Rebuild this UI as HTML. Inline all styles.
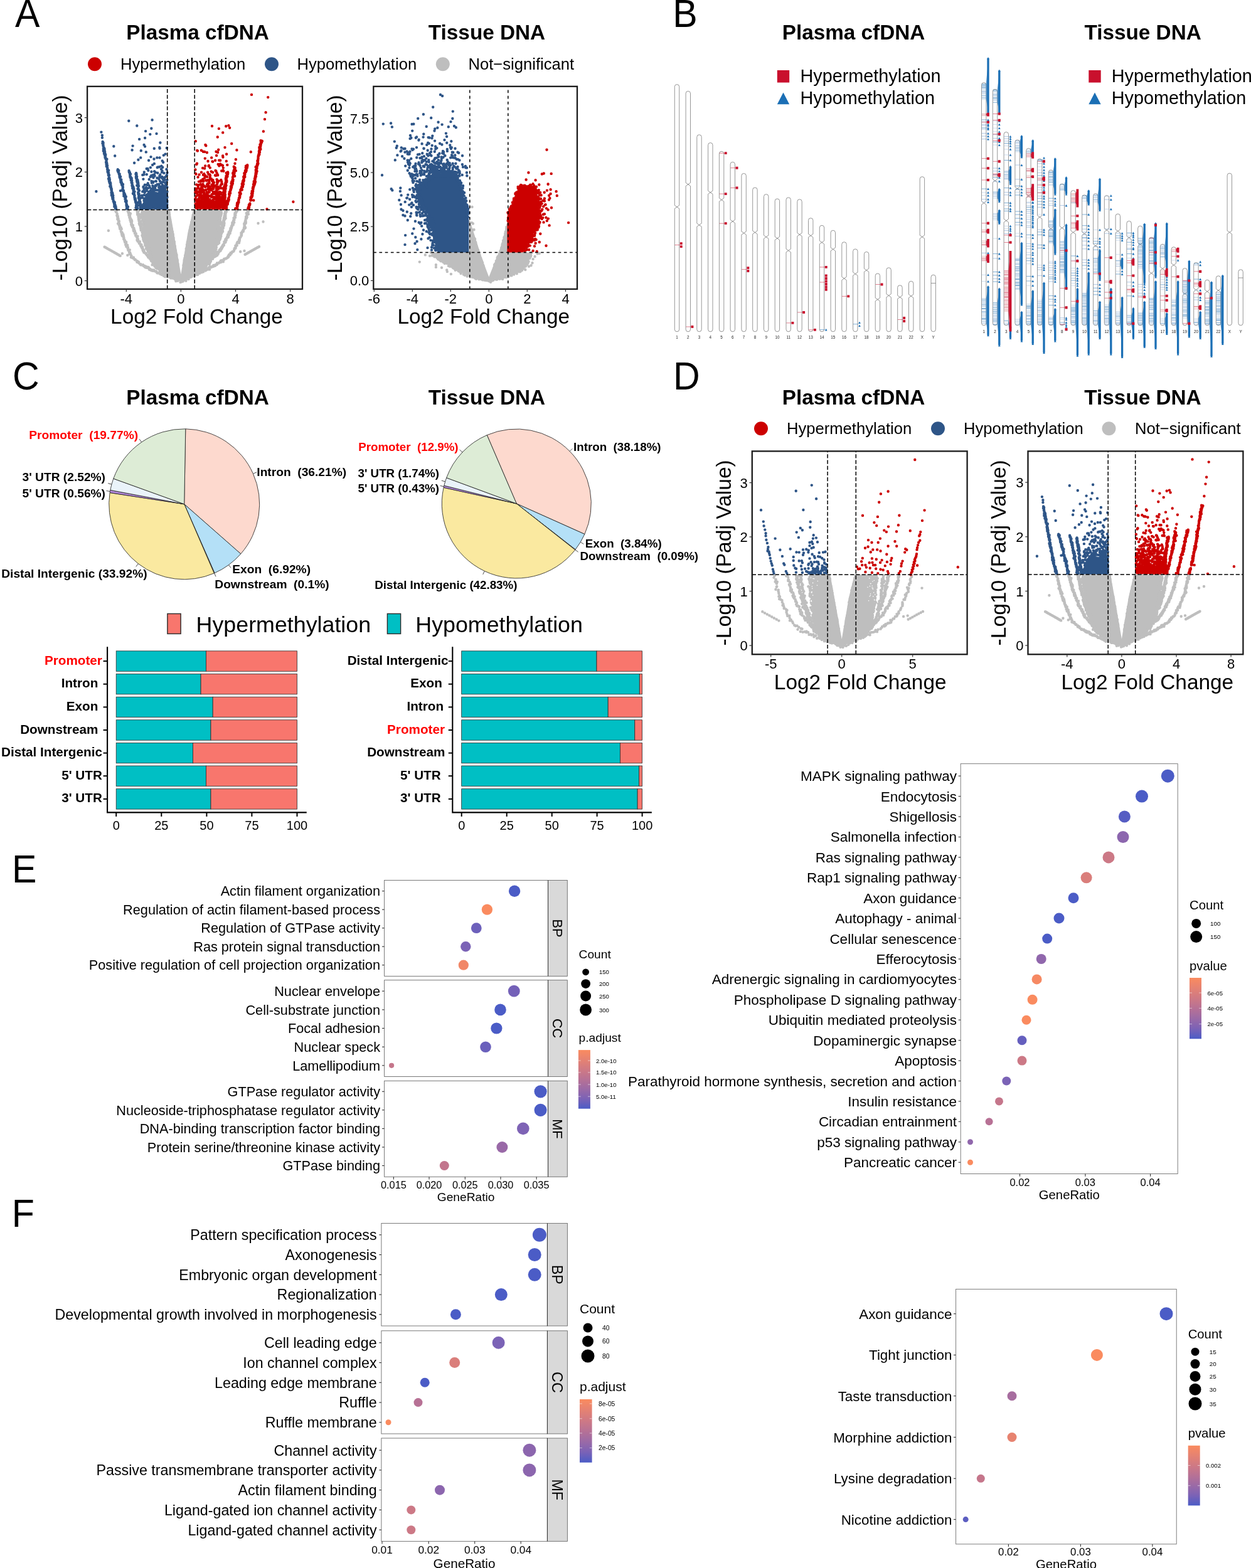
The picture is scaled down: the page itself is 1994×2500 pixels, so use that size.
<!DOCTYPE html>
<html lang="en"><head><meta charset="utf-8"><title>Figure</title>
<style>html,body{margin:0;padding:0;background:#fff;overflow:hidden}svg{display:block}text{white-space:pre}</style></head>
<body>
<svg width="1994" height="2500" viewBox="0 0 1994 2500" font-family='"Liberation Sans", Arial, Helvetica, sans-serif' fill="#000">
<rect width="1994" height="2500" fill="#fff"/>
<text transform="translate(24 42.8) scale(0.985 1.055)" font-size="60">A</text>
<text transform="translate(1072.3 42.8) scale(0.985 1.055)" font-size="60">B</text>
<text transform="translate(20 621) scale(0.985 1.055)" font-size="60">C</text>
<text transform="translate(1072.9 621) scale(0.985 1.055)" font-size="60">D</text>
<text transform="translate(18.9 1406.7) scale(0.985 1.055)" font-size="60">E</text>
<text transform="translate(18.8 1955.5) scale(0.985 1.055)" font-size="60">F</text>
<text x="315" y="62.5" font-size="33.3" text-anchor="middle" font-weight="bold">Plasma cfDNA</text>
<text x="776" y="62.5" font-size="33.3" text-anchor="middle" font-weight="bold">Tissue DNA</text>
<circle cx="151" cy="102.3" r="11" fill="#CC0000"/>
<text x="192" y="111" font-size="25.6">Hypermethylation</text>
<circle cx="433" cy="102.3" r="11" fill="#2E5587"/>
<text x="473.5" y="111" font-size="25.6">Hypomethylation</text>
<circle cx="705.8" cy="102.3" r="11" fill="#BEBEBE"/>
<text x="746.5" y="111" font-size="25.6">Not−significant</text>
<g id="vp">
<path d="M225.2 334.7L270.6 334.7L276.5 368.1L288.4 437.2L299.5 370.2L307.9 334.7L352.9 334.7L349.8 361.9L343.5 397.4L335.1 418.4L318.4 435.1L288.4 449.1L263.9 439.3L247.2 424.6L238.8 403.7L230.5 372.3Z" fill="#BEBEBE"/>
<path d="M352.9 338.3h0M352.7 337.6h0M353.1 340.8h0M351.5 342.3h0M352.3 343.5h0M351.8 345.1h0M350.8 345.8h0M350.9 348h0M351.3 348.6h0M350.3 350h0M350.9 351.4h0M352.1 354.1h0M347.9 352.6h0M350.3 355.5h0M350.5 357.6h0M352.2 357.7h0M349.6 362.3h0M350.4 362.3h0M349 361.4h0M349.5 364.6h0M347.8 365.2h0M348.7 366.3h0M348.5 368.8h0M348.3 369.6h0M348.7 372.4h0M348.1 372.1h0M348.3 373.8h0M348.2 374.6h0M348 377.1h0M345.6 378.2h0M346.6 380.2h0M345.3 380.2h0M346.3 382.3h0M346.1 384.9h0M343.9 385.8h0M346.5 386.7h0M344.3 389.1h0M345.1 390.7h0M344.2 389.7h0M344.2 392.2h0M344.9 394.2h0M342.2 394.2h0M344.5 397.5h0M342.5 398.2h0M343.1 400h0M343 401.1h0M341.5 401.9h0M342.1 401.3h0M340.4 404.9h0M338.6 406.5h0M338.8 408.3h0M338.8 409.5h0M339.6 410.5h0M337 410h0M339.1 412.7h0M336.1 414.3h0M336.1 416.3h0M335.8 416.8h0M334.5 418.6h0M333.3 419.8h0M334.8 418.7h0M329.8 421.8h0M333.8 421.2h0M329 423.8h0M328.4 423.7h0M327.9 425.8h0M326.8 426.5h0M326 426.4h0M324.9 427.3h0M324.2 428.2h0M322.1 431.8h0M322.1 431.3h0M321.7 431.9h0M319.9 433.8h0M319.4 433.2h0M318.9 434.7h0M315.7 435h0M315.1 438.1h0M313 437.2h0M310.7 437.7h0M312.5 438.1h0M309.7 439.1h0M309.7 440.2h0M309.7 440.3h0M305.8 440.6h0M305 441.4h0M303.8 442.1h0M300.8 443.4h0M300.6 442h0M300.6 445.1h0M299.1 444.5h0M296.4 447.8h0M296.9 444.4h0M294 446.3h0M291.9 446.9h0M291.7 448.6h0M291.8 445.3h0M289.6 447h0M289.4 449.2h0M287.5 447.5h0M287.5 450h0M283.2 447.8h0M282.3 446.9h0M280.4 448.3h0M279.3 445.6h0M279.5 444.7h0M277.4 444.2h0M276.2 443.1h0M274.6 443.5h0M273.3 443.3h0M272.1 443.4h0M270.7 442h0M269 441.1h0M267.1 441.6h0M265.9 439.8h0M266.1 440.4h0M264 437.5h0M263.7 438.9h0M260.7 438.5h0M260.4 435.7h0M260.1 435.7h0M259.1 433.3h0M259.7 433.4h0M255.2 433.6h0M255.3 432.4h0M254.3 431.1h0M253.8 429.5h0M253.2 428.8h0M250.5 428.4h0M250.8 427.1h0M248.4 427.1h0M246.4 424.5h0M247.2 423.2h0M246.6 423.1h0M247 420.9h0M244.9 420.9h0M242.6 422.3h0M243.8 417.1h0M244.8 416.5h0M241.7 415.9h0M243.8 413.4h0M242.1 413.1h0M240.9 411.7h0M241.5 409.2h0M239.4 408.4h0M239.4 408.3h0M239.9 406.7h0M239.3 404.9h0M237.9 403.9h0M240.1 401.6h0M237.4 400.3h0M237.1 398.4h0M237.4 397.4h0M238.3 396.4h0M236.8 395.9h0M235.8 395h0M235.1 391.4h0M235 390.7h0M233.6 389.4h0M233 389.5h0M234.2 386h0M233 384.9h0M233.3 382.9h0M232.3 382.4h0M232.3 382.1h0M233.6 379.8h0M232.6 377.1h0M232.3 377h0M231.8 377.2h0M228.7 374.5h0M229.5 373.5h0M229 371h0M230.3 370.7h0M230 367.8h0M229.2 368.1h0M229.5 364.1h0M230.2 364.8h0M230 362.6h0M229.8 360.5h0M229.3 359.6h0M229.2 359.7h0M227.6 357.3h0M228.2 357.1h0M228.7 353.3h0M228.2 353.8h0M229.7 350h0M226.9 351.6h0M225.8 347.6h0M227.5 348.4h0M226.1 346.5h0M226.7 346.1h0M226.4 344.1h0M225.3 341.5h0M225.9 341.5h0M226.4 338.1h0M226.3 338.3h0M269.4 336.8h0M269.7 338h0M270.1 341.8h0M269.9 344.6h0M269.8 345.9h0M271.1 350.2h0M270.5 351.4h0M271.5 353.6h0M271.7 354.8h0M271.1 358.6h0M272.5 360h0M272.9 363.5h0M273.6 364.4h0M273.9 367.4h0M275 369.6h0M275.4 372.4h0M275.7 374h0M275.5 376.1h0M276.5 379.3h0M275.8 380.9h0M276 383.7h0M277.8 385.4h0M277.9 388.3h0M277.8 389.7h0M278.7 392.4h0M278.6 396.3h0M279.2 397.9h0M280 400h0M280 403.9h0M280.4 404.3h0M281.6 406.5h0M281.3 409.1h0M282.2 413h0M282.8 415h0M281.6 416.3h0M282.2 419.1h0M283.6 421.1h0M292.4 423h0M292.9 420.9h0M293.5 417.8h0M293.5 414.9h0M294.1 414.3h0M294.4 411.7h0M295.2 408.6h0M295.3 407.2h0M296.4 404.7h0M298.1 402h0M297.1 400.8h0M296.7 396.7h0M298.1 395.2h0M298.4 392.9h0M297.9 390.1h0M298.7 386.3h0M298.8 385.7h0M300.2 385.1h0M300.6 380.1h0M300.8 379.6h0M300.9 376.9h0M301 374.2h0M302.1 371.1h0M302.8 368.3h0M302.6 366.9h0M303.2 364.9h0M303.6 361.5h0M304.4 360.5h0M305.5 359h0M306.7 354.8h0M305.2 354.3h0M307 349.2h0M307.4 348.1h0M307.3 346.7h0M307.6 342.9h0M308.4 343.1h0M309.5 340.1h0M309 337.7h0M184.2 336.2h0M185 336.4h0M185.6 336.2h0M185.6 338.3h0M184.9 338h0M185.4 338.2h0M186.8 341.1h0M186.9 341.3h0M186.6 342.2h0M186.3 343.6h0M187.8 344.6h0M186.9 344.9h0M187.4 347h0M187.8 345.4h0M188.2 348.9h0M188.6 349.1h0M188.4 348.1h0M187.3 349.5h0M188.7 351.5h0M189.5 352h0M189.9 353h0M189 354.7h0M189 353.1h0M189.1 356h0M188 356.6h0M190.1 356.8h0M189.5 358.4h0M190.4 360.5h0M191.2 359.4h0M190.6 362h0M192.8 362.7h0M191.9 364.6h0M191.8 364h0M191.1 364.8h0M193.8 365.1h0M192.5 366h0M192.8 368.6h0M192.9 369.4h0M193.9 370h0M195 371.2h0M193.9 371h0M193.9 372.7h0M194.6 375.2h0M196.5 374h0M195.3 376.2h0M194.6 375.6h0M196.9 376.2h0M196.3 377.4h0M197.4 378.7h0M197.6 379.9h0M197.7 381.1h0M197.5 380.2h0M197.1 381h0M198.3 383.7h0M199.2 383.4h0M198.7 384.4h0M199.5 385.2h0M199.1 386.2h0M201.2 385.9h0M200.7 386.8h0M201.3 388.6h0M200.1 390.1h0M203.2 391h0M203.2 391.7h0M201.2 393h0M202.8 392.5h0M204.1 394.6h0M203.5 395.8h0M203.7 396.6h0M204 397.3h0M204.3 398.9h0M205.6 399.7h0M205.3 399.2h0M206.8 398.5h0M205.9 402h0M207.3 402.9h0M207.2 403.4h0M207.3 403h0M207 404.4h0M208.2 405.2h0M206.4 405.1h0M208.9 407.6h0M209.4 407.6h0M208.9 410.3h0M210.4 410.7h0M212.9 410.4h0M212.1 411h0M212.4 411.7h0M213.8 412.6h0M215.2 414.1h0M214.9 414.3h0M215.3 413.6h0M216.1 414.2h0M217.9 416.2h0M218.8 416.2h0M218.7 416.5h0M218.4 417.9h0M220.1 417.5h0M221 417.7h0M221.1 419.2h0M221.5 419.5h0M223.4 421.2h0M224.4 421.3h0M223.5 421.4h0M224.4 422.4h0M227 422.7h0M226.5 422.6h0M228 422.3h0M228.8 423.9h0M229.1 423.9h0M230.5 424h0M230.6 425.6h0M232.2 426.6h0M232.2 424.6h0M234.4 427h0M234.1 425.7h0M235.4 425.9h0M236.1 426h0M237 426.5h0M237.8 429.5h0M238.7 429.4h0M239.3 428.6h0M239.5 430.3h0M241.4 431.2h0M241.5 430.3h0M243.2 431.8h0M245.3 430.7h0M244.1 430.4h0M246.7 431.9h0M246.2 432.3h0M245.7 431.6h0M249 433.5h0M249.3 432.9h0M250.5 435.2h0M250.1 434.4h0M251.5 435h0M252.7 435.1h0M252.9 435.5h0M254 435.8h0M255.2 436.8h0M255.7 436.5h0M257.7 437h0M257.7 438.1h0M258.9 438h0M259.7 437.5h0M260.8 439.7h0M261.7 438h0M262.4 438.9h0M262.9 440h0M263.1 441.2h0M203.6 336.2h0M204.3 336.2h0M204.9 336.2h0M204.2 336.2h0M204.1 337.7h0M205.2 338.7h0M204.5 338.7h0M205 340h0M206.3 339.5h0M208 340.4h0M205.3 341.4h0M206.2 342.1h0M205.4 343.3h0M206.1 344h0M207.2 342.7h0M205.8 343.5h0M206.8 344.9h0M207 344.9h0M207.3 347.1h0M206.3 346.7h0M207.6 347.3h0M207.4 349.3h0M208.7 349.3h0M207.4 350.9h0M208.4 349.6h0M208.1 350.3h0M210 351.4h0M208.8 350.4h0M209.4 351.8h0M208.3 353.6h0M208.7 354.4h0M210.2 353.2h0M209.6 354h0M209.8 356.4h0M209.1 357.7h0M210 356.2h0M210.3 358.2h0M209.6 358.3h0M209.8 359.8h0M211.1 359.3h0M211.9 359.3h0M211.1 362.2h0M211.4 362.5h0M211.9 361.7h0M211.8 362.8h0M211.9 362.8h0M211.9 363h0M212.8 364.9h0M213.5 364h0M213.8 365.8h0M212.5 366.5h0M214.3 367.5h0M214.5 368.4h0M214.8 368.3h0M213 368.4h0M215 369.2h0M215.4 370.8h0M215.2 372.1h0M214.8 372.1h0M215.4 371.5h0M216.4 372.2h0M216.8 372.5h0M216.5 373.3h0M216.5 374.3h0M216.1 375.6h0M216.3 375.1h0M218.1 377.1h0M218.1 377.2h0M219.5 376.8h0M217.7 377.6h0M219 379.1h0M219.4 380.2h0M218.8 379.5h0M218.5 382.3h0M220.1 381.8h0M219.4 381.8h0M219.7 382.4h0M218.5 383.1h0M220.2 384h0M220.9 385h0M221.1 385.5h0M219.6 384.8h0M222.9 385.3h0M221.8 387.3h0M221.7 387.9h0M221.6 386.6h0M221.9 387.4h0M223.2 388.9h0M223.7 389h0M225.5 390.3h0M224 391.3h0M224.2 391.1h0M224.7 392.8h0M225.4 393.4h0M224.9 392.8h0M227 393.8h0M226.2 395h0M227.2 394.2h0M226.1 395.4h0M226.5 394.6h0M227 394.9h0M227.6 397.9h0M228.1 397.3h0M228.6 398.1h0M227.4 398.6h0M228 400h0M229.6 398.9h0M229.1 401.5h0M230 401.7h0M229.3 402.6h0M229.7 402.5h0M232.1 404.2h0M232 404h0M231.6 403.6h0M233.3 404.5h0M232.8 404h0M233.4 405.9h0M233.2 405.6h0M235.3 406.6h0M234.4 406.2h0M234.6 407.4h0M236.4 407.6h0M237.1 407.9h0M236.1 409.7h0M236.6 409h0M237.1 410.4h0M236.4 410.4h0M237.9 410.8h0M239 411.2h0M238.6 412.2h0M239.8 412.5h0M240.8 412.5h0M241 413.1h0M240.4 414.5h0M242.4 415.4h0M241.1 416.2h0M241.6 415.2h0M242.5 416.4h0M243.3 416.4h0M243.3 417.8h0M243.6 417.8h0M243.4 419h0M244.4 419.3h0M244.5 419.4h0M244.4 420h0M246.1 420.5h0M246.6 421.2h0M247.3 421.4h0M245.6 422.3h0M247.1 421.9h0M219.4 336.2h0M219.3 336.2h0M219.3 336.2h0M220.5 336.2h0M219.3 336.7h0M218.2 336.2h0M221 336.2h0M220 337.3h0M219.1 336.9h0M219.1 339.3h0M218.9 339.6h0M220.1 341.1h0M219.7 341h0M220.7 340.4h0M219 342.1h0M219.3 341.2h0M221 342.8h0M219.9 342.4h0M220.4 343.7h0M222.4 342.1h0M221.4 341.8h0M220.8 343.5h0M222.3 344.8h0M220.5 344.8h0M220.7 345.8h0M221 346.6h0M222.3 347h0M220.5 345.9h0M220.9 348.2h0M221.3 347.5h0M221.7 347.4h0M220.9 349.2h0M221.6 349h0M222.1 349.3h0M221.5 349.9h0M222.5 350.7h0M221.3 350.9h0M222.7 352.9h0M221.5 352.3h0M222.2 353.1h0M222.8 354h0M222.9 353h0M222.3 354.2h0M223 356h0M224 354h0M223.2 354.3h0M221.8 356.2h0M223.5 355.4h0M224.3 355.9h0M222.4 357.5h0M223.5 357.4h0M223.4 358.2h0M223.4 358.3h0M222.3 358h0M224.1 358.9h0M224.2 360.7h0M223.6 360.5h0M225.4 361.2h0M225.3 362.3h0M224.7 361.6h0M223.7 361.3h0M224.7 362.9h0M224.4 363.6h0M224.2 364.2h0M224.8 363.9h0M224.9 364.3h0M226.7 363.7h0M225.2 366.1h0M225.7 365.5h0M226.6 365.4h0M224.6 367h0M224.6 365.4h0M226.3 368h0M226.4 367.6h0M226.1 367.7h0M227.3 369.4h0M226.7 367.9h0M226.9 370.8h0M227.3 370.8h0M226.6 370.4h0M227.1 371.4h0M227 371.3h0M228.1 371.2h0M227.1 372h0M227.9 373.9h0M228.2 373.9h0M226.5 375.3h0M227.9 374.2h0M227.7 374.5h0M228.1 375.4h0M227.7 373.8h0M228 376.4h0M228.5 376.4h0M228.6 377.7h0M228.1 378.4h0M227.2 377h0M228 376.6h0M228.1 379.6h0M229.8 379.3h0M230.2 379.8h0M228.8 380.3h0M229.2 381.1h0M228.3 381.7h0M229.2 382h0M228.6 381.6h0M229.8 383h0M229 384h0M230.4 382.9h0M231 383.8h0M231.1 385.8h0M230.9 384.2h0M230.2 385.4h0M230.9 384.9h0M230.4 386.4h0M232.7 384.5h0M231.7 386.6h0M231.9 387.8h0M231.5 386.9h0M230.7 386.8h0M232.7 388.4h0M231.6 388.8h0M231.2 389.6h0M233.2 390.6h0M231.4 391.2h0M232.1 389.4h0M232 390.5h0M233 390.9h0M232.1 391.8h0M234.6 392h0M233.8 393h0M235.5 392h0M234.6 392.9h0M233.5 394.1h0M236.4 394.1h0M233 396h0M233.9 395.3h0M234.6 396h0M234.7 396.6h0M235.2 397.4h0M234.8 396.7h0M234.5 398.1h0M235.4 398.5h0M236 399.7h0M235.9 399.5h0M235.1 398.7h0M235.9 399h0M236.7 399.4h0M236.5 399h0M235.8 401h0M236.6 400.4h0M395.9 336.2h0M396.1 336.2h0M395 336.2h0M395.6 338.3h0M394.6 337h0M394.9 339.6h0M392.7 340h0M395.9 341.4h0M394.6 342h0M394.7 341.9h0M393.2 343.7h0M393.1 344.5h0M392 345.8h0M393.8 346.1h0M393.1 348.1h0M392 347.2h0M391.8 348.5h0M391.6 349.7h0M391.7 349.5h0M390.9 352.2h0M391.7 352.1h0M391.5 353.1h0M391.9 354.4h0M390.7 354.3h0M390.2 354.9h0M391.7 356h0M389.1 357h0M389.8 358.7h0M389.5 359.7h0M390.2 361.1h0M391.2 363.1h0M390.4 361.2h0M388.9 363h0M390.3 364.1h0M389.3 364.4h0M388.5 365.8h0M387.5 366.7h0M388.2 366.9h0M387.8 369h0M386.8 368.7h0M386.2 369.1h0M386.2 370.1h0M385.6 370.7h0M384.4 371.4h0M385.3 372.1h0M384.3 374.9h0M385.2 374.1h0M384.5 374.9h0M384.9 375.8h0M383.5 378.1h0M382.5 378.8h0M382.2 378.9h0M382.2 379.5h0M382.2 380.4h0M381 381.9h0M381.9 383h0M382 382h0M381.6 384.7h0M379.9 385.3h0M380.9 385h0M378.5 385.9h0M381 387.2h0M377.8 387.6h0M377.5 388.3h0M377.9 387.6h0M377.7 391.2h0M376.9 390.8h0M377.4 391h0M375.3 391.7h0M375.7 393.7h0M375.3 394.7h0M375.6 395.4h0M374 395.7h0M375.1 396h0M373.6 397.2h0M373.3 397.6h0M372 400.9h0M373.1 399.4h0M371.8 401h0M370.9 401.6h0M370.1 401.5h0M369.8 402.1h0M367.5 403.1h0M368.8 404h0M367.3 404.6h0M367.5 403.7h0M365.2 405.9h0M365.4 407h0M366.9 406.5h0M364.3 407.5h0M364.6 407.4h0M364.4 409.5h0M363.3 409.1h0M362.9 410.7h0M360.7 412.2h0M360.7 411.6h0M359.9 412.3h0M360.4 411.9h0M357.6 412.7h0M357.1 412.9h0M357.2 413.9h0M357.4 413.7h0M356 414.5h0M355.9 417.2h0M354.4 417h0M353 415.2h0M351.8 415.7h0M351.2 417.1h0M351.9 418.3h0M350.7 418h0M349.1 418.8h0M348.9 419.4h0M348.3 419.6h0M345.9 419.4h0M345.9 421.8h0M345.4 421.6h0M346 421.8h0M343.9 421.9h0M342.7 422.8h0M343.4 423.4h0M342.4 423.9h0M342.4 423.3h0M340.3 424.7h0M340.3 422.9h0M338.2 424.9h0M337.1 426h0M337.1 425.5h0M335 425.3h0M334.7 426.9h0M333.7 425.6h0M332.7 427h0M334.1 429.6h0M331.8 428.9h0M332.3 429.5h0M330.4 428.1h0M329.3 428.1h0M329 430.4h0M326.7 430.2h0M327.5 431.5h0M327.4 431.6h0M325.2 431.2h0M325.7 431.5h0M324 433.4h0M323.3 431.7h0M322.2 433.5h0M321.5 434.3h0M321.7 433.4h0M319.6 434.2h0M318.3 435h0M318.2 435.7h0M376.5 336.2h0M378.1 336.2h0M376.3 336.2h0M376.3 336.2h0M376.3 336.3h0M375.9 337.6h0M376.6 338.3h0M375.4 338.7h0M375.7 338.9h0M374.4 340h0M375.4 341.3h0M375.8 339.9h0M374.2 342h0M374.4 342.2h0M374.7 343.8h0M374.8 343.9h0M375.5 343.1h0M374.2 345h0M374.3 343.9h0M375 346.8h0M374 346.6h0M373.7 347.1h0M373.5 347.6h0M373.9 347.1h0M373.6 347.4h0M372.5 347.6h0M373.1 348.1h0M373.3 349.8h0M373.2 349.6h0M372.7 350.5h0M373.5 350.5h0M372.1 351.5h0M372.1 351.6h0M371.7 353.4h0M371.5 353.9h0M373.2 354.7h0M370.4 354.9h0M371.8 355.3h0M370.2 356h0M370.4 356.9h0M371.8 358.3h0M370.6 356h0M371.5 358.2h0M370.3 359.1h0M370.8 357.8h0M369.9 358.9h0M369.9 359.9h0M369.2 360.1h0M369.9 360.7h0M369.1 361.1h0M369 360.5h0M369 361.6h0M368.7 361.8h0M369.1 363.6h0M367.3 364.1h0M367.5 365.7h0M368.2 364.4h0M367.8 365.5h0M368.2 366.3h0M367.6 365.8h0M367.5 368.5h0M367.2 367.6h0M366.7 367.5h0M366.5 367.9h0M366.2 368.9h0M365.4 370.1h0M364.7 370.2h0M364.6 372h0M366.7 371.9h0M366.4 372.2h0M365.3 372h0M364.1 372.9h0M364.1 373.1h0M364.8 373.8h0M363 374.3h0M363.3 374.8h0M362.9 376.3h0M364.7 375.2h0M363.7 377h0M362.2 377.1h0M363.8 378.2h0M363.7 377.3h0M361.8 378.8h0M362.3 379.1h0M361.5 379.3h0M361.1 380.4h0M359.3 381.7h0M360.6 380.1h0M361.1 380.6h0M360.7 381.8h0M360.6 383.1h0M360.8 382.7h0M359.4 383.6h0M358.3 384.5h0M359.1 383.6h0M359.6 386h0M357.6 385.9h0M359.1 386.6h0M357.3 385.6h0M357.6 386.7h0M357.4 387.4h0M357.5 387.6h0M356.7 390.6h0M356.5 389.5h0M356.5 389.6h0M355.4 390.4h0M355.7 391.1h0M356.9 391.1h0M355.7 390.8h0M355 393h0M354.6 392h0M354.5 392.8h0M353.9 393.2h0M355.2 393.3h0M353.3 394h0M354.1 394.7h0M353.9 395.5h0M352.7 394.9h0M353.3 396.8h0M352.5 396.8h0M351.6 396.5h0M352.2 398h0M350.9 397.8h0M350.9 398.6h0M351.6 399.7h0M349.7 398.8h0M349.6 399.4h0M349.4 400.7h0M349.5 401.2h0M348.5 401.7h0M347.7 401.7h0M348.5 402.4h0M346.7 401.8h0M346.1 404.3h0M345.8 403.4h0M347.8 404.7h0M347 404h0M346.3 406.9h0M345.4 405.5h0M344.8 405.7h0M344.9 407.1h0M343.7 405.5h0M344 407.1h0M344.6 407.9h0M342.8 408.2h0M343.6 408.5h0M342.3 409.2h0M341.9 407.8h0M342.7 408.7h0M341.2 409.8h0M360 336.2h0M359.2 336.2h0M360.1 336.2h0M360.8 336.5h0M360.9 337.4h0M360.2 336.2h0M360 336.9h0M359.8 336.8h0M359.1 338.2h0M360.3 337.2h0M359.9 338.2h0M359.2 339.2h0M359.4 338.7h0M359.4 338.1h0M358.8 339.5h0M358.2 340.3h0M359.3 340.1h0M358.9 341.4h0M359.7 340.8h0M359.1 342.4h0M358.8 341.5h0M358.2 342.2h0M357.9 344.2h0M358.2 343.4h0M358.7 343.9h0M358.2 343h0M359.5 344.2h0M358.4 344.7h0M359.1 345.5h0M359 345.9h0M358.2 345.9h0M357.5 344.7h0M357.8 345.7h0M359.7 347.9h0M358.6 346.8h0M359.2 346.3h0M356.8 347.4h0M356.9 348.4h0M357.7 350h0M358.2 349.9h0M357.7 349.3h0M356.8 348.7h0M356.6 349.9h0M357.7 349.3h0M356.2 351h0M356.3 351.5h0M356.7 351.1h0M356 351.9h0M356.3 351.9h0M356.3 352.8h0M356.8 351.9h0M356.5 353.7h0M357.3 354.4h0M356.6 353.4h0M355.9 355.2h0M355.8 355.6h0M357.1 354.5h0M356.5 355.6h0M357.5 356.6h0M355.7 356.7h0M355.3 356.6h0M356 357.2h0M356 356.9h0M354.5 357.6h0M355.1 357.7h0M357.1 359.4h0M355.4 358h0M354.6 359.6h0M356.2 359.5h0M355.4 360.2h0M356 359.1h0M355.3 361.1h0M355.8 361.4h0M354.3 361.1h0M353.9 362h0M355 362.6h0M354.1 361.8h0M355.8 363.1h0M355.8 363.7h0M353.5 364.3h0M355.3 363.8h0M352.9 364.9h0M354.1 365h0M352.2 365.5h0M352.1 364.9h0M354.5 364.6h0M352.5 365.9h0M354.9 367.7h0M353.2 367.7h0M353.9 367.5h0M353.7 367.2h0M353.9 368.8h0M355.1 369.1h0M351.4 367.9h0M353.3 369.2h0M351.6 369.4h0M352.6 369.8h0M352.6 370.9h0M353.7 371.1h0M351.8 370.4h0M352 371.3h0M352 371.4h0M351.6 372.7h0M352.7 373.1h0M352 373.1h0M351.3 372.4h0M351.5 373.9h0M351.7 373.1h0M351.7 374.5h0M351.7 374.1h0M351.5 374.6h0M351.1 375.2h0M351.8 376.9h0M352.3 376.5h0M350.8 376.2h0M350.8 377.6h0M348.9 377.3h0M349.4 377.5h0M351.6 377.2h0M349 379.1h0M351.5 378.9h0M351.3 378.4h0M351.1 380.5h0M350.6 379.8h0M351 380.8h0M349.5 381.3h0M350.4 380.8h0M350.7 381.7h0M350.2 381.1h0M350.2 381h0M349.4 381h0M348.2 382.9h0M349.3 383h0M349.6 383.5h0M348.5 383.7h0M349 383.6h0M348.8 384.1h0M348.4 384.5h0M348.9 386.5h0M348.1 385.8h0M347.5 386.9h0M348.2 386.3h0M349.2 387.2h0M347.2 387.3h0M348 387.7h0M348.2 388.1h0M348.2 387.9h0M348.7 387.3h0M347.5 388h0M347.6 388.8h0M166.6 393.7h0M167.8 394.3h0M169 395h0M170.2 395.7h0M171.4 396.4h0M172.6 397.1h0M173.8 397.7h0M175 398.4h0M176.2 399.1h0M177.4 399.8h0M178.6 400.4h0M179.8 401.1h0M181 401.8h0M182.2 402.5h0M183.4 403.2h0M184.6 403.8h0M185.8 404.5h0M187 405.2h0M188.2 405.9h0M189.3 406.5h0M190.5 407.2h0M191.7 407.9h0M390.6 405.8h0M391.6 405.2h0M392.7 404.6h0M393.8 404h0M394.8 403.4h0M395.9 402.8h0M397 402.2h0M398 401.6h0M399.1 401h0M400.2 400.4h0M401.2 399.8h0M402.3 399.2h0M403.4 398.6h0M404.4 398h0M405.5 397.4h0M406.6 396.8h0M407.6 396.2h0M408.7 395.6h0M409.8 395h0M410.8 394.4h0M411.9 393.9h0M413 393.3h0M172.9 367.7h0M411.5 356h0M419.5 353.5h0M194.9 404.3h0M203.3 406.9h0M383.2 401.2h0M389.5 399.9h0" stroke="#BEBEBE" stroke-width="4.4" stroke-linecap="round" fill="none"/>
<path d="M253.1 308.8h0M248.9 322h0M237.2 314.8h0M258.1 323.7h0M258.8 309.8h0M240.8 328.7h0M254.3 330.2h0M236.7 294.9h0M252.1 312h0M259.7 285.7h0M251.1 308.4h0M246.9 319.9h0M263.6 282.2h0M254.6 322.9h0M244.2 329.6h0M256.5 305.4h0M232.5 324.3h0M248.4 308h0M258.5 312h0M247.2 317.3h0M248.5 325.4h0M245.9 260.9h0M240.1 325h0M259.3 316.3h0M231.4 316.3h0M237.2 332.1h0M242.4 306.7h0M246.6 331.1h0M260.3 332h0M252.6 311.6h0M261.2 315.8h0M235.7 316.1h0M241.9 327.8h0M235.7 292.3h0M250.8 329.9h0M246.9 329.5h0M243.3 296.1h0M248.9 303.1h0M251.7 266.4h0M237.2 330.4h0M263.3 305.8h0M257 330.6h0M244.1 291h0M262.9 331.4h0M241.4 321.7h0M265.3 331.4h0M253.5 326.3h0M258.2 332.1h0M229.9 328.4h0M266.2 312.9h0M264.4 320.1h0M239.9 311.1h0M258.2 309h0M242.1 313.9h0M240.7 307.4h0M261.9 312.8h0M257.4 326.7h0M245.4 327.4h0M246.7 328.5h0M236.3 312.2h0M247.3 303.1h0M255.7 305.3h0M226.9 314.8h0M230 318.7h0M235.5 332.2h0M236.3 314h0M265.2 311.7h0M240.1 331.1h0M239.2 328.7h0M254.2 315.4h0M250.6 312.1h0M237.7 286h0M257 328.1h0M260.9 315.6h0M239.2 317.4h0M255.7 318.5h0M253.6 331.5h0M257.3 264.6h0M244 329.4h0M261.6 323.6h0M266 298.8h0M244 331.1h0M262 330.4h0M264.6 296.1h0M263.6 245.6h0M263.6 297.8h0M248.2 327.8h0M234.6 325.2h0M259.7 331.8h0M248.9 326.8h0M263.7 331h0M255.4 227.5h0M237 323.3h0M255.3 278.5h0M258.4 281.9h0M228.4 285.6h0M247.5 312.8h0M260.8 331.4h0M257.3 329.8h0M244.5 283.3h0M249 317.1h0M236.6 311h0M255.8 297.4h0M230.3 323.5h0M234.1 330.8h0M247 322.3h0M255.8 326.6h0M247.2 301.1h0M262.9 313.4h0M250.7 313.1h0M260.8 313.3h0M266.5 331h0M241.5 327.4h0M262.7 323.6h0M264.2 324.2h0M260.9 316h0M239.9 267.1h0M240.6 324.3h0M236.3 325.3h0M258.3 318h0M255.6 322.5h0M255.3 313.4h0M245.7 324.6h0M248.8 289h0M256.6 309.4h0M233.5 320.4h0M258.5 331.7h0M264.3 298.2h0M254.7 313.6h0M262.1 283.3h0M250.7 267h0M258.5 313.5h0M250.7 325.7h0M239.8 326.6h0M256.2 329.8h0M258.6 331.3h0M244.3 310h0M231.3 320.6h0M254.6 329.5h0M255.3 325h0M250 329h0M238.8 313.3h0M242.5 308.2h0M261.5 306.2h0M228.5 297.6h0M226.8 328.4h0M265.9 328h0M252.5 317.2h0M237.6 330.5h0M258 318.1h0M238.7 329.9h0M232.6 330.4h0M253.8 324.4h0M244.4 306.5h0M247.7 320.1h0M263.9 325.4h0M235.5 269h0M252.7 294.6h0M238.9 324.2h0M262.7 297.3h0M263 332.2h0M260.1 313h0M245.4 317.1h0M235.5 300.3h0M256 328.3h0M225.9 330.1h0M261.2 323.7h0M261.5 299.8h0M234.3 294.8h0M266.5 305.4h0M230.4 306.6h0M260.1 311.6h0M266 320.4h0M254.9 330.7h0M239.9 325.5h0M229.7 311h0M252.6 317.7h0M249.8 322.9h0M255.2 303.9h0M265.9 331.1h0M240.1 329.7h0M265 312.8h0M236.5 331.6h0M233.7 325.8h0M264.6 311.1h0M240.4 304.4h0M228.6 332.1h0M251.1 310.6h0M256.1 298.1h0M255.3 308.9h0M258.4 301.3h0M260.7 324.3h0M232.6 330.5h0M254.7 330.6h0M258 329.5h0M237.5 321.1h0M238.2 296.6h0M252.6 327.6h0M265.1 311.3h0M253.4 285.5h0M258.2 323.9h0M251.6 313.3h0M246.9 311h0M263.8 325.8h0M264.3 332.4h0M261.1 329.4h0M256.5 316.1h0M241.6 318.7h0M255.5 328.9h0M241.1 332h0M250.8 311.8h0M236 314.1h0M258.5 326.3h0M249.2 322.1h0M230.8 324.5h0M257 328.5h0M259 307.7h0M260.4 321.6h0M227.3 327.1h0M248.8 330.1h0M258.1 328.2h0M255.8 303.8h0M254.4 282.1h0M234.2 321.2h0M241.1 307.8h0M257.8 325.8h0M229.9 304.2h0M257 328.1h0M243.1 320.5h0M255.3 332.2h0M241.3 307.4h0M235.4 329.3h0M256.9 321.3h0M249 330.1h0M244.7 319h0M260.4 326.8h0M231.4 305.2h0M265.2 296.4h0M261.3 311.6h0M247.8 295.8h0M245.1 305.6h0M254.6 331.5h0M247.5 311.3h0M261.3 322.9h0M264.3 324.2h0M246.5 323h0M231.8 332.1h0M263.2 302.2h0M236.7 313.5h0M248.5 330.6h0M261.5 319.3h0M259.3 331.4h0M259.2 312.6h0M241.8 301.3h0M256.4 324.3h0M244.4 323.8h0M235 314.1h0M263 296.5h0M250.9 326.3h0M247.1 331.9h0M257.3 290.7h0M254.3 316.4h0M245.8 315.3h0M241.6 320.6h0M256.1 318.7h0M258.4 331.2h0M233.6 325.1h0M249.3 319.3h0M263.7 320.4h0M259.3 319h0M239.2 330h0M242.6 330.5h0M240.8 331h0M259.8 331.6h0M230.7 306.8h0M263 322.7h0M235.4 314.8h0M265.1 331.1h0M257.9 274.6h0M253.7 325.5h0M255.5 303.5h0M265.8 332.2h0M262.8 328.8h0M240.9 327.3h0M262.8 297h0M243.9 329.4h0M237.6 328.2h0M252.4 324.8h0M256.6 330.1h0M251.4 317.1h0M262.9 310.2h0M242.9 327.2h0M238.7 329.7h0M258 318.7h0M239.2 331.8h0M257.9 297.1h0M249.8 330.3h0M261.4 323.6h0M261.9 328.5h0M236.3 271.7h0M266.5 275.3h0M266.3 326.2h0M228.5 298.8h0M241.8 305.3h0M244.1 298.4h0M256.4 314.2h0M250.1 318.3h0M265.9 307.6h0M233.7 328.1h0M258.8 316h0M259.3 303.8h0M261.7 323.8h0M250.4 320h0M247.7 314.4h0M243.1 315.3h0M227.2 305.4h0M258.7 317.2h0M257.8 283.4h0M238.3 330.9h0M248.8 329.5h0M244.1 319.8h0M243.4 327.3h0M262.5 307.4h0M243 301.6h0M238.9 312.1h0M233.7 310.8h0M259.3 297.3h0M250.4 283.8h0M229.8 274.5h0M252.2 326h0M259.1 324.6h0M254.2 266h0M235.7 328.2h0M253.3 295h0M251.6 329.4h0M265.7 316.3h0M255.7 331.4h0M245.6 307.3h0M229.5 302.6h0M227.2 332.2h0M237.1 255.7h0M265.9 278.9h0M249.8 323.9h0M254 321.3h0M261.5 329.2h0M263 325.3h0M252.8 331.6h0M242 311.2h0M237.4 305.8h0M256.1 331.3h0M245.9 326.1h0M263.8 329.4h0M245.5 331.6h0M250.5 314.9h0M259.4 304.8h0M236.5 308.3h0M263.4 329h0M254.2 329.6h0M245.8 236.8h0M236.9 318.4h0M245.5 320.2h0M248.7 324.3h0M250.9 313.6h0M263.5 314.4h0M247 330.3h0M239.9 327.7h0M245.7 318.6h0M261.9 329.8h0M256.2 309.8h0M264 317.3h0M255.7 328.1h0M264.2 305.4h0M258.2 290.8h0M255.7 330.1h0M264.6 326.2h0M256.4 331.1h0M262.5 307.5h0M262.6 302.6h0M241.6 314.1h0M264.9 328.1h0M229.1 330.9h0M239.4 311.1h0M242.8 316.1h0M264.9 315.7h0M234 332.2h0M252 321.2h0M265.4 320.6h0M252.4 324.8h0M243.1 263h0M229.7 316.6h0M258 329.4h0M263.5 320h0M241.5 288.9h0M242.6 326.1h0M241.4 332h0M258.6 272.4h0M250.5 294h0M257.2 329.6h0M231.4 322.9h0M248.1 321.5h0M262.4 301.9h0M252.7 323h0M240.5 315.6h0M262.5 286.7h0M243.7 301h0M262.5 328.3h0M262.3 325.8h0M243.8 331.4h0M255.1 331.7h0M259.6 317.2h0M256.8 291.8h0M255.8 315.7h0M246.7 301.3h0M244.6 327.7h0M242.5 328.9h0M266.2 328.1h0M243.6 318.6h0M228.8 325.8h0M253.4 320.7h0M244.9 318.9h0M262 312.9h0M257 269.7h0M263.2 330.6h0M254.6 318.3h0M259.7 290.1h0M244.1 289.6h0M257.9 327h0M238.9 332.3h0M260.8 247.6h0M258.8 323.9h0M242.2 329.7h0M252.7 331.7h0M251.6 323.2h0M253.2 323.4h0M259.2 266.8h0M232.9 298.9h0M255.3 312.6h0M232 318.3h0M247.2 318.6h0M249.9 327.4h0M236 326.3h0M258.9 332h0M257.6 321.8h0M241.3 309.7h0M255.6 330.1h0M248.9 331.4h0M239.7 281.9h0M265.6 323.4h0M244.9 297.9h0M259 311.7h0M260.1 258.8h0M246.3 316.6h0M261.1 316.2h0M226.3 315.2h0M240.8 326.4h0M254.5 311.5h0M246.1 273.3h0M262.3 324.6h0M264.7 328h0M253.4 328.6h0M243.5 329.5h0M254.4 300.8h0M260.4 332h0M253.2 326.4h0M255.6 330.9h0M252.1 330.9h0M265.1 280.6h0M233.7 268.9h0M243.2 317.4h0M257.4 301.1h0M266.4 322.5h0M244.8 311.5h0M231.2 330.4h0M259.9 321.1h0M236.5 315.8h0M247 299.9h0M252.1 325.3h0M266.4 322.5h0M242.9 311.1h0M253.2 293.6h0M255.3 332.3h0M260 300.9h0M247.7 274.7h0M250.7 326.4h0M234.1 319.8h0M232.7 312h0M233.5 313.8h0M258.9 330.7h0M236.5 317.7h0M241.8 291.6h0M245.9 326.3h0M247.2 325.6h0M248.7 296.5h0M241.6 328.3h0M264.2 327.1h0M243.3 328.9h0M242.9 325.3h0M233.9 304h0M248.1 296.2h0M242.8 317.3h0M241.2 279.9h0M258.3 329.9h0M253.8 322.6h0M261.2 324.5h0M254.9 312.7h0M256.2 314.3h0M262 327.8h0M232.1 300.3h0M255.6 328.1h0M266.5 320.2h0M236.8 331.4h0M230.8 294.7h0M249.5 314.9h0M261.2 321.6h0M264.2 317.4h0M245.4 301.6h0M233.2 326.1h0M265.7 309.6h0M255.9 322.8h0M253 325.8h0M237.9 331.8h0M238.7 311.5h0M265.2 316.5h0M234.2 321.4h0M253.5 303h0M265.4 290.6h0M256.7 329.2h0M236.7 329h0M266.4 298.5h0M237.4 306.1h0M247.3 329h0M252.5 325.7h0M244 326.9h0M240.5 326.7h0M259.2 324h0M236.5 322h0M265.8 235.9h0M246 320.2h0M266.5 314.6h0M252.7 330.5h0M253.2 298.6h0M263.9 310.6h0M229.4 278.2h0M241.4 273.7h0M248.2 288.9h0M245.5 329.4h0M261.1 287.5h0M257 298.5h0M244.4 329h0M226.2 311.6h0M259 329h0M240.2 317h0M265.3 331.3h0M235.5 330.1h0M259.1 295h0M243.7 279.1h0M253.8 320.8h0M239 299.1h0M251.9 315.6h0M240.2 303.5h0M235.2 325.9h0M233.1 324.7h0M254.5 236.6h0M261.4 328.5h0M252.1 322.6h0M253.7 303.9h0M240.3 324.9h0M238.1 309.8h0M238.6 329.8h0M235.7 310h0M227.3 278.9h0M233.2 315.1h0M244.7 322.9h0M266.3 287h0M245.6 316.4h0M252.6 321.1h0M259.7 307h0M263.8 328.3h0M233.8 278.1h0M249.1 332.2h0M257.2 321.7h0M242.9 326.7h0M239.2 317.7h0M238.8 324.2h0M264.3 325.9h0M225.9 331.5h0M233 329.7h0M245.9 278.1h0M252.6 324.3h0M254.3 306.7h0M258.5 320.2h0M261.4 275.9h0M255.4 329.3h0M262.3 330.5h0M264.5 293.9h0M252.8 309h0M253.4 331.9h0M254.7 236.5h0M260 330.5h0M256.7 305.2h0M257.8 316.3h0M260.3 329.6h0M229 326.3h0M244 329.8h0M241.7 317.9h0M248.2 326.8h0M244.2 303.5h0M239.3 329.5h0M246.3 329.4h0M265.4 270h0M259.4 318.3h0M229.5 320h0M254.9 288.7h0M253.8 329.8h0M254.3 280.8h0M251.2 275.7h0M252.7 313.2h0M257.9 330.3h0M252.1 327.9h0M259.7 328.2h0M265.6 312.3h0M259.1 322.8h0M242.3 281.1h0M243.8 308.9h0M240.4 331.7h0M229.6 305.2h0M233.2 317.9h0M263.2 306.6h0M246.6 280.5h0M233.2 319.7h0M230.5 324.4h0M260.9 321.6h0M229.9 324h0M245.6 311.7h0M238.7 330.8h0M263.3 291.5h0M258.1 298.3h0M265 324.6h0M250.1 313.8h0M247.9 331.3h0M264.2 293.5h0M260.9 328.3h0M251.2 303.3h0M239.8 320.5h0M263.8 329.8h0M253.5 330h0M249.5 319.7h0M177.9 306.9h0M184.1 330.3h0M166.2 237.2h0M179.5 312.1h0M174 283.8h0M165.7 236h0M167.6 251.4h0M177.6 303.2h0M182.8 323.7h0M165.9 244.9h0M169.5 256.5h0M169.7 265h0M169.5 261.5h0M164.6 227.7h0M174.7 288h0M166.6 237.4h0M167.5 246.5h0M178 304h0M167.8 249.7h0M170 264h0M173.8 283.6h0M182.3 329.6h0M167.7 249.5h0M174.5 283.9h0M167.2 242.3h0M180.4 315.4h0M184 332.5h0M184.3 332.5h0M169.6 257.8h0M185 332.5h0M180.5 318.5h0M173.7 278.7h0M170.4 260.5h0M173.9 288.7h0M177.3 300.4h0M164.8 240.7h0M177.1 299.5h0M176.6 296.1h0M173 284.7h0M171.1 264.1h0M175 292.4h0M177.7 310.9h0M170.2 259.8h0M174.2 288.7h0M178 311.7h0M174.9 286.5h0M182.1 322.8h0M179.6 311.8h0M169 258.8h0M179.4 317.1h0M176.3 293h0M176.1 294.2h0M173 275.2h0M165.8 235.8h0M167 246.7h0M173.1 279.9h0M169.8 262.9h0M181.6 322.1h0M175.3 296.9h0M177.6 306.5h0M173.8 280h0M176 291.2h0M174 279.3h0M164.7 233.3h0M174.3 290.2h0M184.5 330.7h0M179.4 308.7h0M164.1 226.8h0M182.3 326h0M166.7 240h0M174.1 289.1h0M164.3 232.1h0M184.5 329.2h0M175.9 293.3h0M173.6 279.7h0M172.7 277.6h0M170.1 264.1h0M183.2 326.7h0M180.3 312h0M176 294.3h0M172.5 274.7h0M174.4 287.6h0M176.2 293.7h0M164 227.4h0M164.7 232.6h0M183.3 329.5h0M173.7 285.4h0M172.4 274.4h0M183.7 328h0M170.4 253.8h0M166.1 240.8h0M172.8 279.2h0M182.4 327.4h0M182.8 329.6h0M170.5 262.3h0M179.4 308.3h0M183.1 327.2h0M164.8 237h0M179.1 314.8h0M173.3 285.9h0M163.4 228.6h0M173.2 271.6h0M168.3 246.8h0M165.9 242h0M180.8 320.2h0M177 298.4h0M170.8 266.8h0M166.4 242.5h0M182.4 328.2h0M177.9 301.4h0M170.8 266.2h0M175.2 291.1h0M182.9 326.2h0M168.2 251.1h0M167.4 250h0M164.5 231.9h0M181.9 324.4h0M175 291.5h0M171 269.8h0M176.1 292.3h0M165 239.1h0M170.1 260.2h0M168.2 252.4h0M168.5 253.5h0M165.1 237.1h0M179 307.3h0M179.7 316.4h0M174.7 287.2h0M168.9 252.9h0M172.1 275h0M169.6 257.4h0M172.4 274.1h0M171.4 268.2h0M182.7 327.1h0M180.1 314.6h0M163.6 225.9h0M180.7 321h0M181.6 321.4h0M170.4 266h0M171.5 272.6h0M179.6 313.3h0M164.4 229.6h0M177.6 307.8h0M177.3 302.6h0M182.8 322.4h0M166.9 243.9h0M167 247.4h0M173 278.1h0M166.3 243.2h0M172.1 272.2h0M173 277h0M183.5 326.6h0M183.1 326.3h0M176.8 299.8h0M168 246.3h0M181.3 322.3h0M171.5 274.1h0M181.6 321.4h0M167.6 246.4h0M176.4 299h0M167.8 245.5h0M182.2 324.1h0M166.6 239.4h0M168 248.5h0M164.9 239.1h0M179.5 310h0M163.7 228.7h0M175.9 297.1h0M172.3 273.6h0M183.7 328.3h0M198.1 310.1h0M202.6 330.1h0M188.2 271.4h0M193.6 290.3h0M200.8 313.5h0M189.7 276.9h0M198.6 311.3h0M202.2 327.3h0M199.9 315.4h0M195.7 296.7h0M202.9 332.3h0M197.2 309.3h0M188.3 271.3h0M193.2 289.3h0M190.7 282.9h0M199 309.8h0M194.2 291.4h0M200.2 316.3h0M199.4 317.2h0M203.4 331.5h0M187.7 270.3h0M188.1 273.2h0M202.7 331.1h0M203.4 331.1h0M192.1 281.8h0M196.8 305.5h0M188.4 274.4h0M190.7 279.3h0M192.4 288.1h0M203.1 332.5h0M192.1 286.7h0M201.5 319.9h0M192.7 288.5h0M191.4 283.7h0M204 329.8h0M199.1 314.3h0M193.8 292.3h0M201.4 326.8h0M200.9 319.6h0M194 294.6h0M201.3 322.4h0M189.1 273.4h0M198.4 310.7h0M188.1 272.7h0M195.1 302.8h0M187.4 272h0M194.4 294.9h0M202.5 332.5h0M197.3 312.4h0M196.1 304.1h0M190.8 281.2h0M187.6 271.3h0M201.2 323.6h0M189.3 272h0M197.9 307.5h0M198 311.2h0M195.7 298.5h0M200 320.5h0M199.3 310.7h0M201.5 326.4h0M200.3 319.1h0M189.7 277.5h0M193.4 289.9h0M195.7 301.5h0M193.5 291.2h0M192.9 287.9h0M201.7 321.1h0M202.5 328.4h0M193.5 292.3h0M202.3 327.1h0M188.9 271.8h0M190.4 281h0M193.2 288.9h0M203.5 332.5h0M197.5 307.1h0M197 303.9h0M201.3 320.1h0M201.7 325.5h0M189.7 277.5h0M190.5 279.4h0M195.6 300.5h0M192 286.7h0M193.1 287.4h0M190.5 278.3h0M195.5 297.8h0M196 293.9h0M195.6 303.7h0M198.5 310.1h0M191.3 283.2h0M194.4 292.3h0M200.6 320.2h0M193.3 286.5h0M192.4 290h0M199.9 321.1h0M198.4 310h0M200 318.6h0M193.2 288.5h0M197.8 312.2h0M201.7 328.9h0M197.7 311.9h0M202.4 327.9h0M201.8 332.5h0M200.6 320.5h0M202.8 330.9h0M199.7 313.1h0M198.4 312.8h0M200.1 320.8h0M193.3 291.9h0M190.7 277.5h0M195.9 298.8h0M218.5 332.5h0M212.6 298.9h0M211.2 300.2h0M217 327.6h0M207 277.1h0M208.6 284.5h0M215.2 316.7h0M207.2 280.5h0M205.9 274.7h0M215.7 317h0M209.6 291h0M213.7 308.5h0M212.5 303.9h0M217.6 326.2h0M211.6 299.5h0M208 281.7h0M214.6 312h0M218.6 331.3h0M210.6 294h0M214.2 312.3h0M206.5 275.1h0M218.3 330.1h0M218.3 328.7h0M208.9 283.7h0M207 277.9h0M217.8 326.2h0M212.2 299.6h0M214.4 311.6h0M210.4 296.1h0M213 306.8h0M212.6 298.3h0M218 327.9h0M215.9 320.3h0M219.2 327.9h0M209.2 286.3h0M218.1 329.6h0M212.7 309.2h0M217 329.8h0M216 321.4h0M211.1 297.6h0M214.7 315.9h0M213.2 307.2h0M214.8 316.3h0M217.8 327.8h0M205.7 274h0M207.4 282.2h0M216.5 331.2h0M206.1 274h0M214.2 310.6h0M208.2 283h0M213.2 303.9h0M213.4 301.2h0M206.9 274.9h0M208.7 287.3h0M209.8 284.3h0M213.6 306h0M217.5 325.6h0M210.3 290.6h0M210.6 291.6h0M209.2 287.3h0M215.9 319.2h0M208.9 287.1h0M209.3 287.9h0M209.7 284.8h0M212.9 305.7h0M219.3 332.5h0M217.1 323.9h0M211.4 295.9h0M217.8 329.4h0M209.9 291.6h0M216 319.4h0M207 275.3h0M217.4 325.9h0M211.2 299h0M218.2 324.8h0M215 318h0M212.7 306.9h0M209.1 285.1h0M216.3 319.4h0M218.8 331.6h0M210.5 295.8h0M215.6 316.3h0M210.2 287.7h0M215.9 321.7h0M218.1 322.8h0M213.5 307.5h0M217.7 326.5h0M216.7 323.8h0M205.6 272.3h0M208.9 283.3h0M218.3 331.3h0M212.8 302.7h0M212.6 302.6h0M205.9 273.6h0M208.1 277.6h0M214.5 305.6h0M218 332.5h0M210.6 293h0M213.6 309.6h0M211.9 308.5h0M209 286h0M217.9 326.5h0M207.1 277h0M212.1 298h0M210.1 287.8h0M213.3 306.4h0M214.4 314.4h0M217.8 331.4h0M208.3 284.3h0M213.5 309h0M218.1 288.1h0M225.2 332.5h0M222.9 317.3h0M222.3 319h0M221.4 316.1h0M222.1 312.3h0M218 284h0M221 310.9h0M222.6 327.2h0M218.2 285.2h0M218.1 287h0M221.2 303.4h0M223.9 329.6h0M221.7 309.5h0M223.8 332.5h0M220.9 301.8h0M217.3 276.4h0M224.3 326.7h0M216.4 277.4h0M220.8 302.9h0M224 324.7h0M217 278.6h0M223.6 322h0M218.5 287.8h0M221.3 313.2h0M221.4 308.8h0M223.5 321.7h0M222.6 319.9h0M222.9 320.4h0M224.3 328.9h0M224.2 332.5h0M219.5 300.9h0M222.5 315.6h0M222.2 315.9h0M224.5 329.8h0M217.2 282.1h0M218.4 289.2h0M220.5 300.8h0M222.1 320.2h0M221.1 296.6h0M220.4 309.3h0M224.3 332.5h0M219 290h0M218.3 285.5h0M222.9 321.3h0M222.1 311.8h0M222 323.3h0M221.9 318.1h0M222.5 314.5h0M216.8 277.6h0M219.6 296.5h0M220.2 306.9h0M220.4 300.3h0M222.3 326.3h0M217 283.9h0M219.8 294.1h0M219.4 286.9h0M221.1 313.5h0M217.4 281.9h0M221.9 312h0M219.2 288.9h0M224.2 331h0M218.5 288.3h0M223.2 325.9h0M217 276h0M218.7 291h0M221.3 312.1h0M220.3 291.5h0M220.5 293.8h0M222.6 317.8h0M217.9 285.3h0M224 332h0M219.6 291.5h0M218 286.8h0M222 318.2h0M224.1 331h0M216.8 281.7h0M222.9 322.3h0M218.2 289.2h0M219.3 292h0M222.9 321.5h0M221 308.2h0M217.2 283.4h0M218.3 295.8h0M224.4 331.4h0M219.8 289h0M219.4 289.3h0M220.4 301.1h0M219.7 296.4h0M218.7 286.9h0M218.2 281.5h0M218 287.8h0M218.7 288.5h0M220.7 308.4h0M222 303.9h0M220.7 315.7h0M218 285.9h0M216.9 283.3h0M220 296.4h0M221.4 312.5h0M222.9 323.6h0M223.5 330.6h0M217.6 278.1h0M222.9 324.3h0M218.7 289.9h0M221.9 322h0M221.8 312.6h0M218.4 288.2h0M224.1 326.8h0M217.1 280.2h0M153.4 305.2h0M205.3 192.8h0M242.6 191.3h0M218.3 200.5h0M241.3 204.7h0M232.1 209.1h0M239.3 214.1h0M249.5 213.1h0M222.1 221.9h0M231.1 220h0M229.6 230.9h0M231.1 233.6h0M211.6 232.6h0M210.6 239.3h0M224.8 240.3h0M232.8 242.4h0M254.3 235.3h0M181.3 233.2h0M183.2 248.5h0M240.5 250.1h0M224.2 251.4h0M220.4 254.7h0M245.5 253.5h0M250.3 251.4h0M254.5 251.4h0M258.7 256.4h0M214.1 259.8h0M192 304.1h0M161.4 210.6h0M162.9 215.8h0M162.9 219.6h0M164.5 231.1h0M166 236.3h0" stroke="#2E5587" stroke-width="4.4" stroke-linecap="round" fill="none"/>
<path d="M341.9 306.7h0M325.5 322.9h0M323.9 294.9h0M345.2 305.4h0M351.6 295.6h0M317.2 326.3h0M331.3 301.6h0M340.8 298.6h0M316 325.4h0M340.2 300.1h0M315.1 311.3h0M344.5 310h0M334.8 267.4h0M320.4 329.9h0M313.2 262h0M357.6 321.7h0M319 329.7h0M321.5 324.6h0M323.1 322.3h0M352.3 286.9h0M320.4 328.5h0M337.7 326.2h0M321.4 321.5h0M340 331.2h0M334 328.4h0M340.2 328.6h0M326.4 328.9h0M328.2 327.6h0M326.4 330h0M346.8 326h0M315.7 298.3h0M325.6 314.1h0M346.9 329.1h0M331.8 314.1h0M327.2 331.7h0M354.6 312.7h0M324.1 313.6h0M336.3 321.2h0M348.3 325.6h0M355.6 271.8h0M359.8 331.1h0M320.1 287.9h0M349.3 263.3h0M349.9 306h0M352.7 314.7h0M319.1 322.4h0M356.4 309.5h0M318.6 321.3h0M311.4 270.5h0M319.6 294h0M353.1 320.8h0M349.9 332.4h0M342.5 326.6h0M332 318.1h0M341.8 327.4h0M319.5 322.1h0M331.9 318h0M335.2 324.4h0M316.1 319.8h0M341.4 308.7h0M341.5 322.8h0M326.3 327.1h0M347 325.5h0M330.9 331.1h0M346.8 328.9h0M336.5 313.6h0M328 326.9h0M336.5 323.1h0M336.6 329.4h0M322.2 331.4h0M340 329.7h0M338.1 328.7h0M319.6 304.1h0M324.6 330.4h0M336.9 324.7h0M356.8 330.1h0M345.5 308.1h0M348.2 238.8h0M343 316h0M347 329.2h0M342.8 321.6h0M356.7 327.6h0M356.7 321.1h0M342.5 331.8h0M331.6 315.9h0M318.9 307.1h0M346.8 307.6h0M324.9 318.4h0M333.9 324.5h0M346.7 278.3h0M332.4 323.2h0M349.1 328.2h0M311.9 302.7h0M324.4 330h0M313.4 308h0M332.6 317.8h0M351.3 329.5h0M344.3 317.7h0M348.3 312.3h0M325.5 329.9h0M340.5 323h0M331.3 287.3h0M345.6 323.2h0M351.1 255.7h0M312.4 277.5h0M353.4 291.7h0M344.8 327.7h0M315 318.9h0M312 318.6h0M355.9 324h0M346.1 286.9h0M324.7 329.2h0M341.1 290.9h0M344 316.7h0M339 332.2h0M345.5 275.5h0M342.6 330.7h0M324.4 317.4h0M322.5 313.2h0M314.3 328.3h0M354.9 318.4h0M354.6 327h0M340.8 307h0M327.3 298.1h0M358.9 322.5h0M323.3 306.4h0M356.6 315.9h0M341.4 317.3h0M331.5 325h0M346.2 293.2h0M334.5 278.5h0M341.2 296.9h0M312.4 313.5h0M350.2 319.7h0M323.9 324.3h0M356.9 321.5h0M323.9 316.6h0M328.6 332.3h0M353.5 318.3h0M340.5 322.1h0M354.6 311.2h0M342.2 314.6h0M346 324.3h0M347.5 318h0M357 332.1h0M311.8 305.8h0M339.1 313.9h0M342.2 306.8h0M313.2 330.4h0M315.2 320.8h0M346.6 328.9h0M339.1 321.4h0M353.5 325.3h0M338.2 329.1h0M349.1 320.9h0M346 290.2h0M348.7 331h0M323.7 315.1h0M349.8 316h0M351.3 309.6h0M348.3 313h0M338.8 319.2h0M334.2 327.9h0M326.1 322.3h0M316.4 327h0M355.3 326.4h0M334.4 318.1h0M350.9 318.4h0M356.6 314.1h0M339.7 319h0M322.3 298.5h0M328.6 287.6h0M351.2 306.5h0M330.6 321.7h0M324.5 322.3h0M359.3 332.3h0M334.1 332.2h0M335.2 298.9h0M312.7 328.2h0M314.2 321.8h0M315.5 320.3h0M357.1 298.2h0M335.3 324.8h0M355.1 248.4h0M336.8 301.2h0M357.3 300.3h0M351 314.3h0M349 307.8h0M314.1 328.8h0M351.5 298.9h0M349.3 264.4h0M337.6 310h0M334.5 312.4h0M330.3 315.5h0M317.6 320.5h0M320.8 299.7h0M320.3 319.5h0M331.7 326.9h0M321.8 302.3h0M356.8 331.5h0M331.3 312.9h0M345 309.1h0M342.6 324.4h0M336.9 314.3h0M321.9 315.4h0M340.2 294.5h0M323.1 267.9h0M340.9 296.5h0M341.8 332.4h0M326.8 324.3h0M313.2 328.2h0M334.2 331.9h0M335.4 285.4h0M313.7 327.2h0M339.7 291.9h0M337.8 329.9h0M355.4 250.5h0M316.1 299.4h0M325.5 331.9h0M354 293.5h0M321.2 297h0M321.2 311.4h0M347.7 313.2h0M332.2 296.5h0M340.4 330.6h0M325.1 309.7h0M345.6 322h0M316.6 295h0M353.1 293.8h0M330.2 309.6h0M326.1 321.9h0M311.5 304.7h0M312 329h0M342.8 328.1h0M311.6 302.2h0M329.4 323.4h0M325 316.1h0M340.2 301.1h0M333.7 321.5h0M320.6 332.1h0M327.9 322.7h0M345.7 329.6h0M317.4 315.7h0M327.6 321.5h0M328.4 331.8h0M320 289.5h0M353.2 272.5h0M343.5 272h0M334.5 297.6h0M322.2 316.1h0M358.1 296.3h0M342.6 329.9h0M329.5 307.8h0M332.8 318.8h0M357 323.1h0M311.4 316.7h0M342.9 279.5h0M313.2 319.9h0M340.7 313.9h0M347.4 324.8h0M356.9 328.5h0M320.2 321.6h0M354.3 327.8h0M336.7 273.5h0M347.6 318.3h0M351.2 261.4h0M344.7 307.6h0M329.3 287.4h0M333.8 320.4h0M357.7 331.2h0M359.2 332.4h0M340.7 317.5h0M318.1 328.5h0M349.7 310.5h0M346.9 331.9h0M336.1 331.3h0M328.7 329.6h0M323.2 285.6h0M312.9 331.8h0M346 302.9h0M328.4 318.6h0M314 260.7h0M336.9 285.3h0M311.5 307.5h0M316.2 305.7h0M344.4 272.7h0M329.9 294.6h0M346.9 329.1h0M317.6 319.6h0M333.4 288.6h0M344.8 313.8h0M325.4 317h0M331.9 300.7h0M340.4 306.7h0M319 303.9h0M332.1 330h0M346.6 327.7h0M335.8 329h0M314 329.7h0M356.2 322.4h0M345.7 317.2h0M311.4 318.4h0M344 279.9h0M358.4 327.9h0M319.4 325.9h0M347.2 279.2h0M331.3 326h0M341.7 327h0M338.1 288.6h0M352.2 323.2h0M311.7 324.6h0M312.9 324.7h0M314.6 307.7h0M319.7 331.8h0M348.2 319.7h0M347.6 330.9h0M350.7 321.1h0M326.5 326h0M357.7 328.9h0M345.2 329.5h0M332.6 330h0M345.3 302.9h0M328.2 317.3h0M320.8 325.4h0M324.8 326h0M346 330.3h0M357.6 319.2h0M349.6 319.5h0M327.4 230.9h0M312.4 312.7h0M330.9 292.8h0M314.4 332.1h0M315.8 319.9h0M359.3 323.3h0M353.6 263.2h0M324.5 288.8h0M358.7 315.6h0M326.8 320.7h0M347.5 301.6h0M340.8 329.9h0M334.6 282.6h0M346.9 331.5h0M322.6 298.3h0M331.2 328.4h0M350.7 324.7h0M327.6 332.2h0M340.2 328.5h0M346.8 290.8h0M350.9 325.1h0M356.8 330.2h0M319.5 311h0M356.7 315h0M317.7 331.3h0M358.7 320.3h0M341.7 332.4h0M339.5 309.1h0M346.4 290.1h0M327.4 328.7h0M333.2 319.2h0M349.4 331.7h0M331.4 331.3h0M349.7 326.8h0M347.2 325h0M332 307.2h0M325.4 277.3h0M340.4 317.5h0M329.3 312.4h0M324.8 325.9h0M351.3 331.3h0M349.4 326.6h0M328.8 318.3h0M330.7 320.9h0M318.8 319.7h0M319.5 324.5h0M348 327.3h0M311.6 300.7h0M334.9 320.5h0M346.6 321.7h0M321.4 313.9h0M345.6 329.2h0M329.2 288.1h0M349.4 323h0M324.3 323.6h0M315.1 329.8h0M349 320.7h0M312.9 325.2h0M328.3 319.3h0M313.6 301.4h0M319.9 325.7h0M347.1 242.9h0M311.8 225.1h0M345.8 319h0M343.3 296h0M345.9 315.2h0M323.4 293.4h0M353.5 319.8h0M321.9 330.2h0M349.9 300.3h0M321.1 325.3h0M325.8 284.4h0M338.4 327.2h0M318.4 322.4h0M326.3 297.3h0M354.7 319.8h0M334.7 298.9h0M324.1 329h0M334.1 319.2h0M335.1 331h0M332.3 318.3h0M318.2 319.9h0M330.5 323h0M351.1 323.2h0M339.6 305.8h0M326.6 281.8h0M326.5 311h0M332.7 330.7h0M339.6 322.4h0M327.3 280h0M319.8 327.7h0M353.2 289.4h0M316.9 289.6h0M339.5 287.2h0M338.5 257.4h0M346.6 318h0M356.3 272.8h0M313 325.1h0M321.8 331.5h0M328.9 315.9h0M357.4 310.1h0M327.2 303.4h0M330.8 314.2h0M347.1 330.6h0M331.1 297.1h0M345.1 299.9h0M326 242h0M355 319.9h0M323.8 306.3h0M329.9 328h0M315.5 327.7h0M337.6 323.8h0M338.2 296.6h0M351.4 316.4h0M319.2 325.2h0M345.1 248h0M345 297.5h0M341.3 330.7h0M327.1 326.5h0M343.7 329.8h0M323.5 302.1h0M329.2 320.7h0M345.6 286.1h0M325.8 332.2h0M358.5 325h0M325.5 307.5h0M346 306.3h0M342.9 305.6h0M315.5 329.2h0M328.2 302.7h0M344.9 328h0M347.5 315.2h0M351.3 317.7h0M332.3 327.7h0M321.3 327.5h0M312.9 325.6h0M311.9 327.3h0M346.2 311.5h0M356 317.6h0M352.6 327h0M337.5 294.8h0M321 326.6h0M335.5 330.4h0M333.7 306.3h0M319.6 324.1h0M319.4 306.3h0M329.4 329.6h0M358.5 318.5h0M330.1 281.9h0M315.7 327.5h0M335 280.4h0M359 324.9h0M357.2 315.3h0M357.1 313h0M321.7 327.2h0M355.4 331.4h0M320.6 323.8h0M323.9 278.8h0M312.7 319.9h0M345 301.4h0M311.6 317.7h0M337.9 326.3h0M349.7 321.3h0M319.2 315h0M334.7 319.5h0M341.2 329.2h0M338.1 322.2h0M332 331.6h0M345.4 315.8h0M320.1 323.7h0M333.1 286.8h0M331.6 311.7h0M344.8 310.2h0M352.5 307.6h0M353.3 300.1h0M312.9 304.1h0M348.1 298.4h0M321 313.1h0M346.4 332.4h0M314.9 240.5h0M339.5 329.3h0M343.6 326.8h0M332.3 277.7h0M339.4 300.5h0M332.9 305.9h0M345.7 329.7h0M333.8 302.2h0M317.2 329.9h0M320.9 326.7h0M326.5 332.2h0M350.2 323.2h0M322.6 304.8h0M323.5 316.2h0M355.9 313.6h0M335.8 325.1h0M351.4 319.4h0M316.2 325.1h0M330.8 308.6h0M327.2 264.5h0M345.6 325h0M341.1 324.9h0M341.5 324.5h0M311.6 276.6h0M320.5 307.7h0M354.2 322.5h0M344.8 311.6h0M349.7 264.1h0M357.5 325.2h0M315.5 282.4h0M332.7 319.6h0M319.8 328h0M316.4 327.8h0M322.3 316.1h0M347.9 322.9h0M357.3 331.4h0M312 326.4h0M338.9 324.6h0M332.5 264.8h0M356.6 322.5h0M345 329.7h0M311.3 306.8h0M333 292h0M348.4 323.6h0M339.6 329.6h0M337.1 330.4h0M357 332.2h0M339 319.5h0M326.8 252.6h0M341.9 328.6h0M328.3 232.2h0M329.1 329.8h0M341.5 306.3h0M346.6 316.2h0M311.7 326.3h0M343.4 316.9h0M330.1 306.4h0M357.1 324.8h0M333.8 324.9h0M333.8 322.3h0M327.9 317.2h0M316.6 305.5h0M316.5 323.6h0M336.5 326.9h0M358.4 321.1h0M338.7 325.5h0M343.3 314.7h0M359.5 323h0M337.5 324.8h0M336.5 321.5h0M349 314.3h0M340.1 323.8h0M324.1 295.1h0M321 318.8h0M318.1 311.8h0M350.6 318.3h0M332.6 321.7h0M318.9 310.4h0M331.3 329.3h0M324.3 304.9h0M347.4 297.8h0M313.3 294.4h0M326.5 310.9h0M350.4 315.9h0M321 274.7h0M345.8 309.8h0M358.3 309h0M355 321.8h0M349.5 315.5h0M335.9 331.1h0M349.4 300h0M325.2 325.4h0M344.7 328.6h0M350.4 329.2h0M357.8 331.6h0M318.5 321.9h0M355.8 267.6h0M314.5 318.2h0M348.5 288.8h0M342.5 324h0M340.3 325.9h0M339.1 274.8h0M317.3 329.2h0M331.6 323h0M333.7 291.6h0M356.3 305.7h0M351 307.4h0M355.8 315.1h0M315.6 323.9h0M332.8 296.4h0M340.7 296.1h0M347.2 331.7h0M356 319.7h0M317.9 310.7h0M354.2 320h0M317.6 278.4h0M326.2 323.1h0M348.5 325.1h0M358.8 328.7h0M331.1 274.7h0M356.7 310.2h0M346.4 323.4h0M354.7 314.2h0M337.1 312.8h0M348.1 319.4h0M339.1 257.8h0M320.5 331.1h0M354.1 330.3h0M323.7 288.7h0M354.9 326.8h0M355.5 314.1h0M342.3 325.6h0M356.3 300.9h0M336.8 303h0M329.4 318.7h0M318.1 313.7h0M317.8 330.2h0M340.8 325.2h0M313.3 304.5h0M318.2 301.5h0M321.7 327.5h0M351.7 324.5h0M408.7 269.9h0M411.3 254.1h0M401.8 310h0M399.3 318.2h0M411.6 252.4h0M415.4 237.7h0M408.8 268.4h0M414 239.9h0M402.8 300.6h0M403.5 301.5h0M414.3 239.5h0M414 242.7h0M416.2 224.9h0M401.8 313.2h0M408.1 271.2h0M415.6 230.5h0M396.7 329h0M397.5 327.1h0M403.2 304.7h0M411.5 260.6h0M412.2 248.5h0M404.7 296.4h0M411 257.6h0M411.2 260.8h0M404.2 296.6h0M405.3 289.4h0M410 264.3h0M401.8 305.2h0M408.6 276.9h0M414.2 237.3h0M410.3 256.8h0M402.2 311.6h0M399.6 314.8h0M407.7 278.4h0M403.2 298.5h0M408.9 271.7h0M413.9 238.9h0M399.5 319.5h0M417.9 224.9h0M396.9 326.5h0M404.7 291.3h0M413.5 242.1h0M405 293.6h0M402.6 304.2h0M404.2 298.6h0M396.1 331.9h0M407.6 276h0M412.4 246h0M414.5 234.2h0M398.2 325.1h0M407.2 283h0M400.5 314.6h0M400.4 318.9h0M398.1 324.9h0M410.4 256.8h0M404.3 296.3h0M410.7 256.6h0M414.2 239.5h0M413.3 235h0M409.5 268.6h0M414.3 233.8h0M408.9 273.8h0M409.1 269.3h0M407.4 278.1h0M396.9 328.8h0M415.9 225.7h0M413.4 246.2h0M414.7 230.5h0M396.2 330.5h0M398.4 326.1h0M402.1 307.3h0M415.6 224.3h0M412.9 241h0M413.2 241.7h0M410.9 261.1h0M400.7 315h0M415.1 234.5h0M401.7 311.8h0M410.2 260.8h0M407.7 270.9h0M414.3 236.9h0M415.9 228h0M415.8 227.2h0M409.1 266.4h0M412.9 242.6h0M406.7 288.7h0M406.8 281.1h0M415.5 232.2h0M396.2 330.1h0M402.1 312.2h0M396.7 332.5h0M404.8 292h0M399.9 316.1h0M402.6 305.5h0M402.6 308.6h0M396 330.5h0M408 281.3h0M409.3 269.1h0M395.5 332.5h0M404.7 289.3h0M414.5 230.4h0M402.2 310.2h0M417.4 224.7h0M414.7 238.4h0M404.6 292.9h0M398.4 324.5h0M406.2 292.5h0M403.9 294.1h0M405 289.4h0M404.9 296h0M407.6 278.3h0M410.5 260.9h0M396.8 328.2h0M414.9 234.9h0M396.7 332.5h0M410.8 262.6h0M409.6 273h0M406.9 283.6h0M407.9 273.3h0M400.1 314.6h0M400.6 315.6h0M405.5 294.7h0M401.6 304.9h0M411.7 248.4h0M411.3 253.6h0M413.3 242.7h0M402.2 309.5h0M411.5 250.4h0M412.2 247.9h0M406.2 286.6h0M407 290h0M413.5 239.7h0M397.1 330.4h0M408.8 272.1h0M400 316.5h0M400.2 314.6h0M401 312.1h0M413.1 242.3h0M406.2 284.3h0M407.9 271.3h0M413.5 236.9h0M410.7 261.5h0M406.8 285.2h0M401.1 314.4h0M409.6 266.1h0M408.7 272.4h0M407.6 266.3h0M411.2 256h0M408 276.7h0M413 240.9h0M406 285h0M401 308.5h0M408.1 273.2h0M407.9 278.8h0M407 280.7h0M409.6 263.2h0M402.7 306.8h0M402.2 308h0M396.4 329.6h0M397.6 326.1h0M408.6 272h0M397.8 327.2h0M416.9 227.2h0M415.9 230.1h0M406.2 292.8h0M400.4 314.8h0M401.3 312.6h0M406.7 282.8h0M395.2 332.5h0M409.2 274h0M385.8 302.4h0M382.5 307.1h0M392.9 268.4h0M392.2 270.8h0M379.6 323.2h0M388.2 289.5h0M382.2 312.2h0M390 281.2h0M380.8 316.1h0M377.7 330.9h0M389.8 281.1h0M379.3 325.6h0M377 332.2h0M381.8 311.4h0M380.3 322.8h0M391.3 274.5h0M378.8 326.5h0M391.3 273.9h0M380.2 319h0M388.8 284.7h0M394.3 263.3h0M389.8 278.4h0M392.7 272h0M389.3 280h0M378.3 332.5h0M384.2 301.5h0M380.5 321.9h0M382.2 307h0M390.4 275.8h0M385.1 302.9h0M386.2 296.2h0M380.2 321.5h0M382 314.6h0M387.6 289.7h0M377.9 325.8h0M392.7 266.2h0M376.7 332.4h0M390.3 278.2h0M387.1 288.7h0M390.4 281.9h0M390.9 272h0M393.9 267.2h0M390.4 278.1h0M391.7 267.2h0M388.1 286.4h0M393.8 267.3h0M386.1 298.4h0M391.7 270.9h0M388.8 283.1h0M385.3 298.1h0M385.4 297.5h0M385.7 293.2h0M388.1 282.1h0M378 323.9h0M379.1 322.8h0M381.3 315.3h0M389.3 276.3h0M388.8 288h0M394.3 264.1h0M392.1 270.1h0M392.8 267.2h0M383.8 303.6h0M392.7 270.6h0M376.6 331.9h0M379.5 324h0M388.4 289.3h0M394.3 265.1h0M378 330.8h0M385.8 298.2h0M387.3 295.2h0M390.6 274.7h0M389.8 281.8h0M392 264.7h0M381.6 307.3h0M380.3 319.2h0M379.8 323h0M377.7 332.5h0M392.3 269.9h0M384.5 301.5h0M378.3 327.8h0M393.6 265.7h0M387.3 290.8h0M378.7 328.4h0M386.8 290.4h0M384.5 300.7h0M382.5 312.3h0M387 297.8h0M380 321.4h0M383.7 309h0M392.3 270.1h0M387.1 294.6h0M386.2 293.5h0M378.9 325.5h0M382.2 315h0M381.5 315h0M386.8 294.9h0M380.7 318.6h0M375.2 332.5h0M390.1 279.2h0M383.5 307.9h0M391.8 274.3h0M390.9 272.2h0M388.6 286.5h0M392.6 269.5h0M391.9 274.1h0M388 293.5h0M393.3 264.9h0M383.2 303.1h0M377.6 327.6h0M387.8 294.1h0M373.5 267.3h0M359.6 332.5h0M372.3 280.9h0M363.3 319.6h0M366.1 307.5h0M372.5 272.2h0M372.3 280.1h0M370.9 285.7h0M363 325.1h0M374.6 268.4h0M369.1 297.2h0M367.8 299.9h0M370.9 292.6h0M367 307.8h0M363.1 322.9h0M360 332.5h0M373.3 277h0M371.6 286.5h0M373.5 266.8h0M365.8 306.3h0M370.5 287.2h0M360.4 332.5h0M364 320.2h0M365.8 311.7h0M361.1 332.5h0M362.7 322.8h0M373 274.4h0M359.5 330.8h0M362.7 321.7h0M374.7 267.8h0M361.3 325.5h0M366.3 307.9h0M370.2 294.2h0M368.4 300.3h0M363.8 316.5h0M368.2 301.2h0M362.3 326.1h0M365.4 310.7h0M362.6 324.9h0M373.5 273.8h0M360.5 330.1h0M367 307.4h0M360.2 330.4h0M373.6 275.7h0M364.8 317.9h0M369 298.9h0M370.9 282.7h0M367.7 303.1h0M366.9 308.3h0M361.6 322.2h0M369.3 297h0M371.2 276.5h0M370.6 291.5h0M359.7 332.5h0M367.9 299.8h0M362.3 322.8h0M369.3 289.8h0M374 267.5h0M374.2 280.7h0M362.7 324.8h0M361.1 328.7h0M368.4 300.5h0M373.8 266.8h0M361 332.5h0M368.9 295.9h0M369.3 296h0M366.7 306.9h0M373 266.5h0M373.9 269.1h0M362.9 319.7h0M368.6 298.1h0M367.9 300h0M366.8 305.3h0M372.8 273.1h0M363.8 321.2h0M371.4 275.4h0M361 332.1h0M365.2 309.2h0M371 287.8h0M364.9 314.7h0M366.5 305.6h0M372.2 275.9h0M360.6 332.5h0M373.9 269.7h0M366.7 306.9h0M371.7 280.5h0M359.1 332.5h0M373.1 272.9h0M367.9 297.3h0M368.6 292.3h0M369.3 291.3h0M367.3 302.6h0M373.3 270.6h0M371.5 281.3h0M363.2 322.4h0M361.3 325.6h0M370.6 290.2h0M361 329.9h0M370.9 287.4h0M370.7 291.3h0M371.3 288.9h0M371.4 277.1h0M368.3 301.1h0M362.9 322.3h0M361.1 325.7h0M371.7 281.6h0M373.5 270.1h0M364.3 316.7h0M364.8 318.5h0M363.7 321.4h0M355.2 328h0M361.5 288.1h0M358.7 305.9h0M356.3 321.1h0M360.3 286.5h0M359.9 292.8h0M357.5 308.5h0M360.7 275.8h0M356.4 324.6h0M361 282.6h0M356.2 332.5h0M359.9 283.9h0M356.5 332.1h0M360.5 295.5h0M363.1 274.4h0M361 290.6h0M358.1 306.8h0M363.1 277.8h0M357.7 314.9h0M360.7 282.5h0M356.6 302h0M355.9 332.5h0M358 316.8h0M357.1 332.1h0M361.4 289.9h0M356.9 328.6h0M360 288.5h0M357.5 321.1h0M358.5 300.1h0M360.1 283.8h0M360.2 290.7h0M358 315.7h0M360.7 285.1h0M359.4 291.7h0M358.4 308.2h0M361.3 280.7h0M358.9 314h0M361.9 277.4h0M361.5 276.9h0M360.7 285.9h0M358.7 315h0M357.3 317.6h0M358.9 310.2h0M361.9 281.3h0M361.8 275.4h0M356.8 319.9h0M358.3 312.8h0M355.3 331.6h0M358.1 300.8h0M359 303h0M357.9 321.6h0M358 312h0M359 297.8h0M356.6 327h0M359.5 294.3h0M360.8 289.7h0M361.9 282.1h0M356.1 327.5h0M361.6 280.9h0M357.7 310.7h0M357 318.4h0M359 301.2h0M360.1 290.8h0M356.8 304.4h0M356.9 332h0M361.4 282.3h0M356.9 330h0M357.2 314.9h0M357.2 322.5h0M357 326.2h0M357.8 316h0M358.9 310.4h0M357.8 310.9h0M358.9 298h0M360.9 283.9h0M358.7 298.7h0M360.5 283.3h0M362 280.6h0M358.4 314.2h0M358 318.6h0M356.6 321.7h0M359.5 292.2h0M358.6 301.6h0M363.3 275.8h0M357.2 319.9h0M355.9 327.3h0M355.3 332.5h0M359.8 285.5h0M362 281.8h0M359.7 300.5h0M361.3 281.2h0M362.5 281.2h0M357.7 305h0M355.3 330.8h0M360.9 290.4h0M356.7 320.7h0M356.8 330.5h0M357.7 321h0M359.5 296.8h0M358.9 305.8h0M358.2 300.4h0M356.8 315.8h0M361.4 275.7h0M359.8 297.4h0M360.5 280.8h0M355.9 324.2h0M358.8 302.3h0M360.7 284.7h0M357.1 322.4h0M359 293.7h0M467.4 321.7h0M425.5 333.4h0M401 150.9h0M427.2 155.1h0M423.6 179.2h0M422 190.1h0M419.9 209.5h0M338 201h0M348.9 205.1h0M360.2 201.2h0M364.4 200.1h0M366.1 203.7h0M355.2 211.4h0M346.8 218.5h0M369.2 229h0M358.5 235.1h0M314.2 239.9h0M320.9 239.7h0M323.8 241.8h0M329.9 243.2h0M344.5 241.8h0M361.1 245.7h0M377.4 239.3h0M399.8 242.2h0M337.2 251.4h0M343.1 255.8h0M349.1 255.6h0M360.8 257h0M331.5 257h0M375.9 254.3h0M374.5 260.8h0M372.8 265.6h0M375.9 272.3h0M326.1 268.6h0M333 263.9h0M347.7 261.9h0M355 263.9h0M362.3 262.9h0M404.2 319.4h0" stroke="#CC0000" stroke-width="4.4" stroke-linecap="round" fill="none"/>
</g>
<line x1="266.7" y1="461" x2="266.7" y2="137.8" stroke="#000" stroke-width="1.5" stroke-dasharray="6.2 3"/>
<line x1="310.2" y1="461" x2="310.2" y2="137.8" stroke="#000" stroke-width="1.5" stroke-dasharray="6.2 3"/>
<line x1="139.1" y1="334.6" x2="481.9" y2="334.6" stroke="#000" stroke-width="1.5" stroke-dasharray="6.2 3"/>
<rect x="139.1" y="137.8" width="342.9" height="323.1" fill="none" stroke="#1a1a1a" stroke-width="2.3"/>
<line x1="201.3" y1="461" x2="201.3" y2="465.2" stroke="#333" stroke-width="1.2"/>
<text x="201.3" y="484.1" font-size="22" text-anchor="middle">-4</text>
<line x1="288.4" y1="461" x2="288.4" y2="465.2" stroke="#333" stroke-width="1.2"/>
<text x="288.4" y="484.1" font-size="22" text-anchor="middle">0</text>
<line x1="375.5" y1="461" x2="375.5" y2="465.2" stroke="#333" stroke-width="1.2"/>
<text x="375.5" y="484.1" font-size="22" text-anchor="middle">4</text>
<line x1="462.6" y1="461" x2="462.6" y2="465.2" stroke="#333" stroke-width="1.2"/>
<text x="462.6" y="484.1" font-size="22" text-anchor="middle">8</text>
<line x1="134.8" y1="447.6" x2="139.1" y2="447.6" stroke="#333" stroke-width="1.2"/>
<text x="132.1" y="455.6" font-size="22" text-anchor="end">0</text>
<line x1="134.8" y1="361" x2="139.1" y2="361" stroke="#333" stroke-width="1.2"/>
<text x="132.1" y="369" font-size="22" text-anchor="end">1</text>
<line x1="134.8" y1="274.3" x2="139.1" y2="274.3" stroke="#333" stroke-width="1.2"/>
<text x="132.1" y="282.3" font-size="22" text-anchor="end">2</text>
<line x1="134.8" y1="187.6" x2="139.1" y2="187.6" stroke="#333" stroke-width="1.2"/>
<text x="132.1" y="195.6" font-size="22" text-anchor="end">3</text>
<text x="313.5" y="516.2" font-size="33.4" text-anchor="middle">Log2 Fold Change</text>
<text transform="translate(106.9 299.4) rotate(-90)" font-size="33.6" text-anchor="middle">-Log10 (Padj Value)</text>
<path d="M686.8 402.5L747.5 402.5L748.3 352L753.9 367.3L768.2 412.1L779.3 441.6L796.6 397.9L806.8 361.2L809.5 352L809.9 402.5L847.5 402.5L841.4 420.2L829.2 432.5L808.9 440.6L779.3 448.7L747.8 440.6L727.5 430.4L711.2 420.2L694.9 410.1Z" fill="#BEBEBE"/>
<path d="M847.5 402.8h0M846.8 402.8h0M846.2 404h0M846.3 407.5h0M845.3 406.8h0M845.9 409h0M845.1 408.9h0M844.5 411.8h0M842.8 411.9h0M841.8 412.3h0M841.4 414.5h0M841.6 416.3h0M842.6 417h0M839.5 417.9h0M841.5 419.8h0M839.3 420.2h0M839 420.8h0M840.1 421.8h0M838.1 424.4h0M836.6 424.3h0M836.4 425.4h0M834.2 426.3h0M835.8 425.6h0M834.4 428.2h0M832 431h0M832.5 428.7h0M830.9 431.4h0M829.7 432.5h0M828.9 433.3h0M829.2 432.4h0M826.7 433.1h0M825.4 432.9h0M823.5 434.3h0M823.8 436.2h0M820.4 434.7h0M821.1 434h0M818.8 436.4h0M819.3 437.6h0M816.6 437h0M815.4 439.4h0M814 438.1h0M813.6 438.7h0M811.9 438.2h0M810.8 439.4h0M810.8 441h0M808.4 441.4h0M806.8 442.1h0M805.9 442h0M803.4 442.1h0M801.7 440.1h0M801.9 441.5h0M801.1 445h0M798.8 442.5h0M798.6 444h0M797 443.6h0M796.6 444.7h0M793.6 444.4h0M793.4 443.8h0M792.4 444.3h0M791.9 445.7h0M789.7 445.3h0M788.3 444.2h0M786 446.9h0M783.8 447.7h0M782.9 448h0M782.5 448.4h0M782.3 446.4h0M782.1 449.7h0M779.6 448.3h0M778.2 447.5h0M778.2 447.6h0M775.8 447h0M774 446.2h0M774.6 447h0M773.1 446.9h0M770.1 446.2h0M769 446.2h0M768 445.6h0M765.7 444.7h0M767.5 444.6h0M763.5 445.2h0M764.7 443.1h0M761.8 443.6h0M759 444.7h0M759.5 443.7h0M757.5 443.7h0M756.5 442.8h0M754.7 441.4h0M755.8 441.8h0M753.5 442h0M751.6 441.2h0M751.4 441.1h0M749.3 441.1h0M749.4 441.4h0M747.4 439.7h0M744.5 440.6h0M745.7 438.9h0M744.1 439.2h0M743.2 438.8h0M740.8 438.8h0M738.8 437.6h0M739.4 437h0M739.6 437h0M735.5 433.3h0M736.3 433.4h0M734.3 434.6h0M731.5 431.1h0M732.2 432.7h0M730.6 432.1h0M728.8 430h0M728.3 429.9h0M725.7 430.8h0M726.2 430h0M724.1 428.3h0M723 427.3h0M723.1 426.8h0M722.2 427.2h0M722.8 424.8h0M720.5 425.4h0M718.5 423.3h0M717 424.8h0M716.2 423.5h0M714.9 423.9h0M714.1 419.8h0M712.3 419.4h0M708.7 420.1h0M712.2 420h0M708.6 418.3h0M709.8 418.8h0M707.6 417.9h0M706.5 418h0M705.9 416.8h0M703.2 416.4h0M702.4 416.3h0M700.7 414.4h0M700.9 412.5h0M701.5 414.6h0M698.2 413.2h0M698 409.2h0M696.7 411h0M695.5 409.3h0M694.1 409.4h0M694.6 409h0M692.5 409.4h0M691 406.5h0M688.8 407.6h0M690.6 406.1h0M689.4 404.4h0M688 403.1h0M686.6 402.6h0M745.4 352.4h0M747.6 353.8h0M747.9 357.8h0M748.9 358.9h0M749.8 360.2h0M750.9 364.1h0M751.5 365.5h0M752.4 368.1h0M751.9 370.1h0M753.3 373.3h0M754.1 375.4h0M754.2 377h0M755.8 379.7h0M757.1 381.1h0M757.4 385.8h0M758.3 386.4h0M758.3 389.1h0M758.9 390.3h0M759.6 392.8h0M760.5 397h0M762 398.6h0M761.2 400.3h0M763.2 401.7h0M764.4 406.2h0M764.3 406.6h0M765.2 409.3h0M766.4 411.8h0M767.3 414.5h0M768.1 416.5h0M769.1 418.8h0M769.6 422.6h0M770.4 423.4h0M770.3 426h0M770.9 426.8h0M787.8 426.4h0M788.1 422.2h0M789.2 420.7h0M790.3 420.8h0M790.8 416.1h0M792.6 414.5h0M792.6 411.3h0M793.4 409.1h0M795.2 408.6h0M796.1 405.1h0M796.5 403.1h0M797.2 400.7h0M798.9 397.6h0M799.2 396.3h0M799.4 394.9h0M801.4 391.1h0M800.6 389.7h0M801.5 387.9h0M802 383.7h0M803.3 383h0M803.5 378.5h0M804.9 378.2h0M805.6 375h0M805.3 372.1h0M808 370.5h0M807.7 367.8h0M807.1 364.7h0M808 364.4h0M809.4 362.2h0M809.3 358.2h0M810.1 356.3h0M810.4 353.9h0M811.7 351.8h0M668.8 417.6h0M677.8 406.4h0M685.1 408h0M694.9 422.3h0M694.9 425.9h0M704 426.8h0M712.2 430.4h0M712.8 433.1h0M718.9 436.9h0M734.6 436.1h0M837.3 430h0M843 424.7h0M846.5 423.3h0M848.5 419.2h0M849.6 413.1h0M852.6 409h0M856.7 404.4h0M859.7 404h0M752.5 329.9h0M753.9 356.5h0M755.5 366.3h0M751.9 355.1h0M807.2 362.2h0M805.8 369.4h0" stroke="#BEBEBE" stroke-width="4.4" stroke-linecap="round" fill="none"/>
<path d="M747.3 402.5L747.3 350L744.5 338L741.5 326L737 308L732.5 291L727 281.5L718 278.5L703 278L688 281.5L676 289L667 297L664 303L669 314L677 333L688 353L693.5 373L698 402.5Z" fill="#2E5587"/>
<path d="M744.7 344h0M746 346.3h0M743.4 343.7h0M744.5 341h0M746.7 340.6h0M747.4 339h0M745.4 338.8h0M743.3 338.9h0M744 337.8h0M743.8 334h0M743.5 334.6h0M744.9 332h0M743 329.5h0M743.8 329.4h0M739.6 329.9h0M744 326.4h0M740.2 326.5h0M739.8 327.1h0M740.1 324.2h0M742 323h0M741.5 321.6h0M738.6 319h0M743.2 320.3h0M740.3 319.6h0M739.9 318.6h0M742.4 315.7h0M736.6 314.6h0M736.6 316.3h0M739.8 312.4h0M736 312.2h0M740.1 307.2h0M738.5 308.8h0M739 307.7h0M736.6 305.8h0M735.2 309.3h0M737.8 305.3h0M734.8 301.8h0M735.2 303.6h0M735.4 302.4h0M733.5 301.3h0M734.9 302.3h0M737.6 298.9h0M733.1 297.9h0M733.1 295.7h0M733.7 294h0M734.4 294.4h0M733.5 293.1h0M731.7 290.8h0M732.2 290.3h0M732.4 290.1h0M729.2 289.2h0M728.7 287.1h0M729.7 283.7h0M729.8 286.3h0M728.8 284.3h0M727.8 282.4h0M727.4 282.1h0M727.4 280h0M726.7 281.5h0M725 280.2h0M725 277.9h0M723.8 280.6h0M722.4 280.4h0M719.7 279h0M720.7 279.7h0M718.9 276.3h0M718.3 280.4h0M717.8 278.8h0M712.5 279.9h0M713.6 274.3h0M713.3 275.9h0M709.4 277.3h0M712.4 277.7h0M709.6 281h0M710.5 278h0M706.4 276.1h0M704.5 278.8h0M705.1 278.2h0M704.8 276.8h0M702 279.4h0M701.9 280.2h0M700.4 278.3h0M699.2 277.4h0M694.9 280.2h0M696.3 280h0M692.5 279.2h0M693.1 278.7h0M689.3 279.8h0M693.2 281.2h0M689.7 280.9h0M690.7 276.7h0M688.1 282.3h0M688.4 284.7h0M688.1 283.1h0M685.8 284.5h0M683.4 283.8h0M684.7 287.6h0M682 285h0M681.6 287.8h0M680.2 288.7h0M677.7 286.7h0M678 288.8h0M679 285.8h0M674.8 289.4h0M674.3 287.1h0M676.1 291.1h0M674.4 290.4h0M674.4 291.5h0M673.6 291.2h0M669.6 293.8h0M669 295.3h0M669.6 293.6h0M668.4 295.3h0M668.9 295.6h0M666 299.5h0M669.8 301.8h0M665.8 300h0M667.6 300.5h0M663.1 301.9h0M664.8 301.5h0M661.8 301.6h0M666 303.7h0M665.1 306.4h0M666.9 306.6h0M667.1 306.7h0M666.3 307.6h0M669.1 310.3h0M666.6 310.8h0M667.9 313.6h0M666.2 311.9h0M668.7 318.7h0M671.2 315.5h0M671.3 320.1h0M670.3 317.3h0M673 319.8h0M672.6 319.2h0M675.1 323.9h0M673.4 323.3h0M669.7 324.3h0M673.1 325.1h0M674.9 324.9h0M671.6 327.2h0M673.6 327.1h0M674.2 328.2h0M672 331.8h0M676.5 332.7h0M679.7 332h0M674.2 331.7h0M675.7 333.3h0M678.3 331.9h0M679.3 333.8h0M679.8 337h0M679.4 338.1h0M679.6 338.3h0M678.3 340.3h0M684.5 344.5h0M684.3 343.5h0M681.6 345.7h0M683.2 344.3h0M683.4 345.6h0M683.7 346.4h0M683.3 346.9h0M689.2 348.5h0M685.8 350.5h0M687.8 348.9h0M686.9 353.1h0M688.3 352.9h0M690.7 352.7h0M688.7 354.1h0M691.2 353h0M688.1 356.4h0M690.5 359.3h0M692 357h0M691.3 360.2h0M689.3 362.6h0M689.3 359.6h0M690.4 361.7h0M690.3 365.8h0M692.2 368.9h0M691.7 365h0M691.1 367.1h0M690.7 370.4h0M691.9 367.7h0M694.3 371.8h0M694.1 373.3h0M694.7 374.4h0M695.9 376.2h0M694.7 377.3h0M691.9 377.5h0M694 379.3h0M692.4 382.8h0M694.9 379.4h0M692.2 382h0M695 382.5h0M695.4 383.8h0M696.4 384.8h0M695.6 388.7h0M699.9 386.7h0M695.3 388.1h0M697.4 388.8h0M695.6 391.7h0M695 391.4h0M696 390.8h0M694.6 394.6h0M697.3 396.2h0M694.4 396.9h0M698.7 399.7h0M697.5 398.5h0M691.8 277.8h0M686.5 265.6h0M705.6 278.8h0M688.7 231.9h0M691.7 279.9h0M744.3 280.2h0M705.2 244.1h0M693.1 275.1h0M697 278.1h0M703.8 280.2h0M707.3 280.4h0M679.4 252.6h0M738 266.3h0M705.9 274.9h0M732.5 273.2h0M699.9 278.9h0M714.3 272.5h0M706.7 273.3h0M703.2 269h0M680.1 262.6h0M716.8 278.4h0M697 270.7h0M683.6 279.4h0M683.9 280.5h0M741.9 265h0M694.3 237.5h0M703.4 272.3h0M728.3 280.6h0M719.7 273.3h0M725.5 236.7h0M689 267.2h0M714.2 273.5h0M709.9 273.2h0M665.2 278.1h0M712.7 255h0M702 266.4h0M692 259.1h0M697 261.1h0M674.8 256.8h0M687.5 248.2h0M723.3 276.3h0M679.9 280.9h0M717.6 274.8h0M693.1 264.8h0M714 278.6h0M707 265.1h0M692.3 275.4h0M700.4 244.7h0M692.2 279.4h0M719.8 235.2h0M716.6 267.5h0M711.3 267.6h0M686 264.7h0M692.8 241.8h0M731.1 243.7h0M684.5 272.9h0M715.4 280.1h0M699.4 264.6h0M700.6 280.7h0M660.4 264.6h0M683.8 276.5h0M696.7 265.8h0M706.5 250.7h0M682.4 248.2h0M699 249.6h0M698.6 272h0M699.5 279.8h0M701.6 271.9h0M711 266.2h0M693.4 252.2h0M699.2 279.8h0M686 275.2h0M692.5 254.1h0M685.7 262.7h0M708.5 278.5h0M737 248.2h0M732.4 255.5h0M690.4 277.7h0M704.6 198.6h0M701.7 266.9h0M667.5 259.2h0M663.7 277.7h0M689.5 279.6h0M693.1 224.6h0M676.6 274.2h0M683.6 278.9h0M683.7 266.4h0M683.9 280.3h0M673.2 244.2h0M695.9 273.7h0M711.3 273.5h0M703.5 255.6h0M684.4 272.6h0M697.6 278.9h0M699.7 261.8h0M716.7 272.6h0M687.5 272h0M676.3 265.7h0M744.1 267.6h0M681.4 267.9h0M694 269.6h0M686.9 271.7h0M716.8 275.4h0M695.1 275.7h0M686.2 247.3h0M713.9 261.7h0M709.8 274.5h0M721.7 270.1h0M716.5 274.3h0M687.3 263.6h0M698.4 260.2h0M726.9 267.6h0M683 279.4h0M697.5 274h0M698.2 279.4h0M665.5 280.5h0M683.8 228.7h0M705.6 278.8h0M689.8 269.4h0M706.7 261.8h0M736.7 278.9h0M672.5 250.5h0M694.5 236.8h0M694.1 233.4h0M712.9 240.9h0M694.1 277.3h0M700.6 273.9h0M692.5 208.6h0M707.9 275.3h0M707.3 268.7h0M714.6 273.9h0M724.8 277.9h0M685 244.3h0M690.4 280.5h0M687.6 261.9h0M687.5 271h0M688 267.5h0M700.7 272.8h0M712.1 260.9h0M679.7 201.8h0M706.3 262.9h0M691.6 264.4h0M743.9 275.3h0M704.1 277.6h0M691.6 280.9h0M701.3 259.9h0M698.8 255.2h0M742.3 267.2h0M676.1 276.2h0M698.7 267h0M708.6 267.3h0M691.1 256.2h0M672.5 271.2h0M709.4 248.2h0M701.4 266h0M689.3 257.1h0M669.6 272.6h0M729.5 266h0M693.5 252.5h0M695.3 277.8h0M698.1 247.1h0M700.6 281h0M692.6 280.3h0M693.2 277.9h0M721.7 267.7h0M725.6 276.5h0M698.8 278h0M692.8 278.9h0M671.4 274.9h0M699.9 259.7h0M718.3 263.5h0M698.8 280.7h0M707.6 261.1h0M695.8 274.5h0M731.8 279.6h0M672.1 252.1h0M674.7 264.7h0M724.2 280.3h0M672.4 256.8h0M723.1 264.6h0M689.5 272.3h0M706.3 272.4h0M721.5 251.1h0M721.7 260.8h0M713.1 278.7h0M693.2 205.4h0M694.2 267.8h0M693.9 260.5h0M726.4 260.7h0M703.6 250.4h0M720 277.7h0M659.9 279.4h0M693.2 271.2h0M704.8 272.9h0M692.9 272.8h0M736.9 262.3h0M678.4 262.2h0M708.4 267.1h0M714.6 261.1h0M685.2 272.2h0M714.8 274.5h0M704.4 230.5h0M725.5 274.2h0M698.6 266.7h0M717.1 276.9h0M707.5 279.8h0M691.9 272.2h0M711.6 276.2h0M708.9 276.8h0M727.7 253.7h0M667.7 222.7h0M676.3 272.8h0M686 268.2h0M711.7 276.8h0M718.2 251.4h0M696 251.6h0M700.9 274.2h0M672.6 278.2h0M683.7 258.3h0M715.9 269.9h0M714.3 259.5h0M720.7 276.5h0M711.8 266h0M658 280.9h0M704.9 268.2h0M706.7 278.7h0M674.1 255.2h0M732.8 276h0M698.2 280.2h0M717 279.5h0M714 276.8h0M711.1 278.4h0M724.5 265.6h0M696.3 258.1h0M716.9 276.7h0M707.5 262.8h0M672.6 229.2h0M689.7 279h0M675.9 249.2h0M667.1 261.5h0M668.5 245.9h0M708.3 270.9h0M676.1 278.2h0M716.8 260.1h0M696 276.7h0M694.9 267.6h0M666.2 188.9h0M707 278.1h0M680.7 245.8h0M711.4 273.4h0M712.4 277h0M668.5 261.9h0M708.1 265h0M663.9 271.6h0M713.8 257.9h0M656.5 237.4h0M679.7 257.9h0M722.3 243h0M703 260.2h0M712.3 273.4h0M658.7 278.8h0M713.9 277.8h0M683.3 255.2h0M729 267.9h0M701.1 274.5h0M698.8 278.9h0M670.9 267.6h0M684.6 276.8h0M696.3 236.1h0M724 277.1h0M722.5 276h0M695.2 269.9h0M677.2 255.1h0M678.5 273.8h0M729.8 275.1h0M703.9 253h0M681.1 270.8h0M726.7 274.1h0M709.8 274.3h0M710.9 212.6h0M715.5 277.6h0M706.7 280.4h0M690.6 266.3h0M671.7 274.9h0M675.5 265.6h0M685.7 280.6h0M709.6 279.2h0M686.9 270.2h0M714.3 271h0M715.8 263.5h0M726.9 279.6h0M727.5 278.2h0M654.3 279h0M728.8 267.3h0M701.1 228.7h0M703 271h0M689.7 274.9h0M705.7 279.2h0M703.3 280.5h0M688.8 271.8h0M664.2 251.2h0M724.5 274h0M710.6 273.8h0M682.1 264.7h0M691.8 267.4h0M714.5 274.7h0M687.5 237.5h0M706.6 277.4h0M719.3 273.7h0M716.2 278h0M699.1 280.8h0M680.3 230.9h0M694.9 277.3h0M712.8 238h0M698.2 275.9h0M730 254.1h0M732.4 280.4h0M727.3 268.7h0M714 275.8h0M680.1 273.6h0M730.9 271.3h0M714.5 269.6h0M690.4 279.1h0M686.9 280.6h0M689.3 263.2h0M702.8 257.2h0M673.6 256.8h0M722 274.1h0M694.4 266.8h0M710.6 263h0M664.4 343.4h0M687.5 366.7h0M648.3 315.7h0M664.6 311.1h0M666.8 314.4h0M681.6 361.6h0M680.9 298.3h0M689.6 390.4h0M639.8 235.4h0M657.6 288.3h0M661.4 273h0M663.6 338.8h0M649.8 271.7h0M667.9 319.6h0M653.2 302.1h0M676.2 337.1h0M652.4 267.6h0M657 310.6h0M685.6 359.1h0M679.7 368.9h0M687.7 354h0M679.3 350.4h0M665.1 300.5h0M677.6 343.4h0M689.2 363h0M664.1 340.8h0M661.5 279.2h0M670 323.9h0M664.1 343.1h0M683.2 348.2h0M683.1 351.7h0M685.2 354.1h0M689.2 391.1h0M662.5 320.4h0M667.4 295h0M648.6 241.4h0M645.5 237h0M669.8 323.7h0M651 243.8h0M645.5 344.2h0M672.2 360.4h0M668.3 319.9h0M692.9 373.7h0M694 398.8h0M679.2 342.2h0M692.1 373.5h0M686.7 351.2h0M692.4 380.5h0M678.8 355.7h0M671.7 331.7h0M663.6 314.1h0M664.6 311.4h0M649 315.4h0M662.6 301.9h0M669.3 275.9h0M663 268.9h0M653.1 317.8h0M691.8 395.4h0M659.7 305.9h0M659.1 303.6h0M696 392h0M661.3 268.8h0M654.8 281h0M675.7 333.4h0M694.5 382h0M657.9 300h0M690.8 390.9h0M690.2 371.6h0M639.5 240.3h0M696.3 393.5h0M643.4 237.3h0M692.6 383.5h0M662.4 296.1h0M664.4 288.9h0M675.3 337.3h0M690.3 383.6h0M662.3 378.2h0M664.2 273.3h0M690.1 386.7h0M670.2 291.5h0M650.2 310.6h0M691.2 370.5h0M661.5 388.2h0M650 258.6h0M680.8 349.5h0M693.3 384.2h0M679 294.4h0M688 394.3h0M669.5 330.5h0M682.4 284.1h0M683.4 356h0M673.4 373.2h0M681.4 352.3h0M682.9 280.9h0M684.3 353.7h0M658.9 237.8h0M656.5 283.2h0M687.2 356.5h0M639.6 311.4h0M663.2 294h0M659.3 312.3h0M663.7 298.4h0M667.3 289.7h0M671.7 323.6h0M688 398.6h0M638.6 241.2h0M649.8 255.7h0M661.9 352.7h0M672.2 323.8h0M683.5 370.7h0M690.2 385.2h0M659.5 364.6h0M655.3 252.9h0M672.7 328.8h0M674.2 294.5h0M665.7 333.4h0M659 326.9h0M665.1 279.1h0M641.1 249.3h0M684.2 369.6h0M693.9 386.2h0M663.4 322.1h0M690.6 386.3h0M671.2 334.4h0M667.9 329.3h0M693.6 384.3h0M669.8 356.6h0M651.6 245.9h0M684.3 359h0M666.7 312.1h0M666.4 315.6h0M670.7 279.6h0M657.8 285h0M682.5 380.2h0M652.6 276.3h0M664.9 298.7h0M657.6 314.1h0M686.5 361.1h0M663.9 331.6h0M672.3 259.1h0M684 367.1h0M684.6 378.6h0M669.5 264.1h0M652.6 245.5h0M669.7 342.5h0M671.4 381.2h0M686.5 383.1h0M675 366.8h0M645.7 321.9h0M666.5 333.8h0M690.7 364.9h0M692.6 372.1h0M656.3 277.5h0M662.1 284.3h0M687.7 362.7h0M663.2 271.3h0M664 316.3h0M685.2 355.3h0M666.5 321h0M677.6 338.4h0M683.8 364.1h0M691 366.5h0M689.6 383.6h0M689.5 387.8h0M667.8 325.3h0M668.8 338.2h0M662.5 261h0M661.4 314.2h0M689.7 361.3h0M643.4 237.3h0M668.4 319.1h0M691 365.3h0M685.2 373.2h0M693.8 375.5h0M683.4 364.7h0M677 356.3h0M669 286.7h0M664.7 305.4h0M679.3 341.5h0M646.2 264.6h0M673.7 344.2h0M674.7 335.1h0M684.2 350.3h0M678.5 342.6h0M661.6 269.3h0M695.9 389h0M664.6 384.9h0M667.7 354.8h0M679.4 342.4h0M648.8 337.8h0M644.4 252.7h0M688.6 374.4h0M645.5 242.6h0M652.1 255.8h0M679.5 290.4h0M673.1 339.9h0M690.8 375.4h0M687.3 372.8h0M655.9 330h0M685.7 356.3h0M667.4 317h0M681.1 344.2h0M662.4 264.6h0M682.6 358.7h0M669.5 252h0M636.3 319h0M668.7 338.4h0M685.7 349.8h0M673.5 330h0M686.2 359.3h0M662.1 314h0M683.3 353.5h0M658.4 291h0M665.3 398.1h0M675.6 343.8h0M655.6 324.8h0M649.6 255.6h0M663.6 329.9h0M653 259.6h0M694.5 399.2h0M664 315.1h0M665.1 338.9h0M695 384.7h0M689.4 389.7h0M645.5 390.1h0M653.7 260.6h0M677.1 350.9h0M656.5 323.5h0M665.2 295.6h0M650.9 261.5h0M667.4 329.6h0M659.9 288.6h0M664.7 314.6h0M693.8 384.6h0M681.6 361.1h0M652.6 263.2h0M692.1 379.7h0M649.7 245.5h0M670.2 319.4h0M669.9 324.7h0M664.7 314.6h0M696.4 392.3h0M671.4 355h0M661.2 301.8h0M663.7 271.4h0M685.7 356.2h0M681.5 395.1h0M672.6 329.5h0M656.3 280.3h0M692.8 382.7h0M696.4 397.1h0M671.7 322.5h0M658.3 266.3h0M692.7 375.3h0M669.8 290.5h0M649.8 351h0M670.1 344.7h0M681.4 358.4h0M682.4 362.5h0M669.8 323h0M745.5 333.6h0M745.3 337.5h0M739.6 317.1h0M737.6 300.3h0M745.2 329.3h0M745.5 340.6h0M746.1 332.7h0M738.5 312.6h0M733 288h0M735.2 291.8h0M736.2 299.4h0M737.2 306.4h0M744.5 327.3h0M746.4 338.4h0M733.7 290.1h0M733.9 296.1h0M738.6 311.9h0M745.8 334.5h0M738.1 296.3h0M717.3 231.4h0M675.7 236.7h0M664 235.1h0M657.2 208.6h0M708.5 223.1h0M707.1 242.3h0M718 235.1h0M718.9 237h0M725.3 247.5h0M655.4 219.8h0M682.7 219.1h0M666 246.4h0M654 216h0M712.1 217.8h0M672.4 250.6h0M712.2 227.7h0M662.8 219.8h0M729.5 242.8h0M657.5 239.1h0M681.7 239.7h0M675.3 213.7h0M653.6 221h0M720 247.2h0M706 240.9h0M667.4 223.6h0M723 251.4h0M687 242.1h0M725.7 251.9h0M675.4 236.8h0M682.8 228.5h0M688.5 220.3h0M653.5 241.7h0M707 245h0M664.1 218.4h0M699.1 249.2h0M689.3 216.8h0M699 250.1h0M720.6 247.6h0M684.4 219.5h0M720.8 242.7h0M719.3 225.2h0M674.6 218.6h0M720.8 248.5h0M681 246.5h0M682.1 227.7h0M702 151h0M705.1 153h0M690.2 170.7h0M721.8 177.6h0M674.9 182.3h0M687.2 188h0M721.3 189h0M610.8 197.6h0M623.1 196.5h0M624.9 202.4h0M656.6 198h0M659.3 197.8h0M698.6 194.7h0M718.5 194.1h0M697.3 203.7h0M714.8 202.2h0M724 201h0M726.8 203.3h0M609 279.2h0M629.8 255.2h0M633.4 247.4h0M628.8 225.6h0M631.8 235.8h0M632.8 232.8h0M623.7 301.2h0M625.3 303.4h0M638.3 299.8h0M637.9 304.9h0M638.9 326h0M652.2 326.6h0M639.5 333.8h0M642.4 335.8h0M642.4 342.9h0M655.2 340.3h0M654.2 344.9h0M646.1 375.1h0M657.2 372.4h0" stroke="#2E5587" stroke-width="4.4" stroke-linecap="round" fill="none"/>
<path d="M808.4 402.5L808.4 357L812 340L815 330.7L823.1 310.4L827.2 300L831 296.5L851 296.5L855.2 310.4L858 325L857.5 351L849.5 371.4L839.4 391.7L833.3 402.5Z" fill="#CC0000"/>
<path d="M810.2 351.8h0M809.6 352.1h0M809.7 350.9h0M810.7 349.4h0M811.4 349.2h0M809.9 347.4h0M810 347.6h0M810.5 345.7h0M810.6 341.8h0M812.8 341.2h0M812.7 342.3h0M809.4 339h0M811.5 338h0M810.8 339.2h0M812.6 337.5h0M812.7 336.2h0M812.6 334.5h0M815 333.5h0M813.8 330.6h0M815.1 331.6h0M814.9 328.8h0M816.6 332.5h0M815.8 328.2h0M817.2 322.7h0M817.3 324.3h0M819.6 323.9h0M816.9 322.8h0M818.7 321.1h0M818.9 318.8h0M819 320.9h0M822.8 319.6h0M820.7 319.2h0M822.3 318.8h0M822.8 315h0M822 314.3h0M822.6 313.2h0M821.4 308.6h0M822 307.6h0M823.6 309.5h0M821.4 309.4h0M825.7 307.3h0M827.3 308.9h0M823.5 306.5h0M826.4 304.4h0M827.6 301.6h0M825.7 300.3h0M825.9 300.2h0M825.6 297.9h0M829.6 298.5h0M830.2 294.9h0M829.3 296.1h0M831.6 295.6h0M834.2 296.4h0M834 296.5h0M836.3 295.8h0M838.1 297.2h0M837.9 296.6h0M839.7 298h0M841.6 297.1h0M842.7 296.7h0M844.5 296.5h0M840.7 298.5h0M845.2 294.7h0M846 295.2h0M850.6 297.2h0M846.4 297.3h0M849.3 299.4h0M849.5 293.3h0M851.5 297.3h0M851.1 295.8h0M852.7 302.7h0M849.6 303.1h0M852 306h0M853.8 303.4h0M855.2 305.6h0M853 307.1h0M853.5 304.5h0M857.6 307.8h0M854 310h0M852.9 308.7h0M854.7 311.1h0M855.8 314.8h0M855.2 315.1h0M857.1 313.9h0M856.8 315.3h0M858.2 318.6h0M856.9 317.1h0M857.3 319.2h0M858.4 321.4h0M856.3 324.1h0M858.9 323.1h0M859.7 324.7h0M857.5 326.6h0M856.8 326.9h0M857.7 331.1h0M860.2 329.7h0M860.3 331.2h0M858.4 333.8h0M858.3 337.3h0M858.2 333.1h0M859.7 335.6h0M857.3 332.9h0M859.2 339.8h0M858.9 341.3h0M860.2 341h0M859.1 341.2h0M857.1 345.1h0M858.2 342.7h0M858.1 345.7h0M856.3 347.8h0M856.9 346.1h0M855.9 352.3h0M855.2 351.2h0M858 353h0M854.8 352.7h0M856.4 355.5h0M854.8 353.7h0M856.8 358.2h0M855.4 356.8h0M855 359h0M855.2 358.1h0M853.7 360.9h0M851.4 362.6h0M852.7 362.8h0M852.8 362.4h0M851.7 366.3h0M851.7 368.4h0M849 365.7h0M850.8 369.8h0M853.1 371.2h0M848.2 372.6h0M847.7 370.3h0M852.3 374.1h0M848.9 375.5h0M850 376.2h0M848.6 375.3h0M844.1 380.1h0M847.9 379.8h0M845.5 380.4h0M843.6 383.6h0M845 383.1h0M844.1 385h0M843.7 385.7h0M840.7 386.4h0M845.2 386h0M841.1 389.2h0M842.2 389.9h0M837.8 390.8h0M837.9 389.9h0M839.9 391.8h0M839.7 398h0M839.1 395.4h0M836 394.4h0M835.1 395.7h0M834.5 396.5h0M835.2 397.1h0M832.8 397.6h0M852.6 301.7h0M839.4 392.9h0M854.9 366.7h0M857.1 316.6h0M851 367.7h0M845.2 385.9h0M857.9 320.5h0M855.3 364.1h0M859.8 329.1h0M861.9 344.2h0M871.8 352h0M858.5 362.6h0M870.4 346.9h0M865.2 347.1h0M857.7 314.9h0M842.1 386.8h0M848.2 383.7h0M856.1 356.2h0M852 374.7h0M869.5 326.2h0M858.4 346.2h0M858.8 303.1h0M875.6 359.4h0M854.2 306.3h0M857.8 360.7h0M865.9 341.9h0M844.8 391.6h0M846.7 377h0M875.1 311.7h0M838.2 395.3h0M858.4 349.6h0M859.2 338.3h0M859.6 324.2h0M867.7 306.7h0M859.9 342.4h0M856.2 362.6h0M879 331.3h0M863.1 336h0M848.3 379.7h0M858.1 342.4h0M859.6 307.5h0M858.2 305.9h0M859 360.8h0M835.9 399.9h0M862.6 311.2h0M861 341.9h0M852 375.9h0M866.5 354.4h0M856.5 356.5h0M852 392.5h0M839.7 397.9h0M861.1 306.9h0M847.9 377.3h0M854.9 359.1h0M860.2 317.2h0M854.4 303.3h0M865.6 319.9h0M866.2 329.2h0M848.2 379.4h0M852.8 301.2h0M854.8 359.5h0M862.4 321.8h0M860.2 347.4h0M860.5 354.2h0M852.3 300.1h0M861.5 328h0M853.7 301.3h0M859.4 316.2h0M845.3 380.4h0M847.2 385.8h0M875 318.6h0M869 326.5h0M855.5 303.8h0M873.9 348.6h0M851.7 383h0M852.6 301.4h0M836.6 399.5h0M861.1 338.1h0M847.9 375.8h0M853.1 381h0M867.9 341.3h0M858.3 337.4h0M858.5 339.4h0M857.6 305.1h0M850 381.8h0M862.7 348.1h0M854.6 382.1h0M856.8 366.2h0M859.5 356.5h0M861.9 344.4h0M858.1 320.8h0M873.6 334.4h0M856.9 353.5h0M845 380.7h0M841.7 392.8h0M856.4 353.8h0M854.9 297.7h0M861.4 326.9h0M857.4 351.8h0M843.2 398.2h0M858.2 306.3h0M858.4 351.4h0M861.3 372.7h0M837.3 399.6h0M862.1 316.9h0M864.3 333.9h0M858.2 350.5h0M851.2 370.3h0M845.1 380.7h0M859.8 386h0M871.5 238.7h0M842.4 275.3h0M863.8 277.5h0M866.8 276.5h0M878.7 276.9h0M838.6 286.5h0M853.6 287.3h0M859.3 294.4h0M873.6 293.4h0M859.3 294.5h0M873.6 293.7h0M871.9 303.6h0M877.6 302.2h0M886.6 305.3h0M877.6 308.9h0M887.8 312h0M876.4 316h0M867.9 316.5h0M859.7 311.4h0M860.1 316.5h0M819 316.5h0M811.9 333.8h0M870.9 332.1h0M865.8 341.9h0M863.8 349h0M906.1 355.1h0M853.6 387.7h0M870.5 391.8h0M841.4 389.7h0M849.6 399.9h0M855.7 400.9h0M867.9 320.5h0M863.8 324.6h0" stroke="#CC0000" stroke-width="4.4" stroke-linecap="round" fill="none"/>
<line x1="748.8" y1="461" x2="748.8" y2="137.8" stroke="#000" stroke-width="1.5" stroke-dasharray="4.6 4.6"/>
<line x1="809.8" y1="461" x2="809.8" y2="137.8" stroke="#000" stroke-width="1.5" stroke-dasharray="4.6 4.6"/>
<line x1="595.3" y1="402.5" x2="920" y2="402.5" stroke="#000" stroke-width="1.5" stroke-dasharray="4.6 4.6"/>
<rect x="595.3" y="137.8" width="324.7" height="323.1" fill="none" stroke="#1a1a1a" stroke-width="2.3"/>
<line x1="596.3" y1="461" x2="596.3" y2="465.2" stroke="#333" stroke-width="1.2"/>
<text x="596.3" y="484.1" font-size="22" text-anchor="middle">-6</text>
<line x1="657.3" y1="461" x2="657.3" y2="465.2" stroke="#333" stroke-width="1.2"/>
<text x="657.3" y="484.1" font-size="22" text-anchor="middle">-4</text>
<line x1="718.3" y1="461" x2="718.3" y2="465.2" stroke="#333" stroke-width="1.2"/>
<text x="718.3" y="484.1" font-size="22" text-anchor="middle">-2</text>
<line x1="779.3" y1="461" x2="779.3" y2="465.2" stroke="#333" stroke-width="1.2"/>
<text x="779.3" y="484.1" font-size="22" text-anchor="middle">0</text>
<line x1="840.3" y1="461" x2="840.3" y2="465.2" stroke="#333" stroke-width="1.2"/>
<text x="840.3" y="484.1" font-size="22" text-anchor="middle">2</text>
<line x1="901.5" y1="461" x2="901.5" y2="465.2" stroke="#333" stroke-width="1.2"/>
<text x="901.5" y="484.1" font-size="22" text-anchor="middle">4</text>
<line x1="591" y1="447.4" x2="595.3" y2="447.4" stroke="#333" stroke-width="1.2"/>
<text x="588.3" y="455.4" font-size="22" text-anchor="end">0.0</text>
<line x1="591" y1="361.2" x2="595.3" y2="361.2" stroke="#333" stroke-width="1.2"/>
<text x="588.3" y="369.2" font-size="22" text-anchor="end">2.5</text>
<line x1="591" y1="275.1" x2="595.3" y2="275.1" stroke="#333" stroke-width="1.2"/>
<text x="588.3" y="283.1" font-size="22" text-anchor="end">5.0</text>
<line x1="591" y1="188.9" x2="595.3" y2="188.9" stroke="#333" stroke-width="1.2"/>
<text x="588.3" y="196.9" font-size="22" text-anchor="end">7.5</text>
<text x="770.8" y="516.2" font-size="33.4" text-anchor="middle">Log2 Fold Change</text>
<text transform="translate(545.3 299.4) rotate(-90)" font-size="33.6" text-anchor="middle">-Log10 (Padj Value)</text>
<text x="1360.5" y="644.5" font-size="33.3" text-anchor="middle" font-weight="bold">Plasma cfDNA</text>
<text x="1821.5" y="644.5" font-size="33.3" text-anchor="middle" font-weight="bold">Tissue DNA</text>
<circle cx="1213" cy="683.3" r="11" fill="#CC0000"/>
<text x="1254" y="692" font-size="25.6">Hypermethylation</text>
<circle cx="1495" cy="683.3" r="11" fill="#2E5587"/>
<text x="1536" y="692" font-size="25.6">Hypomethylation</text>
<circle cx="1767.5" cy="683.3" r="11" fill="#BEBEBE"/>
<text x="1809" y="692" font-size="25.6">Not−significant</text>
<g>
<path d="M1289.6 916.3L1323.3 916.3L1329.4 949.8L1341.7 1018.9L1353.2 951.9L1361.9 916.3L1398.2 916.3L1395.6 943.5L1391.3 979.1L1390.2 1000L1372.8 1016.8L1341.7 1030.8L1316.3 1020.9L1298.9 1006.3L1296.8 985.4L1292.4 954Z" fill="#BEBEBE"/>
<path d="M1397.1 917.8h0M1397.6 921h0M1398.8 922.1h0M1397 922.6h0M1398.1 926.4h0M1397.5 925h0M1396.2 929.2h0M1397.2 927.3h0M1396.8 929.3h0M1396.1 931.4h0M1395.9 933.8h0M1396.4 934.1h0M1396.7 936.9h0M1394.5 937.3h0M1395.1 938.8h0M1394.6 940.4h0M1395.7 941.5h0M1394.6 942.8h0M1394.4 943.2h0M1395.5 944.9h0M1396.3 948.1h0M1393 949.1h0M1393.7 950.3h0M1394.7 949.7h0M1394.2 952.8h0M1395.2 953.3h0M1394.8 954.8h0M1393.6 956.5h0M1395.2 959.3h0M1396 960.8h0M1394.3 962.4h0M1392.6 962.9h0M1394.4 963.9h0M1393.1 965.7h0M1393.3 966.8h0M1392.4 968.8h0M1392.5 969.1h0M1393.1 970.1h0M1390.8 971.5h0M1392.8 973.9h0M1390.7 974.5h0M1391.9 976h0M1390.1 979.1h0M1390 979.5h0M1391.1 980.8h0M1391 984h0M1390.5 982.9h0M1389.1 985.3h0M1390.5 987.2h0M1390.3 987.9h0M1390 989.3h0M1390.8 990.8h0M1390.7 994.5h0M1391 992.5h0M1392.1 995.8h0M1389.4 997.8h0M1390.3 997.7h0M1389.6 998.7h0M1389.4 1001.9h0M1388 1002.2h0M1389.2 1001.6h0M1386.5 1003.5h0M1384.2 1003.7h0M1384.2 1006.2h0M1382.7 1006.8h0M1382.9 1008h0M1382 1009.2h0M1380.6 1011.5h0M1379.7 1010.8h0M1378.8 1010.7h0M1376.7 1013.4h0M1376.7 1015.2h0M1375 1013.2h0M1375.9 1016.7h0M1371.9 1018h0M1371.8 1015.4h0M1370 1017.3h0M1370.7 1017.6h0M1367.6 1018.7h0M1366.2 1018.7h0M1365.5 1021.2h0M1364.6 1019.8h0M1361.5 1021.5h0M1360.7 1021.3h0M1358.4 1024.5h0M1359.7 1022.1h0M1358.4 1025h0M1353.8 1023.7h0M1354.5 1025.5h0M1353.5 1025.2h0M1352.2 1027.9h0M1353.2 1026.1h0M1348.8 1029.9h0M1347.4 1027.2h0M1347.2 1028.8h0M1346.8 1029.3h0M1343.7 1030h0M1343.5 1032h0M1341.9 1029.4h0M1339.6 1031.8h0M1338.7 1027.7h0M1337.4 1029.3h0M1337.8 1027.8h0M1336 1029.1h0M1333.3 1027.6h0M1334.4 1029h0M1332.2 1027.1h0M1331.1 1026.1h0M1328.6 1024.9h0M1327.4 1025.1h0M1328.8 1024.5h0M1326 1025.5h0M1323.2 1024.8h0M1319.9 1023.3h0M1321.6 1020.3h0M1318.2 1023.2h0M1317.8 1020.5h0M1316.4 1020.6h0M1316.3 1020.8h0M1314.2 1018.7h0M1313.4 1019.8h0M1312.7 1018.2h0M1311.1 1015.4h0M1309.4 1016.4h0M1309.2 1013.9h0M1306.4 1014h0M1306.6 1012.6h0M1305.5 1012.4h0M1305 1012.1h0M1304.6 1011.6h0M1303.4 1009h0M1301.4 1008.9h0M1300.1 1008.1h0M1300.4 1005.8h0M1297.1 1006.5h0M1298.7 1004.6h0M1297.2 1004.2h0M1299.1 1001h0M1297.9 999.8h0M1297.9 998h0M1296.8 998.1h0M1297.8 995.5h0M1297.8 991.7h0M1298 992.3h0M1297.1 991.3h0M1296.3 990.6h0M1296.4 987.5h0M1296.1 987.1h0M1297.5 984.9h0M1295.1 985.2h0M1295.3 983.9h0M1296.2 980.6h0M1295.4 980.4h0M1296.7 978.3h0M1296.6 979.2h0M1295.2 974.5h0M1294.2 972.9h0M1294.4 972.1h0M1293.5 972h0M1292 968.7h0M1296.5 969.7h0M1294.8 967.7h0M1295.8 966.4h0M1293.9 963.2h0M1293.6 962.3h0M1292.8 960.9h0M1293.2 959.9h0M1294 957.5h0M1292.7 959.2h0M1292.7 957.2h0M1293.6 955.9h0M1293.1 951.8h0M1292 951.4h0M1290.6 949.9h0M1290.8 947.2h0M1292.2 947.4h0M1291.1 945.1h0M1291.2 944.3h0M1291.2 943.2h0M1291.1 942.2h0M1291.9 940.8h0M1290.6 938.4h0M1291.6 937.4h0M1291 933.7h0M1288.3 935.1h0M1291.2 934.7h0M1291.5 932.1h0M1290.7 929h0M1291.4 928.5h0M1291 927.8h0M1290.6 927.1h0M1289.8 924.4h0M1289.3 923h0M1291.7 921.6h0M1291.1 921.4h0M1290.5 919.9h0M1321.2 918.9h0M1321.1 920.4h0M1322.9 922.7h0M1323.1 924.8h0M1322.3 927.6h0M1322.8 931.7h0M1323.8 933h0M1324.6 934.7h0M1325.3 937.9h0M1325.1 940.3h0M1326.1 941.6h0M1326.6 945.1h0M1325.9 946.3h0M1327.2 949.9h0M1327.4 951.8h0M1327.3 953.3h0M1328.4 956.1h0M1327.8 959.3h0M1329.4 960.9h0M1329 962.9h0M1329.3 964h0M1330.7 968.1h0M1330.7 970.6h0M1331.5 973.2h0M1331.7 974.7h0M1330.8 977.6h0M1331.9 978.3h0M1332.9 982.2h0M1333.1 983.8h0M1333.6 985.4h0M1334.5 987.6h0M1334.8 990.5h0M1335 993.3h0M1334.3 994.7h0M1335.8 998.7h0M1336.4 1001.6h0M1337 1002.6h0M1346.1 1006.2h0M1346.7 1002.9h0M1346.8 998.9h0M1347.8 999h0M1348.1 995.8h0M1348.3 992.7h0M1348.5 990h0M1348.9 987.8h0M1349.2 986.4h0M1349.7 984.2h0M1350.2 981.7h0M1351.4 977.9h0M1352 977.2h0M1351.8 976h0M1352.1 972.7h0M1352.6 970.3h0M1352.8 966.5h0M1353.4 964.9h0M1353.3 960.3h0M1353.5 960.5h0M1354 958.2h0M1354.6 954.8h0M1355 953.1h0M1355.9 951.1h0M1357 947.5h0M1357.7 945h0M1358.6 943.8h0M1357.4 941.1h0M1358.7 937.8h0M1358.6 937.3h0M1360.8 933.9h0M1360.3 932.4h0M1360.4 931.1h0M1361.9 928.7h0M1362.5 924.6h0M1362.3 924.1h0M1362.7 920.9h0M1364.8 917.1h0M1234.9 917.8h0M1234.4 917.9h0M1233.5 920.7h0M1236.7 924h0M1236.3 924.2h0M1235.6 927.6h0M1238.9 927.8h0M1238 930.6h0M1237.6 930h0M1238.3 935.1h0M1237.8 935.7h0M1236.4 939.8h0M1240.7 940.6h0M1240.4 942h0M1241.1 944.3h0M1241.4 946.6h0M1242.3 950.2h0M1241.4 950.9h0M1243 951.4h0M1242.1 955.1h0M1244.2 955.7h0M1246.5 957.3h0M1246.8 960.2h0M1248.4 963.2h0M1247.5 965h0M1249.1 966.2h0M1249.8 968.7h0M1249.6 970.1h0M1252.8 971.5h0M1254.5 972.9h0M1253.6 975.1h0M1253.6 976.4h0M1254.6 979.3h0M1255.2 982.1h0M1258.4 981.6h0M1258.6 985.2h0M1258.9 989.4h0M1260.7 989.2h0M1260.9 988.3h0M1263 991.1h0M1263.9 993.4h0M1266.2 996.8h0M1267.8 997.5h0M1268 998.1h0M1270.5 997.7h0M1273.3 999.9h0M1271.5 1003.6h0M1276.7 1002.3h0M1275.9 1007h0M1278.5 1002.8h0M1279.6 1007.7h0M1282.8 1007.3h0M1285.2 1008.2h0M1285.6 1006.8h0M1288.2 1008.2h0M1289.6 1011.9h0M1292.1 1011.1h0M1293.5 1012.6h0M1296.3 1011.4h0M1297.4 1015.3h0M1299.9 1013.7h0M1300.4 1013.2h0M1302.2 1017.7h0M1304.8 1016.1h0M1306.2 1017.7h0M1308.6 1018.3h0M1309.8 1020.1h0M1314 1019.7h0M1313.9 1022.3h0M1314.9 1021.4h0M1253.4 917.8h0M1253.9 917.8h0M1254.9 917.9h0M1253.3 918.4h0M1256.2 920.1h0M1256.3 923.9h0M1257.1 924.5h0M1256.2 926.1h0M1256.5 926.1h0M1258.8 927.9h0M1259.8 930.7h0M1257.9 932h0M1260 931.6h0M1258.3 933.3h0M1259.8 936.2h0M1260.1 936.4h0M1260 939.7h0M1262 940h0M1260 941.9h0M1262.1 942.9h0M1264 944.9h0M1261.8 944.4h0M1264.7 946.9h0M1264.8 948h0M1263.5 949.7h0M1266.6 951.2h0M1264.5 951.9h0M1265.7 953.7h0M1267.8 956.8h0M1267.6 955.8h0M1268 957.6h0M1268 958.9h0M1269 959.1h0M1270.1 961.2h0M1269.1 963.4h0M1270.2 966h0M1271.8 965.6h0M1271.2 966.4h0M1273.5 967.4h0M1274.1 967.3h0M1274.2 971.5h0M1275 972h0M1276.3 972.4h0M1275 974.7h0M1277.9 976.3h0M1277.1 977.4h0M1278.4 977.2h0M1275.9 978.7h0M1277.8 980.4h0M1279 981.3h0M1281.6 983.3h0M1282.1 986h0M1282.6 985.1h0M1285.3 985.4h0M1283.4 989h0M1286.3 989.3h0M1287.5 990.8h0M1287.4 990.9h0M1287.7 992.2h0M1290 992.7h0M1291.4 997.2h0M1290.5 996.2h0M1293.5 997.6h0M1292.7 998.8h0M1295.1 998.6h0M1295 1000.1h0M1297.2 1001.9h0M1299.5 1001.8h0M1298.8 1002.8h0M1299.9 1004.5h0M1269.2 917.8h0M1269.2 917.8h0M1271.6 919.2h0M1269.2 918.9h0M1270.6 920.3h0M1270.8 922.1h0M1271.1 921.6h0M1269.2 923h0M1269.6 924.1h0M1271.8 923.9h0M1271.5 925.9h0M1273.7 927.6h0M1270.1 928.6h0M1272.6 928.9h0M1272 930.7h0M1273.2 931.5h0M1271.7 931.8h0M1271.4 931.6h0M1272.5 933h0M1272.9 937.5h0M1274 935.1h0M1271.5 936.1h0M1272.4 935.8h0M1274.8 938.5h0M1274.7 943h0M1274.7 941h0M1275 941.6h0M1274 942.7h0M1276.2 943.6h0M1274 943.6h0M1274.6 945.8h0M1276.4 947.3h0M1277.4 947.6h0M1277.3 949.1h0M1277.5 947.9h0M1278.3 949.2h0M1276.2 952.5h0M1277.2 954.5h0M1278.1 952.7h0M1278.3 954.3h0M1280 957.3h0M1279.5 956.2h0M1279.1 958.6h0M1278.5 957.8h0M1280.4 960.3h0M1279.6 960.2h0M1278.2 962.7h0M1280.3 961h0M1279.6 962.5h0M1282.7 965.1h0M1279.9 967.2h0M1282.8 965.3h0M1279.2 968.2h0M1281.6 968.1h0M1282.1 970.4h0M1284.4 970.9h0M1283.2 971.3h0M1284.3 970.4h0M1285.3 972.6h0M1284.7 974h0M1285.7 975.9h0M1287.4 975.4h0M1284.6 976.8h0M1285.2 978.5h0M1285.5 978.7h0M1287.6 980.5h0M1287.2 981.9h0M1288.7 979.7h0M1288.1 982.5h0M1287.8 982.7h0M1453.2 917.8h0M1453 919.6h0M1453.3 919.6h0M1451.1 923h0M1450.7 924.2h0M1451.4 927h0M1451 929.4h0M1449.5 930.5h0M1448.9 932h0M1449.2 932.8h0M1446 936.6h0M1448.5 937.7h0M1447 939.1h0M1447.7 941.4h0M1447.9 943.5h0M1445.2 945.8h0M1444.6 947.2h0M1442.7 948.5h0M1444.3 950h0M1442.9 953.1h0M1442.3 956.1h0M1441.2 956h0M1440.5 956h0M1438.4 960.4h0M1438.8 963h0M1438.3 963.3h0M1438.6 965.6h0M1438.3 966h0M1436.2 969.5h0M1435.4 971.7h0M1435 972.4h0M1432.5 975.1h0M1432.2 976.8h0M1432.6 977.8h0M1429.4 979.1h0M1430.2 980.9h0M1429.2 982.6h0M1426.7 983.3h0M1425.1 986.4h0M1423.4 986.4h0M1421.5 988.9h0M1419.3 988.8h0M1420.3 992.2h0M1417.8 993.2h0M1414.6 994.3h0M1415.2 993.4h0M1411.4 995.2h0M1411.8 997.1h0M1409.9 998.5h0M1408.8 997.3h0M1406 999.2h0M1405.7 1000.3h0M1404 1001.9h0M1403.7 1002.8h0M1399.6 1003.7h0M1398 1007.2h0M1395.6 1004.8h0M1394.1 1007.2h0M1391.5 1008.1h0M1391.5 1008h0M1388.7 1008.3h0M1386.9 1009.1h0M1386.6 1012.4h0M1383.3 1011.6h0M1379.9 1012h0M1380.3 1013.6h0M1378.3 1015.1h0M1376.5 1014.7h0M1376.2 1014h0M1371.7 1016.1h0M1432.9 917.8h0M1433.1 917.8h0M1432.9 919.3h0M1432.7 920h0M1431.4 919.9h0M1431.7 923.2h0M1432 924.5h0M1432.3 925.7h0M1430.1 927h0M1431.4 929h0M1430.9 928.5h0M1429.8 929.5h0M1428 930.3h0M1429.2 932.7h0M1428.3 933h0M1430.4 933.6h0M1429.1 934.7h0M1427.8 936.9h0M1428.5 937.1h0M1426.2 940.3h0M1427 940.8h0M1427.3 941.9h0M1425.6 942.1h0M1423.9 943.6h0M1424.5 944.5h0M1426.3 946.3h0M1424.1 945.5h0M1424.3 949.4h0M1422.3 949.5h0M1422.1 950.1h0M1421.8 949.8h0M1421.2 950.9h0M1422.6 954.6h0M1420.8 955h0M1420.3 956.1h0M1420 956.8h0M1419.1 956.8h0M1417.8 958.7h0M1418.5 960.1h0M1419.6 961.3h0M1416.8 963h0M1417.5 965.4h0M1416.8 964.1h0M1415.1 966.8h0M1414.9 967.6h0M1414 969.5h0M1414.8 970.1h0M1413 968.5h0M1410.9 971.4h0M1412.2 969.3h0M1410.5 974.4h0M1411.3 973.8h0M1410.4 975.4h0M1408.9 977.5h0M1409.6 977h0M1407 977.3h0M1405.8 980.9h0M1408.2 980.7h0M1406.6 980.8h0M1404.7 983.3h0M1404.3 983.3h0M1401.5 982.8h0M1402 984.6h0M1401.5 985.5h0M1400.5 987.1h0M1400.5 988h0M1398.6 988.6h0M1399.2 989.6h0M1396.6 989.8h0M1397 992.2h0M1417.5 917.8h0M1417.5 917.8h0M1415.7 917.8h0M1416.3 919.7h0M1415.6 919h0M1414 920.5h0M1415 920.9h0M1414.5 921h0M1414.6 923.1h0M1415.8 923.5h0M1415 924.1h0M1414.4 923.7h0M1415.2 926.4h0M1415.6 926.1h0M1414.2 926.6h0M1414.1 928.1h0M1414.4 928.9h0M1414.2 929.4h0M1414 930.4h0M1412.8 931.5h0M1413.4 930.9h0M1411.5 933.2h0M1412.7 931.9h0M1411 933.9h0M1412.8 935.6h0M1413.3 937.4h0M1414.4 935.6h0M1411.9 938.8h0M1410.6 937.2h0M1411.9 940.5h0M1412.7 938.5h0M1410.2 940.9h0M1410.7 942.1h0M1411.2 944.3h0M1410.8 943.6h0M1410.7 945.2h0M1409.4 945.3h0M1409.5 944.4h0M1411.2 947h0M1411.2 947.6h0M1410.2 948.2h0M1409.9 948.5h0M1410.8 948.8h0M1410.6 950.2h0M1409.6 951.4h0M1408.9 953.5h0M1408.4 951.9h0M1408.3 954.2h0M1405.5 955.3h0M1408.7 953.4h0M1407.3 956.7h0M1406.1 956.3h0M1406.6 958h0M1407.8 958.2h0M1406.6 960h0M1406.9 959.7h0M1407.4 959.2h0M1406 961h0M1405.2 962.4h0M1405.5 965.4h0M1405.9 964.1h0M1406.6 965.5h0M1403 965.4h0M1405.3 965.5h0M1404.6 966.4h0M1404.5 966h0M1402 967.9h0M1403.9 970.5h0M1403.2 969.2h0M1404.2 970.8h0M1278 917.8h0M1274.4 917.8h0M1275.6 917.8h0M1276 919.7h0M1276.7 921.1h0M1277.5 923.4h0M1277.5 924.6h0M1275.7 924h0M1276.8 927.3h0M1276.4 928h0M1278.3 931.7h0M1278.5 930.5h0M1279.6 932.6h0M1278.4 934.8h0M1277.9 935.2h0M1279.1 937.3h0M1278.1 936.4h0M1279 938.8h0M1279.7 940h0M1280.2 942.4h0M1280.2 942h0M1281.3 942.9h0M1280.2 946.6h0M1280 948.4h0M1282.7 950h0M1281.4 950.7h0M1280.6 951.5h0M1281.8 952.5h0M1281.7 953.6h0M1279.9 955.5h0M1282.5 958.4h0M1283.3 957.7h0M1283.8 959.6h0M1283.3 959.9h0M1282.2 961.7h0M1285.6 961h0M1283.4 964.9h0M1284.9 965.9h0M1283.3 966.2h0M1286 968.7h0M1286.1 968.5h0M1286.7 969.5h0M1285.6 970.9h0M1288.3 972.9h0M1287.3 972.4h0M1288.7 976.4h0M1286.3 975.6h0M1290 977.6h0M1290.5 979.4h0M1286.6 982.2h0M1289.9 983.1h0M1289.3 983.5h0M1291.1 984.2h0M1288.7 987.2h0M1290.5 988.8h0M1291.2 988.4h0M1291.9 987.7h0M1293.9 990.7h0M1293 994h0M1293.9 994.7h0M1294.6 995.8h0M1295.1 997.4h0M1295.1 998h0M1295.1 1000h0M1294.2 1000.2h0M1297.2 1001.6h0M1297.4 1003.9h0M1300 1003.2h0M1296.5 1003.9h0M1298.1 1006.1h0M1408.6 917.8h0M1408.1 917.8h0M1408.4 917.9h0M1407.9 922.8h0M1407.9 920.3h0M1405.7 923.5h0M1407.4 923.1h0M1410 926.4h0M1405.7 925.9h0M1408.3 928.3h0M1406 930.5h0M1408.8 928.8h0M1405.1 929.8h0M1407.4 933.5h0M1406.7 933.1h0M1406.3 935.5h0M1405 934.4h0M1406 938.6h0M1406.1 938.8h0M1405.1 940.8h0M1403.9 941h0M1404.9 942.2h0M1404.4 944.3h0M1405 944.2h0M1405.4 946h0M1404.1 946.7h0M1405.2 947.5h0M1404 949.4h0M1404.3 950.7h0M1405.9 950.4h0M1404.1 953.4h0M1404.4 953h0M1404.3 954.5h0M1403.5 957.6h0M1402.7 957.6h0M1401.6 959.6h0M1401.4 958.8h0M1400.1 962.8h0M1402.5 963.7h0M1401.5 964.8h0M1401.8 965.9h0M1400.3 966.2h0M1399.7 968.3h0M1399.6 969.2h0M1401.7 970.2h0M1401.1 973.4h0M1398.1 971.6h0M1400.2 973.6h0M1400 976.3h0M1398.8 977.6h0M1400.8 979h0M1397.9 979.1h0M1397.8 982h0M1397.6 980.9h0M1397.4 983.2h0M1396.5 984h0M1396.4 985.8h0M1396.9 986.4h0M1395 987.7h0M1394.1 989.6h0M1394.8 989.9h0M1391.6 993.2h0M1395 993.2h0M1393.2 993.8h0M1395.5 993.6h0M1392.9 996h0M1391.8 996.9h0M1390.2 998.4h0M1389.4 1000.7h0M1391 999.2h0M1215.3 975.3h0M1219 977.4h0M1222.8 979.4h0M1226.5 981.4h0M1230.2 983.5h0M1233.9 985.5h0M1237.7 987.5h0M1241.4 989.6h0M1447.7 987.5h0M1451.1 985.7h0M1454.4 983.9h0M1457.7 982.1h0M1461 980.3h0M1464.3 978.5h0M1467.7 976.7h0M1471 974.9h0M1469.5 937.6h0M1440.1 982.9h0M1446.7 981.6h0" stroke="#BEBEBE" stroke-width="4.4" stroke-linecap="round" fill="none"/>
<path d="M1391 927h0M1383 936.3h0M1385.8 921.9h0M1289.4 943.8h0M1394.1 956.7h0M1384.6 957.7h0M1390.1 937.2h0M1391.2 937.7h0M1293.2 944.3h0M1294.1 943.6h0M1386.5 934.6h0M1394.7 948h0M1294.7 938.3h0M1387.5 930.6h0M1290.8 955h0M1294.4 935h0M1390.2 934.3h0M1290.4 958.9h0M1296 922.5h0M1292.5 921.2h0M1386.2 950.7h0M1393.3 925.5h0M1293.5 959h0M1292.6 958.3h0M1293.8 945.1h0M1392.7 944.8h0M1387.5 946.8h0M1391.4 939.5h0M1388 930.5h0M1293.2 957.6h0M1387.4 949.2h0M1302.5 933.2h0M1295.6 929.4h0M1290.3 933.1h0M1303.3 926.5h0M1297.6 922.7h0M1391.8 950.9h0M1393.6 956.4h0M1295.6 949.1h0M1289.9 959.2h0" stroke="#fff" stroke-width="1.6" stroke-linecap="round" fill="none"/>
<path d="M1213 813.2h0M1216.8 831.6h0M1217.6 838.5h0M1219.3 844.6h0M1220.6 850.2h0M1220.6 854.4h0M1235.6 858.6h0M1222.9 865.9h0M1224.5 872.2h0M1223.5 878.5h0M1225.6 879.5h0M1226.8 884.8h0M1243.4 876.8h0M1259.7 875.3h0M1246.9 886.9h0M1228.7 894.6h0M1230.8 901.5h0M1231.9 907.8h0M1233.5 914.1h0M1249.2 898.4h0M1250.3 900.5h0M1252.8 910.9h0M1254.3 914.1h0M1268.7 782.8h0M1293.8 773.6h0M1301.1 795.2h0M1280.4 813h0M1291.7 832h0M1291.3 840.8h0M1275.8 841.9h0M1278.9 845.2h0M1269.7 848.6h0M1272.9 856.9h0M1296.7 853.2h0M1295.9 858.6h0M1300.9 857.6h0M1303 864.2h0M1290.5 864.9h0M1294 863.8h0M1295.3 867h0M1290.5 870.1h0M1296.7 872.8h0M1293.6 873.9h0M1280 876.4h0M1285.2 875.8h0M1288.8 877.4h0M1269.5 880.4h0M1273.7 880.6h0M1281 881.6h0M1280 884.8h0M1288.4 880.6h0M1305.7 881.2h0M1312 880.6h0M1294.6 883.7h0M1297.8 886.9h0M1298.8 889.4h0M1304.1 887.3h0M1307.2 887.9h0M1310.3 890h0M1313.5 892.5h0M1264.7 887.9h0M1264.7 893.8h0M1273.7 894.2h0M1277.9 894.2h0M1278.9 897.3h0M1290.5 890.4h0M1288.4 900.5h0M1292.6 896.3h0M1294.6 899.4h0M1304.1 896.3h0M1305.1 899.4h0M1265.3 901.5h0M1267.4 905.7h0M1269.1 906.7h0M1276.9 902.5h0M1277.9 907.8h0M1283.1 906.7h0M1285.2 910.9h0M1287.3 912h0M1268.9 912.6h0M1278.9 913h0M1221.4 860.7h0M1224.1 875.3h0M1226 882h0M1227.7 890h0M1229.8 898.4h0M1232.7 910.9h0M1317.3 899.9h0M1297.4 913.3h0M1295.3 910.5h0M1288.6 906.2h0M1298.3 913.6h0M1314.1 897.1h0M1304.9 899.1h0M1304.1 910.5h0M1317.4 912.2h0M1290.2 912.9h0M1299.5 910.1h0M1314.2 898.3h0M1308 911.5h0M1317.3 909.8h0M1296.7 913.3h0M1302.1 911.2h0M1314 908.3h0M1294 913.9h0M1290.4 913.9h0M1305.8 912.7h0M1311.2 909.6h0M1298.4 913.2h0M1302 906.2h0M1298 896.1h0M1308.8 910.2h0M1297.9 908.4h0M1313.9 913.4h0M1315.5 879.7h0M1295.1 913.6h0M1304.4 913.9h0M1316.3 904.9h0M1299.7 914h0M1303.5 907.7h0M1305.2 912.2h0M1309 909.6h0M1303 903.5h0M1317.1 908h0M1292.1 912.4h0M1310.2 906h0M1299.2 912.8h0M1289.8 913.1h0M1310.6 902h0M1302 895.7h0M1308.3 913.9h0M1289.7 914h0M1289.1 898.9h0M1293.7 902h0M1289.8 912.9h0M1299.6 907.3h0M1313.4 904.2h0M1306.1 914.1h0M1303.6 905.5h0M1303.8 906.2h0M1295.9 906.3h0M1317.3 913.7h0" stroke="#2E5587" stroke-width="4.4" stroke-linecap="round" fill="none"/>
<path d="M1458.3 733h0M1415.6 783.5h0M1403.9 787.4h0M1401.2 800.8h0M1473.6 813.6h0M1375 822h0M1398.9 823.9h0M1433.4 821.8h0M1470 830.1h0M1393.4 833.1h0M1397.2 838.1h0M1416 839.6h0M1431.9 837.2h0M1409.3 845.6h0M1412.9 848.1h0M1429 847.5h0M1450.8 846.2h0M1467.3 848.1h0M1466.3 852.3h0M1465.2 854.4h0M1402.9 858.6h0M1384 861.1h0M1389.5 864.9h0M1399.7 864.9h0M1426.5 863.2h0M1429.2 870.7h0M1415.6 870.7h0M1466.3 861.7h0M1462.1 873.2h0M1461.5 876.4h0M1383.6 871.8h0M1379 873.7h0M1391.3 876.4h0M1398.2 876.4h0M1403.5 878.5h0M1387.8 880.2h0M1413.3 883.7h0M1443.2 875.3h0M1445.3 876.8h0M1442.2 880.6h0M1461 883.3h0M1460 887.9h0M1374.8 890h0M1389.9 890.4h0M1396.8 891.7h0M1405.6 893.1h0M1421.3 890h0M1420.2 893.8h0M1373.1 895.2h0M1413.9 895.9h0M1438.6 894.6h0M1437 898.4h0M1457.9 892.1h0M1456.8 896.3h0M1419.6 899.6h0M1403.1 896.9h0M1385.7 897.3h0M1390.5 896.9h0M1374.2 900.9h0M1379.4 900.9h0M1392 900.9h0M1395.1 900.9h0M1410.8 902.1h0M1436.5 902.5h0M1455.8 900.5h0M1462.1 901.5h0M1454.8 904.6h0M1526.8 904.2h0M1365.8 903.6h0M1367.9 907.2h0M1370.4 906.7h0M1380.9 904.6h0M1386.7 905.7h0M1396.2 906.7h0M1403.5 907.8h0M1407.7 908.8h0M1415 910.9h0M1416 914.1h0M1379.4 912h0M1389.9 913h0M1399.3 914.1h0M1434.9 910.9h0M1432.8 914.1h0M1453.7 908.8h0M1452.7 913h0M1451.6 916.2h0M1458.9 890h0M1458.5 894.2h0M1457.5 898.4h0M1456.4 902.5h0M1455.4 906.7h0M1454.1 910.9h0M1460.6 885.8h0M1464.2 864.9h0M1463.1 869.1h0" stroke="#CC0000" stroke-width="4.4" stroke-linecap="round" fill="none"/>
</g>
<line x1="1319.1" y1="1043.3" x2="1319.1" y2="719.4" stroke="#000" stroke-width="1.5" stroke-dasharray="6.2 3"/>
<line x1="1364.3" y1="1043.3" x2="1364.3" y2="719.4" stroke="#000" stroke-width="1.5" stroke-dasharray="6.2 3"/>
<line x1="1198.8" y1="916.3" x2="1541.6" y2="916.3" stroke="#000" stroke-width="1.5" stroke-dasharray="6.2 3"/>
<rect x="1198.8" y="719.4" width="342.8" height="323.9" fill="none" stroke="#1a1a1a" stroke-width="2.3"/>
<line x1="1228.7" y1="1043.3" x2="1228.7" y2="1047.5" stroke="#333" stroke-width="1.2"/>
<text x="1228.7" y="1066.4" font-size="22" text-anchor="middle">-5</text>
<line x1="1341.7" y1="1043.3" x2="1341.7" y2="1047.5" stroke="#333" stroke-width="1.2"/>
<text x="1341.7" y="1066.4" font-size="22" text-anchor="middle">0</text>
<line x1="1454.7" y1="1043.3" x2="1454.7" y2="1047.5" stroke="#333" stroke-width="1.2"/>
<text x="1454.7" y="1066.4" font-size="22" text-anchor="middle">5</text>
<line x1="1194.5" y1="1029.2" x2="1198.8" y2="1029.2" stroke="#333" stroke-width="1.2"/>
<text x="1191.8" y="1037.2" font-size="22" text-anchor="end">0</text>
<line x1="1194.5" y1="942.6" x2="1198.8" y2="942.6" stroke="#333" stroke-width="1.2"/>
<text x="1191.8" y="950.6" font-size="22" text-anchor="end">1</text>
<line x1="1194.5" y1="856" x2="1198.8" y2="856" stroke="#333" stroke-width="1.2"/>
<text x="1191.8" y="864" font-size="22" text-anchor="end">2</text>
<line x1="1194.5" y1="769.6" x2="1198.8" y2="769.6" stroke="#333" stroke-width="1.2"/>
<text x="1191.8" y="777.6" font-size="22" text-anchor="end">3</text>
<text x="1371.2" y="1098.5" font-size="33.4" text-anchor="middle">Log2 Fold Change</text>
<text transform="translate(1164.6 881.3) rotate(-90)" font-size="33.6" text-anchor="middle">-Log10 (Padj Value)</text>
<use href="#vp" transform="translate(1499.5 581.5)"/>
<line x1="1766.2" y1="1043.3" x2="1766.2" y2="719.4" stroke="#000" stroke-width="1.5" stroke-dasharray="6.2 3"/>
<line x1="1809.7" y1="1043.3" x2="1809.7" y2="719.4" stroke="#000" stroke-width="1.5" stroke-dasharray="6.2 3"/>
<line x1="1638.5" y1="916.1" x2="1981.5" y2="916.1" stroke="#000" stroke-width="1.5" stroke-dasharray="6.2 3"/>
<rect x="1638.5" y="719.4" width="342.9" height="323.9" fill="none" stroke="#1a1a1a" stroke-width="2.3"/>
<line x1="1700.8" y1="1043.3" x2="1700.8" y2="1047.5" stroke="#333" stroke-width="1.2"/>
<text x="1700.8" y="1066.4" font-size="22" text-anchor="middle">-4</text>
<line x1="1787.9" y1="1043.3" x2="1787.9" y2="1047.5" stroke="#333" stroke-width="1.2"/>
<text x="1787.9" y="1066.4" font-size="22" text-anchor="middle">0</text>
<line x1="1875" y1="1043.3" x2="1875" y2="1047.5" stroke="#333" stroke-width="1.2"/>
<text x="1875" y="1066.4" font-size="22" text-anchor="middle">4</text>
<line x1="1962.1" y1="1043.3" x2="1962.1" y2="1047.5" stroke="#333" stroke-width="1.2"/>
<text x="1962.1" y="1066.4" font-size="22" text-anchor="middle">8</text>
<line x1="1634.2" y1="1029.1" x2="1638.5" y2="1029.1" stroke="#333" stroke-width="1.2"/>
<text x="1631.5" y="1037.1" font-size="22" text-anchor="end">0</text>
<line x1="1634.2" y1="942.5" x2="1638.5" y2="942.5" stroke="#333" stroke-width="1.2"/>
<text x="1631.5" y="950.5" font-size="22" text-anchor="end">1</text>
<line x1="1634.2" y1="855.8" x2="1638.5" y2="855.8" stroke="#333" stroke-width="1.2"/>
<text x="1631.5" y="863.8" font-size="22" text-anchor="end">2</text>
<line x1="1634.2" y1="769.1" x2="1638.5" y2="769.1" stroke="#333" stroke-width="1.2"/>
<text x="1631.5" y="777.1" font-size="22" text-anchor="end">3</text>
<text x="1828.8" y="1098.5" font-size="33.4" text-anchor="middle">Log2 Fold Change</text>
<text transform="translate(1603.1 881.3) rotate(-90)" font-size="33.6" text-anchor="middle">-Log10 (Padj Value)</text>
<text x="1360.5" y="62.5" font-size="33.3" text-anchor="middle" font-weight="bold">Plasma cfDNA</text>
<text x="1821.6" y="62.8" font-size="33.3" text-anchor="middle" font-weight="bold">Tissue DNA</text>
<rect x="1238.8" y="112" width="19.4" height="19.6" fill="#C9102D"/>
<path d="M1238.8 166.2L1248.5 147.6L1258.2 166.2Z" fill="#1B6FB5"/>
<text x="1275.5" y="130.8" font-size="28.8">Hypermethylation</text>
<text x="1275.5" y="166.2" font-size="28.8">Hypomethylation</text>
<rect x="1735.3" y="112" width="19.4" height="19.6" fill="#C9102D"/>
<path d="M1735.3 166.2L1745 147.6L1754.7 166.2Z" fill="#1B6FB5"/>
<text x="1771.8" y="130.8" font-size="28.8">Hypermethylation</text>
<text x="1771.8" y="166.2" font-size="28.8">Hypomethylation</text>
<path d="M1075.3 327.4V138.3A3.7 3.7 0 0 1 1082.7 138.3V327.4L1075.3 332.6V525.1A3.7 3.7 0 0 0 1082.7 525.1V332.6ZM1093.1 291.4V149A3.7 3.7 0 0 1 1100.5 149V291.4L1093.1 296.6V525.1A3.7 3.7 0 0 0 1100.5 525.1V296.6ZM1110.8 356.1V218.5A3.7 3.7 0 0 1 1118.2 218.5V356.1L1110.8 361.3V525.1A3.7 3.7 0 0 0 1118.2 525.1V361.3ZM1128.6 304.2V231.3A3.7 3.7 0 0 1 1136 231.3V304.2L1128.6 309.4V525.1A3.7 3.7 0 0 0 1136 525.1V309.4ZM1146.4 316V245A3.7 3.7 0 0 1 1153.8 245V316L1146.4 321.2V525.1A3.7 3.7 0 0 0 1153.8 525.1V321.2ZM1164.1 350.4V262A3.7 3.7 0 0 1 1171.5 262V350.4L1164.1 355.6V525.1A3.7 3.7 0 0 0 1171.5 525.1V355.6ZM1181.9 369V280.2A3.7 3.7 0 0 1 1189.3 280.2V369L1181.9 374.2V525.1A3.7 3.7 0 0 0 1189.3 525.1V374.2ZM1199.7 368V302.7A3.7 3.7 0 0 1 1207.1 302.7V368L1199.7 373.2V525.1A3.7 3.7 0 0 0 1207.1 525.1V373.2ZM1217.5 375.2V313.4A3.7 3.7 0 0 1 1224.9 313.4V375.2L1217.5 380.4V525.1A3.7 3.7 0 0 0 1224.9 525.1V380.4ZM1235.2 377.4V320.6A3.7 3.7 0 0 1 1242.6 320.6V377.4L1235.2 382.6V525.1A3.7 3.7 0 0 0 1242.6 525.1V382.6ZM1253 396.9V318.6A3.7 3.7 0 0 1 1260.4 318.6V396.9L1253 402.1V525.1A3.7 3.7 0 0 0 1260.4 525.1V402.1ZM1270.8 371.4V321.5A3.7 3.7 0 0 1 1278.2 321.5V371.4L1270.8 376.6V525.1A3.7 3.7 0 0 0 1278.2 525.1V376.6ZM1288.5 373.1V351.4A3.7 3.7 0 0 1 1295.9 351.4V373.1L1288.5 378.3V525.1A3.7 3.7 0 0 0 1295.9 525.1V378.3ZM1306.3 383.9V363A3.7 3.7 0 0 1 1313.7 363V383.9L1306.3 389.1V525.1A3.7 3.7 0 0 0 1313.7 525.1V389.1ZM1324.1 394.8V371A3.7 3.7 0 0 1 1331.5 371V394.8L1324.1 400V525.1A3.7 3.7 0 0 0 1331.5 525.1V400ZM1341.8 441.4V389.5A3.7 3.7 0 0 1 1349.2 389.5V441.4L1341.8 446.6V525.1A3.7 3.7 0 0 0 1349.2 525.1V446.6ZM1359.6 434.1V400.7A3.7 3.7 0 0 1 1367 400.7V434.1L1359.6 439.3V525.1A3.7 3.7 0 0 0 1367 525.1V439.3ZM1377.4 428.2V405.2A3.7 3.7 0 0 1 1384.8 405.2V428.2L1377.4 433.4V525.1A3.7 3.7 0 0 0 1384.8 525.1V433.4ZM1395.2 474.9V439.7A3.7 3.7 0 0 1 1402.6 439.7V474.9L1395.2 480.1V525.1A3.7 3.7 0 0 0 1402.6 525.1V480.1ZM1412.9 468.7V430.5A3.7 3.7 0 0 1 1420.3 430.5V468.7L1412.9 473.9V525.1A3.7 3.7 0 0 0 1420.3 525.1V473.9ZM1430.7 471.2V458.5A3.7 3.7 0 0 1 1438.1 458.5V471.2L1430.7 476.4V525.1A3.7 3.7 0 0 0 1438.1 525.1V476.4ZM1448.5 469.5V452A3.7 3.7 0 0 1 1455.9 452V469.5L1448.5 474.7V525.1A3.7 3.7 0 0 0 1455.9 525.1V474.7ZM1466.2 375.1V285.4A3.7 3.7 0 0 1 1473.6 285.4V375.1L1466.2 380.3V525.1A3.7 3.7 0 0 0 1473.6 525.1V380.3ZM1484 441.9A3.7 3.7 0 0 1 1491.4 441.9V525.1A3.7 3.7 0 0 1 1484 525.1ZM1484 451.6H1491.4" fill="#fff" stroke="#6a6a6a" stroke-width="0.7" stroke-linejoin="round"/>
<text x="1079" y="540" font-size="6.3" text-anchor="middle" fill="#222">1</text>
<text x="1096.8" y="540" font-size="6.3" text-anchor="middle" fill="#222">2</text>
<text x="1114.5" y="540" font-size="6.3" text-anchor="middle" fill="#222">3</text>
<text x="1132.3" y="540" font-size="6.3" text-anchor="middle" fill="#222">4</text>
<text x="1150.1" y="540" font-size="6.3" text-anchor="middle" fill="#222">5</text>
<text x="1167.8" y="540" font-size="6.3" text-anchor="middle" fill="#222">6</text>
<text x="1185.6" y="540" font-size="6.3" text-anchor="middle" fill="#222">7</text>
<text x="1203.4" y="540" font-size="6.3" text-anchor="middle" fill="#222">8</text>
<text x="1221.2" y="540" font-size="6.3" text-anchor="middle" fill="#222">9</text>
<text x="1238.9" y="540" font-size="6.3" text-anchor="middle" fill="#222">10</text>
<text x="1256.7" y="540" font-size="6.3" text-anchor="middle" fill="#222">11</text>
<text x="1274.5" y="540" font-size="6.3" text-anchor="middle" fill="#222">12</text>
<text x="1292.2" y="540" font-size="6.3" text-anchor="middle" fill="#222">13</text>
<text x="1310" y="540" font-size="6.3" text-anchor="middle" fill="#222">14</text>
<text x="1327.8" y="540" font-size="6.3" text-anchor="middle" fill="#222">15</text>
<text x="1345.5" y="540" font-size="6.3" text-anchor="middle" fill="#222">16</text>
<text x="1363.3" y="540" font-size="6.3" text-anchor="middle" fill="#222">17</text>
<text x="1381.1" y="540" font-size="6.3" text-anchor="middle" fill="#222">18</text>
<text x="1398.9" y="540" font-size="6.3" text-anchor="middle" fill="#222">19</text>
<text x="1416.6" y="540" font-size="6.3" text-anchor="middle" fill="#222">20</text>
<text x="1434.4" y="540" font-size="6.3" text-anchor="middle" fill="#222">21</text>
<text x="1452.2" y="540" font-size="6.3" text-anchor="middle" fill="#222">22</text>
<text x="1469.9" y="540" font-size="6.3" text-anchor="middle" fill="#222">X</text>
<text x="1487.7" y="540" font-size="6.3" text-anchor="middle" fill="#222">Y</text>
<path d="M1075.6 390.6H1083.7M1093.4 521H1101.5M1146.7 244.2H1154.8M1146.7 309.1H1154.8M1146.7 356.2H1154.8M1164.4 267.7H1172.5M1164.4 299.5H1172.5M1182.2 429.6H1190.3M1253.3 514.9H1261.4M1271.1 498H1279.2M1288.8 525.9H1296.9M1306.6 425.9H1314.7M1306.6 450H1314.7M1342.1 472.4H1350.2M1395.5 453.5H1403.6M1431 509.5H1439.1" stroke="#C9102D" stroke-width="0.7" fill="none" opacity="0.75"/>
<path d="M1306.6 525.6H1314.7M1359.9 516.8H1368" stroke="#1B6FB5" stroke-width="0.7" fill="none" opacity="0.75"/>
<path d="M1083.8 386.2h3.9v3.9h-3.9zM1083.8 391.2h3.9v3.9h-3.9zM1101.5 519h3.9v3.9h-3.9zM1154.8 242.2h3.9v3.9h-3.9zM1154.8 307.2h3.9v3.9h-3.9zM1154.8 354.2h3.9v3.9h-3.9zM1172.6 265.8h3.9v3.9h-3.9zM1172.6 297.6h3.9v3.9h-3.9zM1190.4 425.2h3.9v3.9h-3.9zM1190.4 430.1h3.9v3.9h-3.9zM1261.5 512.9h3.9v3.9h-3.9zM1279.2 496.1h3.9v3.9h-3.9zM1297 523.9h3.9v3.9h-3.9zM1314.8 423.9h3.9v3.9h-3.9zM1314.8 437.6h3.9v3.9h-3.9zM1314.8 442.1h3.9v3.9h-3.9zM1314.8 446.6h3.9v3.9h-3.9zM1314.8 451.1h3.9v3.9h-3.9zM1314.8 455.6h3.9v3.9h-3.9zM1314.8 459.8h3.9v3.9h-3.9zM1350.3 470.4h3.9v3.9h-3.9zM1403.6 451.6h3.9v3.9h-3.9zM1439.2 505.1h3.9v3.9h-3.9zM1439.2 510.1h3.9v3.9h-3.9z" fill="#C9102D"/>
<path d="M1316.7 523.8l1.8 3.6h-3.6zM1370 512.5l1.8 3.6h-3.6zM1370 517.4l1.8 3.6h-3.6z" fill="#1B6FB5"/>
<path d="M1564.5 321V135.4A3.7 3.7 0 0 1 1571.9 135.4V321L1564.5 326.2V515.1A3.7 3.7 0 0 0 1571.9 515.1V326.2ZM1582.3 285.6V145.9A3.7 3.7 0 0 1 1589.7 145.9V285.6L1582.3 290.8V515.1A3.7 3.7 0 0 0 1589.7 515.1V290.8ZM1600.1 349.2V214.2A3.7 3.7 0 0 1 1607.5 214.2V349.2L1600.1 354.4V515.1A3.7 3.7 0 0 0 1607.5 515.1V354.4ZM1617.9 298.2V226.7A3.7 3.7 0 0 1 1625.3 226.7V298.2L1617.9 303.4V515.1A3.7 3.7 0 0 0 1625.3 515.1V303.4ZM1635.7 309.8V240.2A3.7 3.7 0 0 1 1643.1 240.2V309.8L1635.7 315V515.1A3.7 3.7 0 0 0 1643.1 515.1V315ZM1653.5 343.6V256.9A3.7 3.7 0 0 1 1660.9 256.9V343.6L1653.5 348.8V515.1A3.7 3.7 0 0 0 1660.9 515.1V348.8ZM1671.3 361.9V274.7A3.7 3.7 0 0 1 1678.7 274.7V361.9L1671.3 367.1V515.1A3.7 3.7 0 0 0 1678.7 515.1V367.1ZM1689.1 360.8V296.8A3.7 3.7 0 0 1 1696.5 296.8V360.8L1689.1 366V515.1A3.7 3.7 0 0 0 1696.5 515.1V366ZM1706.9 367.9V307.3A3.7 3.7 0 0 1 1714.3 307.3V367.9L1706.9 373.1V515.1A3.7 3.7 0 0 0 1714.3 515.1V373.1ZM1724.7 370V314.5A3.7 3.7 0 0 1 1732.1 314.5V370L1724.7 375.2V515.1A3.7 3.7 0 0 0 1732.1 515.1V375.2ZM1742.5 389.2V312.4A3.7 3.7 0 0 1 1749.9 312.4V389.2L1742.5 394.4V515.1A3.7 3.7 0 0 0 1749.9 515.1V394.4ZM1760.3 364.2V315.3A3.7 3.7 0 0 1 1767.7 315.3V364.2L1760.3 369.4V515.1A3.7 3.7 0 0 0 1767.7 515.1V369.4ZM1778.1 365.9V344.7A3.7 3.7 0 0 1 1785.5 344.7V365.9L1778.1 371.1V515.1A3.7 3.7 0 0 0 1785.5 515.1V371.1ZM1795.9 376.5V356.1A3.7 3.7 0 0 1 1803.3 356.1V376.5L1795.9 381.7V515.1A3.7 3.7 0 0 0 1803.3 515.1V381.7ZM1813.7 387.2V363.9A3.7 3.7 0 0 1 1821.1 363.9V387.2L1813.7 392.4V515.1A3.7 3.7 0 0 0 1821.1 515.1V392.4ZM1831.5 433V382A3.7 3.7 0 0 1 1838.9 382V433L1831.5 438.2V515.1A3.7 3.7 0 0 0 1838.9 515.1V438.2ZM1849.3 425.8V393A3.7 3.7 0 0 1 1856.7 393V425.8L1849.3 431V515.1A3.7 3.7 0 0 0 1856.7 515.1V431ZM1867.1 420V397.5A3.7 3.7 0 0 1 1874.5 397.5V420L1867.1 425.2V515.1A3.7 3.7 0 0 0 1874.5 515.1V425.2ZM1884.9 465.8V431.4A3.7 3.7 0 0 1 1892.3 431.4V465.8L1884.9 471V515.1A3.7 3.7 0 0 0 1892.3 515.1V471ZM1902.7 459.7V422.3A3.7 3.7 0 0 1 1910.1 422.3V459.7L1902.7 464.9V515.1A3.7 3.7 0 0 0 1910.1 515.1V464.9ZM1920.5 462.2V449.9A3.7 3.7 0 0 1 1927.9 449.9V462.2L1920.5 467.4V515.1A3.7 3.7 0 0 0 1927.9 515.1V467.4ZM1938.3 460.5V443.5A3.7 3.7 0 0 1 1945.7 443.5V460.5L1938.3 465.7V515.1A3.7 3.7 0 0 0 1945.7 515.1V465.7ZM1956.1 367.8V279.9A3.7 3.7 0 0 1 1963.5 279.9V367.8L1956.1 373V515.1A3.7 3.7 0 0 0 1963.5 515.1V373ZM1973.9 433.5A3.7 3.7 0 0 1 1981.3 433.5V515.1A3.7 3.7 0 0 1 1973.9 515.1ZM1973.9 443H1981.3" fill="#fff" stroke="#6a6a6a" stroke-width="0.7" stroke-linejoin="round"/>
<text x="1568.2" y="530.8" font-size="6.3" text-anchor="middle" fill="#222">1</text>
<text x="1586" y="530.8" font-size="6.3" text-anchor="middle" fill="#222">2</text>
<text x="1603.8" y="530.8" font-size="6.3" text-anchor="middle" fill="#222">3</text>
<text x="1621.6" y="530.8" font-size="6.3" text-anchor="middle" fill="#222">4</text>
<text x="1639.4" y="530.8" font-size="6.3" text-anchor="middle" fill="#222">5</text>
<text x="1657.2" y="530.8" font-size="6.3" text-anchor="middle" fill="#222">6</text>
<text x="1675" y="530.8" font-size="6.3" text-anchor="middle" fill="#222">7</text>
<text x="1692.8" y="530.8" font-size="6.3" text-anchor="middle" fill="#222">8</text>
<text x="1710.6" y="530.8" font-size="6.3" text-anchor="middle" fill="#222">9</text>
<text x="1728.4" y="530.8" font-size="6.3" text-anchor="middle" fill="#222">10</text>
<text x="1746.2" y="530.8" font-size="6.3" text-anchor="middle" fill="#222">11</text>
<text x="1764" y="530.8" font-size="6.3" text-anchor="middle" fill="#222">12</text>
<text x="1781.8" y="530.8" font-size="6.3" text-anchor="middle" fill="#222">13</text>
<text x="1799.6" y="530.8" font-size="6.3" text-anchor="middle" fill="#222">14</text>
<text x="1817.4" y="530.8" font-size="6.3" text-anchor="middle" fill="#222">15</text>
<text x="1835.2" y="530.8" font-size="6.3" text-anchor="middle" fill="#222">16</text>
<text x="1853" y="530.8" font-size="6.3" text-anchor="middle" fill="#222">17</text>
<text x="1870.8" y="530.8" font-size="6.3" text-anchor="middle" fill="#222">18</text>
<text x="1888.6" y="530.8" font-size="6.3" text-anchor="middle" fill="#222">19</text>
<text x="1906.4" y="530.8" font-size="6.3" text-anchor="middle" fill="#222">20</text>
<text x="1924.2" y="530.8" font-size="6.3" text-anchor="middle" fill="#222">21</text>
<text x="1942" y="530.8" font-size="6.3" text-anchor="middle" fill="#222">22</text>
<text x="1959.8" y="530.8" font-size="6.3" text-anchor="middle" fill="#222">X</text>
<text x="1977.6" y="530.8" font-size="6.3" text-anchor="middle" fill="#222">Y</text>
<path d="M1564.9 134h6.6M1564.9 135.1h6.6M1564.9 136.5h6.6M1564.9 138.4h6.6M1564.9 139.5h6.6M1564.9 141.7h6.6M1564.9 152.6h6.6M1564.9 156.2h6.6M1564.9 191H1573.5M1564.9 203.8H1573.5M1564.9 301.1H1573.5M1564.9 478.1h6.6M1564.9 484.8h6.6M1564.9 491.5h6.6M1564.9 492.4h6.6M1564.9 497.7h6.6M1564.9 507.2h6.6M1564.9 508.4h6.6M1582.7 143.6h6.6M1582.7 145.3h6.6M1582.7 151.5h6.6M1582.7 155.8h6.6M1582.7 157h6.6M1582.7 163.3h6.6M1582.7 226.3H1591.2M1582.7 278.5H1591.2M1582.7 283H1591.2M1582.7 306.2h6.6M1582.7 404.6H1591.2M1582.7 433.5H1591.2M1582.7 438.9H1591.2M1582.7 449H1591.2M1582.7 482.6h6.6M1582.7 484.9h6.6M1582.7 490.3h6.6M1582.7 493.5h6.6M1582.7 497h6.6M1582.7 499.9h6.6M1582.7 511.8h6.6M1582.7 517.4h6.6M1600.5 228.5H1609M1600.5 255.5H1609M1600.5 274.1h6.6M1600.5 278.3h6.6M1600.5 299.6H1609M1600.5 323.5H1609M1600.5 333H1609M1600.5 336.4H1609M1600.5 511.2h6.6M1618.3 235.1h6.6M1618.3 240.1h6.6M1618.3 296.5H1626.9M1618.3 301.5H1626.9M1618.3 311H1626.9M1618.3 337.1H1626.9M1618.3 342.1H1626.9M1618.3 348.1H1626.9M1618.3 354.4H1626.9M1618.3 413.2h6.6M1618.3 414.9h6.6M1618.3 420.9h6.6M1618.3 425.5h6.6M1618.3 427.7h6.6M1618.3 431.9h6.6M1618.3 444.5h6.6M1618.3 445.7h6.6M1618.3 449.8h6.6M1618.3 452.1h6.6M1618.3 454.5h6.6M1618.3 455.5h6.6M1618.3 460.8h6.6M1636.1 242.3h6.6M1636.1 330.6H1644.7M1636.1 334.3H1644.7M1636.1 374.4H1644.7M1636.1 411.8H1644.7M1636.1 415.7H1644.7M1636.1 440.5H1644.7M1636.1 448H1644.7M1636.1 487h6.6M1636.1 488.6h6.6M1636.1 489.9h6.6M1636.1 491.6h6.6M1636.1 503.6h6.6M1636.1 508.3h6.6M1636.1 513.4h6.6M1636.1 516.7h6.6M1653.9 254.7H1662.5M1653.9 256.2H1662.5M1653.9 279.9H1662.5M1653.9 316.3H1662.5M1653.9 321.3H1662.5M1653.9 325.8H1662.5M1653.9 369.8H1662.5M1653.9 374.3H1662.5M1653.9 390.6H1662.5M1653.9 395.3H1662.5M1653.9 490.5h6.6M1653.9 501.2h6.6M1653.9 503.9h6.6M1653.9 512.8h6.6M1653.9 514.2h6.6M1653.9 516.9h6.6M1671.7 274.7h6.6M1671.7 274.7h6.6M1671.7 277.4h6.6M1671.7 281.2h6.6M1671.7 282.7h6.6M1671.7 286.7h6.6M1671.7 290.3h6.6M1671.7 316.2H1680.2M1671.7 352.8h6.6M1671.7 358.6h6.6M1671.7 367.7h6.6M1671.7 371.6h6.6M1671.7 373.7h6.6M1671.7 375.6h6.6M1671.7 376.9h6.6M1671.7 377.9h6.6M1671.7 384h6.6M1671.7 385.3h6.6M1671.7 441.8H1680.2M1671.7 444.6H1680.2M1671.7 471.6H1680.2M1671.7 477.1H1680.2M1671.7 486.5H1680.2M1671.7 508.9h6.6M1671.7 513.4h6.6M1671.7 517.5h6.6M1689.5 294.1h6.6M1689.5 300.8h6.6M1689.5 302.8h6.6M1689.5 385.9h6.6M1689.5 390.4h6.6M1689.5 394.2h6.6M1689.5 396h6.6M1689.5 409.7h6.6M1689.5 417.7h6.6M1689.5 418.8h6.6M1689.5 421.2h6.6M1689.5 423h6.6M1689.5 424.6h6.6M1689.5 429.9h6.6M1689.5 430.4h6.6M1689.5 432.9h6.6M1689.5 514.1H1698M1707.3 323.2H1715.9M1707.3 408H1715.9M1707.3 435.3H1715.9M1707.3 439.1H1715.9M1707.3 447.1H1715.9M1707.3 490.3h6.6M1707.3 492h6.6M1707.3 493.9h6.6M1707.3 495.2h6.6M1707.3 496.7h6.6M1707.3 501h6.6M1707.3 511.3h6.6M1707.3 513.7h6.6M1707.3 514.9h6.6M1725.1 312.4h6.6M1725.1 315.2h6.6M1725.1 342H1733.7M1725.1 359.7H1733.7M1725.1 379.2H1733.7M1725.1 423.1H1733.7M1725.1 469.1h6.6M1725.1 471.1h6.6M1725.1 471.9h6.6M1725.1 475.2h6.6M1725.1 480.1h6.6M1725.1 484h6.6M1725.1 488.1h6.6M1725.1 488.9h6.6M1725.1 507h6.6M1725.1 508.7h6.6M1725.1 511.2h6.6M1725.1 516.9h6.6M1742.9 311.9h6.6M1742.9 318.2h6.6M1742.9 384.8H1751.5M1742.9 388.2H1751.5M1742.9 398.2H1751.5M1742.9 411.9h6.6M1742.9 418.1h6.6M1742.9 434h6.6M1742.9 459.2H1751.5M1742.9 464.4H1751.5M1742.9 469.8H1751.5M1742.9 495.6h6.6M1742.9 502.3h6.6M1742.9 511.9h6.6M1760.7 488.7h6.6M1760.7 491h6.6M1760.7 493.4h6.6M1760.7 496.6h6.6M1760.7 502.9h6.6M1760.7 507.5h6.6M1778.5 375.9H1787.1M1778.5 379.3H1787.1M1778.5 415.4h6.6M1778.5 437H1787.1M1778.5 503.7h6.6M1796.3 371.5H1804.9M1796.3 386.2H1804.9M1796.3 397.2H1804.9M1796.3 404.6H1804.9M1796.3 471.8H1804.9M1796.3 503h6.6M1796.3 513.3h6.6M1796.3 515.1h6.6M1796.3 517.1h6.6M1814.1 380h6.6M1814.1 383.9h6.6M1814.1 387.5h6.6M1814.1 389.4h6.6M1814.1 393h6.6M1814.1 395.2h6.6M1814.1 398.7h6.6M1814.1 400.6h6.6M1814.1 416.2h6.6M1814.1 421.9h6.6M1814.1 499.3h6.6M1814.1 503.1h6.6M1814.1 507.3h6.6M1814.1 510h6.6M1814.1 515.5h6.6M1814.1 517.7h6.6M1831.9 380h6.6M1831.9 384.7h6.6M1831.9 386.8h6.6M1831.9 388h6.6M1831.9 393.7h6.6M1831.9 398.9h6.6M1831.9 399.2h6.6M1831.9 416.4h6.6M1831.9 475.8h6.6M1831.9 477.3h6.6M1831.9 482.2h6.6M1831.9 487.1h6.6M1831.9 490.5h6.6M1831.9 493.3h6.6M1831.9 503.6h6.6M1831.9 508.3h6.6M1831.9 511h6.6M1849.7 396.4h6.6M1849.7 403.8h6.6M1849.7 409.7h6.6M1849.7 453.9H1858.2M1849.7 515.4h6.6M1867.5 482.1h6.6M1867.5 486.5h6.6M1867.5 488.2h6.6M1867.5 502.6h6.6M1867.5 506.5h6.6M1867.5 508.4h6.6M1867.5 515.4h6.6M1885.3 453.3h6.6M1885.3 456.3h6.6M1885.3 461h6.6M1885.3 463h6.6M1885.3 468h6.6M1885.3 477.9h6.6M1885.3 479.4h6.6M1885.3 481.7h6.6M1885.3 494.6h6.6M1885.3 497h6.6M1885.3 502h6.6M1885.3 502.6h6.6M1885.3 504.6h6.6M1903.1 420.1H1911.7M1903.1 445.1H1911.7M1903.1 514.6h6.6M1920.9 482.8h6.6M1920.9 489.2h6.6M1920.9 491h6.6M1920.9 493.4h6.6M1920.9 494.6h6.6M1920.9 498.5h6.6M1920.9 500.3h6.6M1920.9 510.3h6.6M1920.9 512.2h6.6M1920.9 515.7h6.6M1938.7 469.7h6.6M1938.7 473.3h6.6M1938.7 478.3h6.6M1938.7 479.8h6.6M1938.7 488.2h6.6M1938.7 492.4h6.6M1938.7 495.3h6.6M1938.7 496.6h6.6M1938.7 498.3h6.6M1938.7 508.8h6.6M1938.7 510.5h6.6M1938.7 514.5h6.6M1938.7 517.5h6.6" stroke="#1B6FB5" stroke-width="0.6" fill="none" opacity="0.9"/>
<path d="M1564.9 145.1h6.6M1564.9 145.4h6.6M1564.9 147.2h6.6M1564.9 148.7h6.6M1564.9 194.2H1573.5M1564.9 198.3H1573.5M1564.9 200.2H1573.5M1564.9 205.9H1573.5M1564.9 212.6H1573.5M1564.9 217.1H1573.5M1564.9 221.7H1573.5M1564.9 317.7H1573.5M1564.9 403.4H1573.5M1564.9 476.1h6.6M1564.9 481.1h6.6M1564.9 486.2h6.6M1564.9 488h6.6M1564.9 496.7h6.6M1564.9 502.9h6.6M1564.9 509.5h6.6M1564.9 513.1h6.6M1564.9 515.6h6.6M1582.7 149.7h6.6M1582.7 153.9h6.6M1582.7 160h6.6M1582.7 214.7H1591.2M1582.7 220.5H1591.2M1582.7 268.1H1591.2M1582.7 272.8H1591.2M1582.7 288.9H1591.2M1582.7 308.1h6.6M1582.7 309.7h6.6M1582.7 312.4h6.6M1582.7 341.7h6.6M1582.7 344.4h6.6M1582.7 348.2h6.6M1582.7 412H1591.2M1582.7 444.4H1591.2M1582.7 488h6.6M1582.7 495.7h6.6M1582.7 503.3h6.6M1582.7 505.2h6.6M1582.7 507.6h6.6M1582.7 509.1h6.6M1582.7 510.1h6.6M1582.7 513.4h6.6M1600.5 217.6H1609M1600.5 221.1H1609M1600.5 225H1609M1600.5 280.3h6.6M1600.5 282.3h6.6M1600.5 284.3h6.6M1600.5 285.5h6.6M1600.5 306.6H1609M1600.5 310.8H1609M1600.5 367.6H1609M1600.5 372.5H1609M1600.5 516.8h6.6M1618.3 224.6h6.6M1618.3 226.8h6.6M1618.3 228.2h6.6M1618.3 232.5h6.6M1618.3 237.7h6.6M1618.3 263.1H1626.9M1618.3 285.9H1626.9M1618.3 358.7H1626.9M1618.3 376.7H1626.9M1618.3 415.7h6.6M1618.3 428.8h6.6M1618.3 430.5h6.6M1618.3 436.5h6.6M1618.3 437.1h6.6M1618.3 439.3h6.6M1618.3 450.6h6.6M1618.3 513h6.6M1618.3 517.7h6.6M1636.1 240.5h6.6M1636.1 323.3H1644.7M1636.1 328H1644.7M1636.1 337.4H1644.7M1636.1 340.3H1644.7M1636.1 350H1644.7M1636.1 353.7H1644.7M1636.1 359.7H1644.7M1636.1 362.3H1644.7M1636.1 388.6H1644.7M1636.1 392.4H1644.7M1636.1 396.7H1644.7M1636.1 406.2H1644.7M1636.1 498.5h6.6M1636.1 500.9h6.6M1636.1 503h6.6M1636.1 512.1h6.6M1636.1 515.9h6.6M1653.9 260.8H1662.5M1653.9 275.4H1662.5M1653.9 298.7H1662.5M1653.9 307.4H1662.5M1653.9 312.7H1662.5M1653.9 330.4H1662.5M1653.9 366.1H1662.5M1653.9 426.6H1662.5M1653.9 430H1662.5M1653.9 439.3H1662.5M1653.9 480.6h6.6M1653.9 483.8h6.6M1653.9 487h6.6M1653.9 488.9h6.6M1653.9 494.5h6.6M1653.9 495.7h6.6M1653.9 505.5h6.6M1653.9 508.8h6.6M1653.9 510.4h6.6M1671.7 284.9h6.6M1671.7 288.5h6.6M1671.7 320.5H1680.2M1671.7 327.7H1680.2M1671.7 354.8h6.6M1671.7 360.3h6.6M1671.7 361.7h6.6M1671.7 365.5h6.6M1671.7 366.6h6.6M1671.7 369.8h6.6M1671.7 381.1h6.6M1671.7 387.1h6.6M1671.7 419.3H1680.2M1671.7 426.9H1680.2M1671.7 430.9H1680.2M1671.7 437.7H1680.2M1671.7 448.9H1680.2M1671.7 507.2h6.6M1671.7 515.3h6.6M1689.5 298.4h6.6M1689.5 327.6H1698M1689.5 398.7h6.6M1689.5 402.7h6.6M1689.5 412.6h6.6M1689.5 413.7h6.6M1689.5 416.3h6.6M1689.5 426.9h6.6M1689.5 434.8h6.6M1689.5 506.8H1698M1689.5 517.3H1698M1707.3 443.6H1715.9M1707.3 498.7h6.6M1707.3 501.9h6.6M1707.3 504.4h6.6M1707.3 505.2h6.6M1707.3 506.7h6.6M1707.3 508.7h6.6M1707.3 511.8h6.6M1707.3 517.4h6.6M1725.1 316.9h6.6M1725.1 365.2H1733.7M1725.1 370.1H1733.7M1725.1 374.2H1733.7M1725.1 379H1733.7M1725.1 384.3H1733.7M1725.1 391H1733.7M1725.1 396.8H1733.7M1725.1 414.2H1733.7M1725.1 418.6H1733.7M1725.1 467.5h6.6M1725.1 473.5h6.6M1725.1 477.4h6.6M1725.1 482.6h6.6M1725.1 486.2h6.6M1725.1 491.1h6.6M1725.1 493.6h6.6M1725.1 494.9h6.6M1725.1 496.8h6.6M1725.1 499.5h6.6M1725.1 501.7h6.6M1725.1 505.6h6.6M1725.1 512.9h6.6M1725.1 514.3h6.6M1742.9 314.3h6.6M1742.9 393.3H1751.5M1742.9 413.1h6.6M1742.9 415.4h6.6M1742.9 428.1h6.6M1742.9 430.7h6.6M1742.9 433.5h6.6M1742.9 453.6H1751.5M1742.9 498h6.6M1742.9 499.8h6.6M1742.9 504h6.6M1742.9 510.7h6.6M1742.9 515.9h6.6M1760.7 318.1H1769.2M1760.7 365.1H1769.2M1760.7 372.1H1769.2M1760.7 498.4h6.6M1760.7 505.3h6.6M1760.7 508.8h6.6M1760.7 510.5h6.6M1760.7 512.5h6.6M1760.7 514.1h6.6M1760.7 517.6h6.6M1778.5 372H1787.1M1778.5 424.4h6.6M1778.5 497.6h6.6M1778.5 500.4h6.6M1778.5 505.1h6.6M1778.5 511.6h6.6M1778.5 514.6h6.6M1778.5 515.3h6.6M1778.5 517h6.6M1796.3 449.8H1804.9M1796.3 505.3h6.6M1796.3 506.9h6.6M1814.1 385.1h6.6M1814.1 402.8h6.6M1814.1 404.1h6.6M1814.1 405.5h6.6M1814.1 409h6.6M1814.1 410.8h6.6M1814.1 413.4h6.6M1814.1 418.4h6.6M1814.1 421.1h6.6M1814.1 424.5h6.6M1814.1 453.4H1822.7M1814.1 467.6H1822.7M1814.1 471H1822.7M1814.1 501.4h6.6M1814.1 504.2h6.6M1814.1 506.1h6.6M1814.1 511.4h6.6M1814.1 513.7h6.6M1831.9 390.4h6.6M1831.9 405.3h6.6M1831.9 406.9h6.6M1831.9 415.4h6.6M1831.9 418.2h6.6M1831.9 420.6h6.6M1831.9 478.5h6.6M1831.9 480.4h6.6M1831.9 485.2h6.6M1831.9 488.3h6.6M1831.9 499.4h6.6M1831.9 500.7h6.6M1831.9 502.2h6.6M1831.9 505.7h6.6M1831.9 508h6.6M1831.9 512h6.6M1831.9 513.4h6.6M1831.9 515.3h6.6M1849.7 393.1h6.6M1849.7 394.7h6.6M1849.7 400.3h6.6M1849.7 402.4h6.6M1849.7 405.5h6.6M1849.7 458.1H1858.2M1867.5 479.5h6.6M1867.5 493.1h6.6M1867.5 500h6.6M1867.5 511.5h6.6M1867.5 514.8h6.6M1867.5 517.6h6.6M1885.3 448.4h6.6M1885.3 449.5h6.6M1885.3 451.1h6.6M1885.3 458h6.6M1885.3 458.9h6.6M1885.3 464.7h6.6M1885.3 466.2h6.6M1885.3 469h6.6M1885.3 475.3h6.6M1885.3 483.2h6.6M1885.3 485.1h6.6M1885.3 488.8h6.6M1885.3 491.1h6.6M1903.1 422.4H1911.7M1903.1 474.1H1911.7M1903.1 478H1911.7M1903.1 513.1h6.6M1920.9 479.3h6.6M1920.9 481.2h6.6M1920.9 484.5h6.6M1920.9 488.6h6.6M1920.9 496.4h6.6M1920.9 503.7h6.6M1920.9 509.1h6.6M1920.9 513.8h6.6M1920.9 516.9h6.6M1938.7 466.4h6.6M1938.7 475.4h6.6M1938.7 476.2h6.6M1938.7 481.7h6.6M1938.7 483.4h6.6M1938.7 486.9h6.6M1938.7 493.6h6.6M1938.7 500.5h6.6M1938.7 511.3h6.6" stroke="#5E8FC9" stroke-width="0.6" fill="none" opacity="0.8"/>
<path d="M1564.9 150.7h6.6M1564.9 154.8h6.6M1564.9 158.6h6.6M1564.9 307H1573.5M1564.9 311.6H1573.5M1564.9 322H1573.5M1564.9 438.2H1573.5M1564.9 448.6H1573.5M1564.9 479.6h6.6M1564.9 482.5h6.6M1564.9 488.6h6.6M1564.9 494.3h6.6M1564.9 500.1h6.6M1564.9 500.6h6.6M1564.9 504.6h6.6M1564.9 511.6h6.6M1582.7 147.6h6.6M1582.7 158.8h6.6M1582.7 192.9H1591.2M1582.7 198.4H1591.2M1582.7 204.2H1591.2M1582.7 209.8H1591.2M1582.7 231.1H1591.2M1582.7 314.2h6.6M1582.7 316.3h6.6M1582.7 340.3h6.6M1582.7 346.2h6.6M1582.7 350.5h6.6M1582.7 380.2H1591.2M1582.7 486.7h6.6M1582.7 491.4h6.6M1582.7 498.3h6.6M1582.7 502.1h6.6M1582.7 516h6.6M1600.5 232.6H1609M1600.5 238H1609M1600.5 246.9H1609M1600.5 272.4h6.6M1600.5 276.2h6.6M1600.5 327.5H1609M1600.5 360.4H1609M1600.5 364.4H1609M1600.5 512.1h6.6M1600.5 514.9h6.6M1618.3 231.1h6.6M1618.3 236.4h6.6M1618.3 242.1h6.6M1618.3 306.6H1626.9M1618.3 372.1H1626.9M1618.3 411.9h6.6M1618.3 418.3h6.6M1618.3 421.5h6.6M1618.3 424.3h6.6M1618.3 434.1h6.6M1618.3 440.5h6.6M1618.3 442.4h6.6M1618.3 446.5h6.6M1618.3 457.9h6.6M1618.3 459.7h6.6M1618.3 509h6.6M1618.3 510.9h6.6M1618.3 515.5h6.6M1636.1 238.3h6.6M1636.1 244.6h6.6M1636.1 322.1H1644.7M1636.1 344.1H1644.7M1636.1 346.8H1644.7M1636.1 355.9H1644.7M1636.1 379.1H1644.7M1636.1 402.5H1644.7M1636.1 420.6H1644.7M1636.1 455.2H1644.7M1636.1 484.6h6.6M1636.1 493.2h6.6M1636.1 495.4h6.6M1636.1 496.5h6.6M1636.1 504.4h6.6M1636.1 507h6.6M1636.1 509.8h6.6M1653.9 265.9H1662.5M1653.9 271H1662.5M1653.9 284.7H1662.5M1653.9 288H1662.5M1653.9 293.7H1662.5M1653.9 302.6H1662.5M1653.9 342H1662.5M1653.9 422.8H1662.5M1653.9 478.4h6.6M1653.9 482.2h6.6M1653.9 485.1h6.6M1653.9 492.6h6.6M1653.9 497.3h6.6M1653.9 498.3h6.6M1653.9 502.7h6.6M1653.9 507.6h6.6M1653.9 516.1h6.6M1671.7 273.2h6.6M1671.7 279.3h6.6M1671.7 291.6h6.6M1671.7 294.6h6.6M1671.7 295h6.6M1671.7 324.7H1680.2M1671.7 352h6.6M1671.7 356.9h6.6M1671.7 363.3h6.6M1671.7 380.2h6.6M1671.7 416.8H1680.2M1671.7 423.3H1680.2M1671.7 433.9H1680.2M1671.7 480.8H1680.2M1671.7 505.8h6.6M1671.7 511h6.6M1689.5 296.6h6.6M1689.5 384.4h6.6M1689.5 387.1h6.6M1689.5 388.2h6.6M1689.5 392h6.6M1689.5 396.9h6.6M1689.5 401h6.6M1689.5 405.1h6.6M1689.5 406.7h6.6M1689.5 407.6h6.6M1689.5 411.6h6.6M1689.5 427.9h6.6M1689.5 509.4H1698M1689.5 517.3H1698M1689.5 517.3H1698M1707.3 311.7H1715.9M1707.3 317.3H1715.9M1707.3 415H1715.9M1707.3 427.6H1715.9M1707.3 431.7H1715.9M1707.3 451.6H1715.9M1707.3 455.3H1715.9M1707.3 486.3h6.6M1707.3 488.3h6.6M1725.1 320.7h6.6M1725.1 428.3H1733.7M1725.1 478.5h6.6M1725.1 492.2h6.6M1725.1 499.9h6.6M1725.1 503.2h6.6M1725.1 515.3h6.6M1742.9 310.5h6.6M1742.9 315.8h6.6M1742.9 320.6h6.6M1742.9 322.2h6.6M1742.9 366.3H1751.5M1742.9 380.1H1751.5M1742.9 416.9h6.6M1742.9 420.5h6.6M1742.9 422.5h6.6M1742.9 423.8h6.6M1742.9 425.5h6.6M1742.9 429h6.6M1742.9 500.6h6.6M1742.9 506.1h6.6M1742.9 508.4h6.6M1742.9 513.8h6.6M1742.9 517.5h6.6M1760.7 313.1H1769.2M1760.7 333.4H1769.2M1760.7 486h6.6M1760.7 489.8h6.6M1760.7 494.7h6.6M1760.7 500.1h6.6M1760.7 502.5h6.6M1760.7 515.6h6.6M1778.5 383.1H1787.1M1778.5 405.7H1787.1M1778.5 417.3h6.6M1778.5 420.2h6.6M1778.5 421.6h6.6M1778.5 432.4H1787.1M1778.5 501.1h6.6M1778.5 506.9h6.6M1778.5 508.3h6.6M1778.5 510.5h6.6M1796.3 374.9H1804.9M1796.3 377.8H1804.9M1796.3 382.2H1804.9M1796.3 390.3H1804.9M1796.3 395.4H1804.9M1796.3 411.5H1804.9M1796.3 455.6H1804.9M1796.3 509.5h6.6M1796.3 511.6h6.6M1814.1 382h6.6M1814.1 390.5h6.6M1814.1 391.9h6.6M1814.1 397.6h6.6M1814.1 407.3h6.6M1814.1 411.7h6.6M1814.1 417.9h6.6M1814.1 426.3h6.6M1814.1 427.6h6.6M1814.1 457.4H1822.7M1814.1 462.2H1822.7M1831.9 381.7h6.6M1831.9 383.7h6.6M1831.9 391.6h6.6M1831.9 395.3h6.6M1831.9 396.1h6.6M1831.9 401.2h6.6M1831.9 403h6.6M1831.9 408h6.6M1831.9 410.9h6.6M1831.9 411.5h6.6M1831.9 413.9h6.6M1831.9 483.1h6.6M1831.9 492.1h6.6M1831.9 494.6h6.6M1831.9 497.7h6.6M1831.9 517.5h6.6M1849.7 391.1h6.6M1849.7 398.5h6.6M1849.7 408.1h6.6M1849.7 441.7H1858.2M1849.7 445.6H1858.2M1849.7 450H1858.2M1849.7 461.8H1858.2M1849.7 508h6.6M1849.7 510.6h6.6M1849.7 512.4h6.6M1849.7 517.1h6.6M1867.5 415H1876.1M1867.5 477.5h6.6M1867.5 481.3h6.6M1867.5 485h6.6M1867.5 489.3h6.6M1867.5 491.3h6.6M1867.5 494.5h6.6M1867.5 497h6.6M1867.5 498h6.6M1867.5 501.5h6.6M1867.5 505.2h6.6M1867.5 510.4h6.6M1885.3 447.2h6.6M1885.3 454.4h6.6M1885.3 471.9h6.6M1885.3 472.8h6.6M1885.3 476.2h6.6M1885.3 487.2h6.6M1885.3 490.2h6.6M1885.3 493.5h6.6M1885.3 497.9h6.6M1885.3 500h6.6M1885.3 507.3h6.6M1903.1 462.5H1911.7M1903.1 508.1h6.6M1903.1 510.2h6.6M1903.1 517.4h6.6M1920.9 486h6.6M1920.9 501.6h6.6M1920.9 504.7h6.6M1920.9 507.2h6.6M1938.7 468.6h6.6M1938.7 471.2h6.6M1938.7 485.3h6.6M1938.7 490h6.6M1938.7 501.9h6.6M1938.7 503.7h6.6M1938.7 505.6h6.6M1938.7 507.3h6.6M1938.7 515.2h6.6" stroke="#A9C3DF" stroke-width="0.6" fill="none" opacity="0.9"/>
<path d="M1564.9 194.8H1573.5M1564.9 252.7H1573.5M1564.9 268.2H1573.5M1564.9 287H1573.5M1564.9 355.9H1573.5M1564.9 370h6.6M1564.9 390.5h6.6M1564.9 411.3h6.6M1564.9 413.3h6.6M1564.9 415.6h6.6M1582.7 181.5H1591.2M1582.7 191.7H1591.2M1582.7 213.8H1591.2M1582.7 224.2H1591.2M1582.7 257.3H1591.2M1582.7 277h6.6M1582.7 278.9h6.6M1600.5 374.9H1609M1600.5 386.5H1609M1600.5 431.6h6.6M1600.5 433.7h6.6M1600.5 437.1h6.6M1600.5 438.3h6.6M1600.5 442.9h6.6M1600.5 443.7h6.6M1600.5 445.5h6.6M1600.5 447h6.6M1600.5 449.5h6.6M1600.5 451.9h6.6M1600.5 453.1h6.6M1600.5 459.8h6.6M1600.5 462h6.6M1600.5 465.6h6.6M1600.5 466.7h6.6M1600.5 468.7h6.6M1600.5 472h6.6M1600.5 473.4h6.6M1600.5 474.8h6.6M1600.5 479.9h6.6M1600.5 485.3h6.6M1600.5 490.9h6.6M1636.1 245.2h6.6M1636.1 247.7h6.6M1636.1 249.9h6.6M1636.1 269.1h6.6M1636.1 271.8h6.6M1636.1 272.8h6.6M1636.1 283h6.6M1636.1 300.5h6.6M1636.1 306.1h6.6M1636.1 307.6h6.6M1636.1 311.1h6.6M1636.1 313.9h6.6M1653.9 257.3H1662.5M1653.9 295.1H1662.5M1653.9 307.2H1662.5M1653.9 286.8h6.6M1689.5 399.5H1698M1689.5 459.7H1698M1689.5 490.3H1698M1689.5 517.3H1698M1707.3 315.8h6.6M1707.3 317.8h6.6M1707.3 320.8h6.6M1707.3 344.3H1715.9M1707.3 416.1H1715.9M1707.3 480.4H1715.9M1707.3 354.9h6.6M1707.3 356.8h6.6M1707.3 363.6h6.6M1742.9 436.5H1751.5M1760.7 410.8H1769.2M1760.7 466H1769.2M1760.7 475.3H1769.2M1796.3 415.4h6.6M1796.3 439.6H1804.9M1796.3 515.8H1804.9M1796.3 461.1h6.6M1796.3 462.3h6.6M1814.1 473.4H1822.7M1831.9 379.8H1840.5M1831.9 402.2H1840.5M1831.9 419.6H1840.5M1849.7 437.7h6.6M1849.7 471.8H1858.2M1849.7 478.7H1858.2M1867.5 400.9h6.6M1867.5 408.7H1876.1M1867.5 441.2H1876.1M1885.3 447.4H1893.9M1885.3 515.8H1893.9M1903.1 432.8H1911.7M1903.1 468.3H1911.7M1903.1 451.2h6.6M1903.1 453.1h6.6M1903.1 488.6h6.6M1920.9 475.3H1929.5" stroke="#C9102D" stroke-width="0.6" fill="none" opacity="0.85"/>
<path d="M1564.9 181.4h6.6M1564.9 183h6.6M1564.9 184.2h6.6M1564.9 366.3h6.6M1564.9 368.3h6.6M1564.9 384.1h6.6M1564.9 386.7h6.6M1564.9 389.1h6.6M1564.9 408.7h6.6M1582.7 281.2h6.6M1600.5 435.2h6.6M1600.5 440.3h6.6M1600.5 450.5h6.6M1600.5 455.9h6.6M1600.5 457.2h6.6M1600.5 458.5h6.6M1600.5 463.7h6.6M1600.5 470h6.6M1600.5 477.4h6.6M1600.5 478.2h6.6M1600.5 482.1h6.6M1600.5 483.4h6.6M1600.5 487.1h6.6M1600.5 488.4h6.6M1600.5 489.9h6.6M1600.5 493.8h6.6M1600.5 494.4h6.6M1600.5 496.4h6.6M1636.1 280h6.6M1636.1 282.3h6.6M1636.1 302.4h6.6M1636.1 304.1h6.6M1636.1 309.7h6.6M1653.9 283.7h6.6M1653.9 284.7h6.6M1707.3 308.6h6.6M1707.3 309.8h6.6M1707.3 311.1h6.6M1707.3 313.9h6.6M1707.3 320h6.6M1707.3 323.2h6.6M1707.3 359.1h6.6M1707.3 361.2h6.6M1760.7 447.6h6.6M1760.7 449.7h6.6M1760.7 449.8h6.6M1796.3 418.3h6.6M1796.3 419.6h6.6M1796.3 465.5h6.6M1849.7 431.1h6.6M1849.7 433.8h6.6M1849.7 436.2h6.6M1849.7 493.3h6.6M1849.7 494.8h6.6M1849.7 496.7h6.6M1867.5 397.2h6.6M1867.5 398.9h6.6M1903.1 456h6.6M1903.1 489.9h6.6M1903.1 492.6h6.6" stroke="#E08A8A" stroke-width="0.6" fill="none" opacity="0.9"/>
<path d="M1571.7 133.2L1575 98.8V176.4L1571.7 158ZM1571.7 476.1L1575 459.6V531.5L1571.7 515ZM1589.5 143.7L1592.8 117.1V177.2L1589.5 162.9ZM1589.5 306.3L1592.8 302.1V320.4L1589.5 316.2ZM1589.5 340.2L1592.8 335.8V355.1L1589.5 350.7ZM1589.5 482.8L1592.8 463.6V545.6L1589.5 517.3ZM1607.3 272.4L1610.5 266.5V292.2L1607.3 286.3ZM1607.3 510.8L1610.5 519V535.8L1607.3 517.3ZM1625.1 225.2L1628.4 218V249.1L1625.1 242ZM1625.1 411.8L1628.4 390.9V482L1625.1 461.1ZM1625.1 508.9L1628.4 499V539.7L1625.1 517.3ZM1642.9 238L1646.2 225.9V242.6L1642.9 244.5ZM1642.9 484.8L1646.2 466.8V543.6L1642.9 517.3ZM1660.7 478.7L1664 455.1V555.5L1660.7 517.3ZM1678.5 272.5L1681.8 255.7V307.4L1678.5 295.3ZM1678.5 351.5L1681.8 336.5V401.9L1678.5 386.9ZM1678.5 505.4L1681.8 494.6V539.7L1678.5 517.3ZM1696.3 294.6L1699.5 284.6V308.5L1696.3 302.8ZM1696.3 383.7L1699.5 362V456.4L1696.3 434.7ZM1714.1 486.9L1717.4 464.2V559.4L1714.1 517.3ZM1731.9 312.3L1735.2 305V324.9L1731.9 320.2ZM1731.9 467.1L1735.2 439.6V557.4L1731.9 517.3ZM1749.7 310.2L1753 288.9V333.1L1749.7 322.5ZM1749.7 411.5L1753 401.7V444.5L1749.7 434.7ZM1749.7 495.5L1753 483.2V535.8L1749.7 517.3ZM1767.5 486.3L1770.8 464.1V557.4L1767.5 517.3ZM1785.3 415.6L1788.6 412.1V427.1L1785.3 423.7ZM1785.3 497.9L1788.6 477.7V561.4L1785.3 517.3ZM1803.1 503.4L1806.4 493.3V535.8L1803.1 517.3ZM1820.9 380.5L1824.2 360.6V447.4L1820.9 427.4ZM1820.9 499L1824.2 483.8V547.6L1820.9 517.3ZM1838.7 379.8L1842 359.5V438.4L1838.7 420.2ZM1838.7 475.3L1842 452.6V549.5L1838.7 517.3ZM1856.5 390.8L1859.8 361.1V425L1856.5 409.8ZM1856.5 507.7L1859.8 500.8V529.8L1856.5 517.3ZM1874.3 477.6L1877.6 452.9V557.4L1874.3 517.3ZM1892.1 446.3L1895.4 420.7V532.2L1892.1 506.6ZM1909.9 507.7L1913.2 498.8V535.8L1909.9 517.3ZM1927.7 479.3L1931 454.2V560.4L1927.7 517.3ZM1945.5 466.6L1948.8 443.4V543.6L1945.5 517.3Z" fill="#1B6FB5" opacity="0.7"/>
<path d="M1571.7 181.1L1575 179.9V185.3L1571.7 184ZM1571.7 366.7L1575 365V372.3L1571.7 370.6ZM1571.7 384.3L1575 381.4V394.1L1571.7 391.2ZM1571.7 408.7L1575 405.8V418.4L1571.7 415.5ZM1589.5 277.5L1592.8 276.1V281.9L1589.5 280.6ZM1607.3 432.1L1610.5 404.7V523.8L1607.3 496.4ZM1642.9 244.9L1646.2 242.7V252.3L1642.9 250.1ZM1642.9 269.5L1646.2 268V274.5L1642.9 273ZM1642.9 280.5L1646.2 279.5V283.8L1642.9 282.8ZM1642.9 299.9L1646.2 294.3V318.9L1642.9 313.3ZM1660.7 283.4L1664 281.9V288.4L1660.7 286.9ZM1714.1 308.6L1717.4 302.5V329.3L1714.1 323.1ZM1714.1 355.3L1717.4 351.8V366.9L1714.1 363.4ZM1767.5 447.8L1770.8 446.5V452.3L1767.5 451ZM1803.1 415L1806.4 412.6V423.1L1803.1 420.7ZM1803.1 461.5L1806.4 460V466.4L1803.1 464.9ZM1856.5 431.2L1859.8 428.3V441.1L1856.5 438.2ZM1856.5 493.6L1859.8 492.4V497.5L1856.5 496.4ZM1874.3 396.8L1877.6 395.1V402.4L1874.3 400.7ZM1909.9 450.7L1913.2 448.5V458L1909.9 455.8ZM1909.9 488.4L1913.2 486.7V494L1909.9 492.3Z" fill="#C9102D" opacity="0.8"/>
<path d="M1575 92.8V179.7M1575 456.7V534.4M1592.8 112.5V179.7M1592.8 301.4V321.1M1592.8 335V355.9M1592.8 460.2V550.6M1610.5 265.5V293.3M1610.5 520.5V539M1628.4 216.8V250.4M1628.4 387.2V485.7M1628.4 497.3V543.6M1646.2 223.7V242.3M1646.2 463.7V548.3M1664 450.9V562.2M1681.8 252.7V309.5M1681.8 333.8V404.6M1681.8 492.6V543.6M1699.5 282.8V309.5M1699.5 358.2V460.2M1717.4 460.2V566.8M1735.2 303.7V325.7M1735.2 434.7V564.5M1753 285.2V335M1753 399.9V446.3M1753 481.1V539M1770.8 460.2V564.5M1788.6 411.5V427.7M1788.6 474.1V569.2M1806.4 491.5V539M1824.2 357V450.9M1824.2 481.1V552.9M1842 355.9V441.6M1842 448.6V555.2M1859.8 355.9V427.7M1859.8 499.6V532.1M1877.6 448.6V564.5M1895.4 416.1V536.7M1913.2 497.3V539M1931 449.8V568M1948.8 439.3V548.3" stroke="#1B6FB5" stroke-width="3.3" fill="none"/>
<path d="M1575 90.9l1.9 3.7h-3.7zM1575 177.8l1.9 3.7h-3.7zM1575 189.2l1.9 3.7h-3.7zM1575 192.3l1.9 3.7h-3.7zM1575 196.4l1.9 3.7h-3.7zM1575 198.3l1.9 3.7h-3.7zM1575 202l1.9 3.7h-3.7zM1575 204.1l1.9 3.7h-3.7zM1575 210.7l1.9 3.7h-3.7zM1575 215.2l1.9 3.7h-3.7zM1575 219.9l1.9 3.7h-3.7zM1575 299.3l1.9 3.7h-3.7zM1575 305.1l1.9 3.7h-3.7zM1575 309.7l1.9 3.7h-3.7zM1575 315.8l1.9 3.7h-3.7zM1575 320.2l1.9 3.7h-3.7zM1575 401.5l1.9 3.7h-3.7zM1575 436.3l1.9 3.7h-3.7zM1575 446.8l1.9 3.7h-3.7zM1575 454.9l1.9 3.7h-3.7zM1575 532.5l1.9 3.7h-3.7zM1592.8 110.6l1.9 3.7h-3.7zM1592.8 177.8l1.9 3.7h-3.7zM1592.8 191.1l1.9 3.7h-3.7zM1592.8 196.6l1.9 3.7h-3.7zM1592.8 202.4l1.9 3.7h-3.7zM1592.8 208l1.9 3.7h-3.7zM1592.8 212.8l1.9 3.7h-3.7zM1592.8 218.6l1.9 3.7h-3.7zM1592.8 224.4l1.9 3.7h-3.7zM1592.8 229.2l1.9 3.7h-3.7zM1592.8 266.3l1.9 3.7h-3.7zM1592.8 270.9l1.9 3.7h-3.7zM1592.8 276.6l1.9 3.7h-3.7zM1592.8 281.1l1.9 3.7h-3.7zM1592.8 287l1.9 3.7h-3.7zM1592.8 299.5l1.9 3.7h-3.7zM1592.8 319.2l1.9 3.7h-3.7zM1592.8 333.2l1.9 3.7h-3.7zM1592.8 354l1.9 3.7h-3.7zM1592.8 378.4l1.9 3.7h-3.7zM1592.8 402.7l1.9 3.7h-3.7zM1592.8 410.1l1.9 3.7h-3.7zM1592.8 431.6l1.9 3.7h-3.7zM1592.8 437l1.9 3.7h-3.7zM1592.8 442.6l1.9 3.7h-3.7zM1592.8 447.2l1.9 3.7h-3.7zM1592.8 458.3l1.9 3.7h-3.7zM1592.8 548.8l1.9 3.7h-3.7zM1610.5 215.7l1.9 3.7h-3.7zM1610.5 219.2l1.9 3.7h-3.7zM1610.5 223.1l1.9 3.7h-3.7zM1610.5 226.6l1.9 3.7h-3.7zM1610.5 230.7l1.9 3.7h-3.7zM1610.5 236.1l1.9 3.7h-3.7zM1610.5 245.1l1.9 3.7h-3.7zM1610.5 253.6l1.9 3.7h-3.7zM1610.5 263.6l1.9 3.7h-3.7zM1610.5 291.4l1.9 3.7h-3.7zM1610.5 297.8l1.9 3.7h-3.7zM1610.5 304.7l1.9 3.7h-3.7zM1610.5 309l1.9 3.7h-3.7zM1610.5 321.6l1.9 3.7h-3.7zM1610.5 325.7l1.9 3.7h-3.7zM1610.5 331.1l1.9 3.7h-3.7zM1610.5 334.6l1.9 3.7h-3.7zM1610.5 358.5l1.9 3.7h-3.7zM1610.5 362.6l1.9 3.7h-3.7zM1610.5 365.8l1.9 3.7h-3.7zM1610.5 370.6l1.9 3.7h-3.7zM1610.5 518.6l1.9 3.7h-3.7zM1610.5 537.2l1.9 3.7h-3.7zM1628.4 214.9l1.9 3.7h-3.7zM1628.4 248.5l1.9 3.7h-3.7zM1628.4 261.3l1.9 3.7h-3.7zM1628.4 284l1.9 3.7h-3.7zM1628.4 294.7l1.9 3.7h-3.7zM1628.4 299.7l1.9 3.7h-3.7zM1628.4 304.8l1.9 3.7h-3.7zM1628.4 309.2l1.9 3.7h-3.7zM1628.4 335.2l1.9 3.7h-3.7zM1628.4 340.2l1.9 3.7h-3.7zM1628.4 346.2l1.9 3.7h-3.7zM1628.4 352.6l1.9 3.7h-3.7zM1628.4 356.8l1.9 3.7h-3.7zM1628.4 370.2l1.9 3.7h-3.7zM1628.4 374.9l1.9 3.7h-3.7zM1628.4 385.3l1.9 3.7h-3.7zM1628.4 483.8l1.9 3.7h-3.7zM1628.4 495.4l1.9 3.7h-3.7zM1628.4 541.8l1.9 3.7h-3.7zM1646.2 221.9l1.9 3.7h-3.7zM1646.2 240.4l1.9 3.7h-3.7zM1646.2 320.3l1.9 3.7h-3.7zM1646.2 321.4l1.9 3.7h-3.7zM1646.2 326.2l1.9 3.7h-3.7zM1646.2 328.7l1.9 3.7h-3.7zM1646.2 332.5l1.9 3.7h-3.7zM1646.2 335.6l1.9 3.7h-3.7zM1646.2 338.4l1.9 3.7h-3.7zM1646.2 342.2l1.9 3.7h-3.7zM1646.2 345l1.9 3.7h-3.7zM1646.2 348.2l1.9 3.7h-3.7zM1646.2 351.9l1.9 3.7h-3.7zM1646.2 354l1.9 3.7h-3.7zM1646.2 357.8l1.9 3.7h-3.7zM1646.2 360.4l1.9 3.7h-3.7zM1646.2 372.6l1.9 3.7h-3.7zM1646.2 377.2l1.9 3.7h-3.7zM1646.2 386.7l1.9 3.7h-3.7zM1646.2 390.6l1.9 3.7h-3.7zM1646.2 394.9l1.9 3.7h-3.7zM1646.2 400.7l1.9 3.7h-3.7zM1646.2 404.4l1.9 3.7h-3.7zM1646.2 410l1.9 3.7h-3.7zM1646.2 413.9l1.9 3.7h-3.7zM1646.2 418.7l1.9 3.7h-3.7zM1646.2 438.6l1.9 3.7h-3.7zM1646.2 446.2l1.9 3.7h-3.7zM1646.2 453.3l1.9 3.7h-3.7zM1646.2 461.8l1.9 3.7h-3.7zM1646.2 546.4l1.9 3.7h-3.7zM1664 249.7l1.9 3.7h-3.7zM1664 254.3l1.9 3.7h-3.7zM1664 258.9l1.9 3.7h-3.7zM1664 264l1.9 3.7h-3.7zM1664 269.1l1.9 3.7h-3.7zM1664 273.6l1.9 3.7h-3.7zM1664 278.1l1.9 3.7h-3.7zM1664 282.8l1.9 3.7h-3.7zM1664 286.2l1.9 3.7h-3.7zM1664 291.9l1.9 3.7h-3.7zM1664 296.9l1.9 3.7h-3.7zM1664 300.7l1.9 3.7h-3.7zM1664 305.5l1.9 3.7h-3.7zM1664 310.8l1.9 3.7h-3.7zM1664 314.5l1.9 3.7h-3.7zM1664 319.4l1.9 3.7h-3.7zM1664 324l1.9 3.7h-3.7zM1664 328.5l1.9 3.7h-3.7zM1664 340.1l1.9 3.7h-3.7zM1664 364.3l1.9 3.7h-3.7zM1664 367.9l1.9 3.7h-3.7zM1664 372.5l1.9 3.7h-3.7zM1664 388.8l1.9 3.7h-3.7zM1664 393.4l1.9 3.7h-3.7zM1664 420.9l1.9 3.7h-3.7zM1664 424.7l1.9 3.7h-3.7zM1664 428.2l1.9 3.7h-3.7zM1664 437.5l1.9 3.7h-3.7zM1664 449.1l1.9 3.7h-3.7zM1664 560.3l1.9 3.7h-3.7zM1681.8 250.9l1.9 3.7h-3.7zM1681.8 307.7l1.9 3.7h-3.7zM1681.8 314.4l1.9 3.7h-3.7zM1681.8 318.7l1.9 3.7h-3.7zM1681.8 322.9l1.9 3.7h-3.7zM1681.8 325.8l1.9 3.7h-3.7zM1681.8 332l1.9 3.7h-3.7zM1681.8 402.7l1.9 3.7h-3.7zM1681.8 414.9l1.9 3.7h-3.7zM1681.8 417.5l1.9 3.7h-3.7zM1681.8 421.4l1.9 3.7h-3.7zM1681.8 425l1.9 3.7h-3.7zM1681.8 429.1l1.9 3.7h-3.7zM1681.8 432l1.9 3.7h-3.7zM1681.8 435.9l1.9 3.7h-3.7zM1681.8 440l1.9 3.7h-3.7zM1681.8 442.7l1.9 3.7h-3.7zM1681.8 447l1.9 3.7h-3.7zM1681.8 469.8l1.9 3.7h-3.7zM1681.8 475.3l1.9 3.7h-3.7zM1681.8 478.9l1.9 3.7h-3.7zM1681.8 484.6l1.9 3.7h-3.7zM1681.8 490.8l1.9 3.7h-3.7zM1681.8 541.8l1.9 3.7h-3.7zM1699.5 281l1.9 3.7h-3.7zM1699.5 307.7l1.9 3.7h-3.7zM1699.5 325.7l1.9 3.7h-3.7zM1699.5 356.3l1.9 3.7h-3.7zM1699.5 458.3l1.9 3.7h-3.7zM1699.5 504.9l1.9 3.7h-3.7zM1699.5 507.5l1.9 3.7h-3.7zM1699.5 512.2l1.9 3.7h-3.7zM1699.5 515.9l1.9 3.7h-3.7zM1699.5 518.7l1.9 3.7h-3.7zM1699.5 523.5l1.9 3.7h-3.7zM1717.4 309.8l1.9 3.7h-3.7zM1717.4 315.5l1.9 3.7h-3.7zM1717.4 321.4l1.9 3.7h-3.7zM1717.4 406.2l1.9 3.7h-3.7zM1717.4 413.1l1.9 3.7h-3.7zM1717.4 425.8l1.9 3.7h-3.7zM1717.4 429.8l1.9 3.7h-3.7zM1717.4 433.4l1.9 3.7h-3.7zM1717.4 437.3l1.9 3.7h-3.7zM1717.4 441.8l1.9 3.7h-3.7zM1717.4 445.2l1.9 3.7h-3.7zM1717.4 449.7l1.9 3.7h-3.7zM1717.4 453.5l1.9 3.7h-3.7zM1717.4 458.3l1.9 3.7h-3.7zM1717.4 565l1.9 3.7h-3.7zM1735.2 301.9l1.9 3.7h-3.7zM1735.2 323.9l1.9 3.7h-3.7zM1735.2 340.1l1.9 3.7h-3.7zM1735.2 357.9l1.9 3.7h-3.7zM1735.2 363.3l1.9 3.7h-3.7zM1735.2 368.2l1.9 3.7h-3.7zM1735.2 372.3l1.9 3.7h-3.7zM1735.2 377.3l1.9 3.7h-3.7zM1735.2 377.2l1.9 3.7h-3.7zM1735.2 382.5l1.9 3.7h-3.7zM1735.2 389.2l1.9 3.7h-3.7zM1735.2 394.9l1.9 3.7h-3.7zM1735.2 412.3l1.9 3.7h-3.7zM1735.2 416.7l1.9 3.7h-3.7zM1735.2 421.3l1.9 3.7h-3.7zM1735.2 426.5l1.9 3.7h-3.7zM1735.2 432.8l1.9 3.7h-3.7zM1735.2 562.7l1.9 3.7h-3.7zM1753 283.3l1.9 3.7h-3.7zM1753 333.2l1.9 3.7h-3.7zM1753 364.5l1.9 3.7h-3.7zM1753 378.2l1.9 3.7h-3.7zM1753 383l1.9 3.7h-3.7zM1753 386.4l1.9 3.7h-3.7zM1753 391.5l1.9 3.7h-3.7zM1753 396.3l1.9 3.7h-3.7zM1753 398.1l1.9 3.7h-3.7zM1753 444.4l1.9 3.7h-3.7zM1753 451.7l1.9 3.7h-3.7zM1753 457.4l1.9 3.7h-3.7zM1753 462.6l1.9 3.7h-3.7zM1753 468l1.9 3.7h-3.7zM1753 479.2l1.9 3.7h-3.7zM1753 537.2l1.9 3.7h-3.7zM1770.8 310l1.9 3.7h-3.7zM1770.8 316.2l1.9 3.7h-3.7zM1770.8 331.5l1.9 3.7h-3.7zM1770.8 363.3l1.9 3.7h-3.7zM1770.8 370.2l1.9 3.7h-3.7zM1770.8 458.3l1.9 3.7h-3.7zM1770.8 562.7l1.9 3.7h-3.7zM1788.6 370.1l1.9 3.7h-3.7zM1788.6 374l1.9 3.7h-3.7zM1788.6 377.5l1.9 3.7h-3.7zM1788.6 381.2l1.9 3.7h-3.7zM1788.6 403.9l1.9 3.7h-3.7zM1788.6 409.7l1.9 3.7h-3.7zM1788.6 425.9l1.9 3.7h-3.7zM1788.6 430.5l1.9 3.7h-3.7zM1788.6 435.2l1.9 3.7h-3.7zM1788.6 472.3l1.9 3.7h-3.7zM1788.6 567.3l1.9 3.7h-3.7zM1806.4 369.6l1.9 3.7h-3.7zM1806.4 373.1l1.9 3.7h-3.7zM1806.4 376l1.9 3.7h-3.7zM1806.4 380.4l1.9 3.7h-3.7zM1806.4 384.4l1.9 3.7h-3.7zM1806.4 388.4l1.9 3.7h-3.7zM1806.4 393.5l1.9 3.7h-3.7zM1806.4 395.3l1.9 3.7h-3.7zM1806.4 402.7l1.9 3.7h-3.7zM1806.4 409.7l1.9 3.7h-3.7zM1806.4 447.9l1.9 3.7h-3.7zM1806.4 453.7l1.9 3.7h-3.7zM1806.4 469.9l1.9 3.7h-3.7zM1806.4 489.6l1.9 3.7h-3.7zM1806.4 537.2l1.9 3.7h-3.7zM1824.2 355.2l1.9 3.7h-3.7zM1824.2 449.1l1.9 3.7h-3.7zM1824.2 451.6l1.9 3.7h-3.7zM1824.2 455.6l1.9 3.7h-3.7zM1824.2 460.3l1.9 3.7h-3.7zM1824.2 465.7l1.9 3.7h-3.7zM1824.2 469.2l1.9 3.7h-3.7zM1824.2 479.2l1.9 3.7h-3.7zM1824.2 551.1l1.9 3.7h-3.7zM1842 354l1.9 3.7h-3.7zM1842 439.8l1.9 3.7h-3.7zM1842 446.8l1.9 3.7h-3.7zM1842 553.4l1.9 3.7h-3.7zM1859.8 354l1.9 3.7h-3.7zM1859.8 425.9l1.9 3.7h-3.7zM1859.8 439.9l1.9 3.7h-3.7zM1859.8 443.8l1.9 3.7h-3.7zM1859.8 448.1l1.9 3.7h-3.7zM1859.8 452.1l1.9 3.7h-3.7zM1859.8 456.2l1.9 3.7h-3.7zM1859.8 459.9l1.9 3.7h-3.7zM1859.8 497.8l1.9 3.7h-3.7zM1859.8 530.2l1.9 3.7h-3.7zM1877.6 413.1l1.9 3.7h-3.7zM1877.6 446.8l1.9 3.7h-3.7zM1877.6 562.7l1.9 3.7h-3.7zM1895.4 414.3l1.9 3.7h-3.7zM1895.4 534.8l1.9 3.7h-3.7zM1913.2 415.5l1.9 3.7h-3.7zM1913.2 420.6l1.9 3.7h-3.7zM1913.2 443.3l1.9 3.7h-3.7zM1913.2 460.7l1.9 3.7h-3.7zM1913.2 472.3l1.9 3.7h-3.7zM1913.2 476.2l1.9 3.7h-3.7zM1913.2 495.4l1.9 3.7h-3.7zM1913.2 537.2l1.9 3.7h-3.7zM1931 447.9l1.9 3.7h-3.7zM1931 566.1l1.9 3.7h-3.7zM1948.8 437.5l1.9 3.7h-3.7zM1948.8 546.4l1.9 3.7h-3.7z" fill="#1B6FB5"/>
<path d="M1575 179.7V185.5M1575 364.7V372.6M1575 380.9V394.6M1575 405.3V418.9M1592.8 275.9V282.2M1610.5 399.9V528.6M1646.2 242.3V252.7M1646.2 267.8V274.7M1646.2 279.4V284M1646.2 293.3V319.9M1664 281.7V288.6M1717.4 301.4V330.4M1717.4 351.2V367.5M1770.8 446.3V452.5M1806.4 412.2V423.6M1806.4 459.7V466.7M1859.8 427.7V441.6M1859.8 492.2V497.7M1877.6 394.8V402.7M1913.2 448.1V458.3M1913.2 486.4V494.3" stroke="#C9102D" stroke-width="3.8" fill="none"/>
<path d="M1572.9 192.7h4.1v4.1h-4.1zM1572.9 250.7h4.1v4.1h-4.1zM1572.9 266.2h4.1v4.1h-4.1zM1572.9 285h4.1v4.1h-4.1zM1572.9 353.8h4.1v4.1h-4.1zM1590.7 179.5h4.1v4.1h-4.1zM1590.7 189.7h4.1v4.1h-4.1zM1590.7 211.7h4.1v4.1h-4.1zM1590.7 222.1h4.1v4.1h-4.1zM1590.7 255.3h4.1v4.1h-4.1zM1608.5 372.8h4.1v4.1h-4.1zM1608.5 384.4h4.1v4.1h-4.1zM1661.9 255.3h4.1v4.1h-4.1zM1661.9 293.1h4.1v4.1h-4.1zM1661.9 305.1h4.1v4.1h-4.1zM1697.5 397.4h4.1v4.1h-4.1zM1697.5 457.7h4.1v4.1h-4.1zM1697.5 488.3h4.1v4.1h-4.1zM1697.5 523.1h4.1v4.1h-4.1zM1715.3 342.2h4.1v4.1h-4.1zM1715.3 414.1h4.1v4.1h-4.1zM1715.3 478.3h4.1v4.1h-4.1zM1750.9 434.5h4.1v4.1h-4.1zM1768.7 408.8h4.1v4.1h-4.1zM1768.7 463.9h4.1v4.1h-4.1zM1768.7 473.2h4.1v4.1h-4.1zM1804.3 437.5h4.1v4.1h-4.1zM1804.3 513.8h4.1v4.1h-4.1zM1822.1 471.4h4.1v4.1h-4.1zM1839.9 356.8h4.1v4.1h-4.1zM1839.9 400.2h4.1v4.1h-4.1zM1839.9 417.6h4.1v4.1h-4.1zM1857.7 469.7h4.1v4.1h-4.1zM1857.7 476.7h4.1v4.1h-4.1zM1875.5 406.7h4.1v4.1h-4.1zM1875.5 439.1h4.1v4.1h-4.1zM1893.3 445.4h4.1v4.1h-4.1zM1893.3 513.8h4.1v4.1h-4.1zM1911.1 430.8h4.1v4.1h-4.1zM1911.1 466.3h4.1v4.1h-4.1zM1928.9 473.2h4.1v4.1h-4.1z" fill="#C9102D"/>
<text x="315" y="645" font-size="33.3" text-anchor="middle" font-weight="bold">Plasma cfDNA</text>
<text x="776" y="645" font-size="33.3" text-anchor="middle" font-weight="bold">Tissue DNA</text>
<path d="M293.7 803.8L295.79 683.82A120 120 0 0 1 383.77 883.09Z" fill="#FDD9CE" stroke="#1a1a1a" stroke-width="0.8" stroke-linejoin="round"/>
<line x1="403.5" y1="755.3" x2="409" y2="752.9" stroke="#1a1a1a" stroke-width="0.8"/>
<path d="M293.7 803.8L383.77 883.09A120 120 0 0 1 342.00 913.65Z" fill="#B4E0F7" stroke="#1a1a1a" stroke-width="0.8" stroke-linejoin="round"/>
<line x1="364.6" y1="900.7" x2="368.1" y2="905.5" stroke="#1a1a1a" stroke-width="0.8"/>
<path d="M293.7 803.8L342.00 913.65A120 120 0 0 1 341.30 913.95Z" fill="#F3C6D8" stroke="#1a1a1a" stroke-width="0.8" stroke-linejoin="round"/>
<line x1="341.6" y1="913.8" x2="344" y2="919.3" stroke="#1a1a1a" stroke-width="0.8"/>
<path d="M293.7 803.8L341.30 913.95A120 120 0 0 1 175.09 785.57Z" fill="#FAE9A0" stroke="#1a1a1a" stroke-width="0.8" stroke-linejoin="round"/>
<line x1="220.3" y1="898.8" x2="216.7" y2="903.5" stroke="#1a1a1a" stroke-width="0.8"/>
<path d="M293.7 803.8L175.09 785.57A120 120 0 0 1 175.81 781.40Z" fill="#B48ADB" stroke="#1a1a1a" stroke-width="0.8" stroke-linejoin="round"/>
<line x1="175.4" y1="783.5" x2="169.5" y2="782.5" stroke="#1a1a1a" stroke-width="0.8"/>
<path d="M293.7 803.8L175.81 781.40A120 120 0 0 1 180.81 763.10Z" fill="#EAF3FA" stroke="#1a1a1a" stroke-width="0.8" stroke-linejoin="round"/>
<line x1="177.9" y1="772.2" x2="172.2" y2="770.6" stroke="#1a1a1a" stroke-width="0.8"/>
<path d="M293.7 803.8L180.81 763.10A120 120 0 0 1 295.79 683.82Z" fill="#DDECD6" stroke="#1a1a1a" stroke-width="0.8" stroke-linejoin="round"/>
<line x1="225.6" y1="705" x2="222.2" y2="700.1" stroke="#1a1a1a" stroke-width="0.8"/>
<text x="46.3" y="700" font-size="19.2" font-weight="bold" fill="#FF0000">Promoter  (19.77%)</text>
<text x="409.3" y="759" font-size="19.2" font-weight="bold">Intron  (36.21%)</text>
<text x="35.5" y="767" font-size="19.2" font-weight="bold">3' UTR (2.52%)</text>
<text x="35.5" y="792.5" font-size="19.2" font-weight="bold">5' UTR (0.56%)</text>
<text x="370.3" y="914" font-size="19.2" font-weight="bold">Exon  (6.92%)</text>
<text x="342.3" y="937.7" font-size="19.2" font-weight="bold">Downstream  (0.1%)</text>
<text x="2.2" y="920.7" font-size="19.2" font-weight="bold">Distal Intergenic (33.92%)</text>
<path d="M823.3 803L776.23 693.70A119 119 0 0 1 931.90 851.66Z" fill="#FDD9CE" stroke="#1a1a1a" stroke-width="0.8" stroke-linejoin="round"/>
<line x1="908.1" y1="719.5" x2="912.3" y2="715.3" stroke="#1a1a1a" stroke-width="0.8"/>
<path d="M823.3 803L931.90 851.66A119 119 0 0 1 917.13 876.19Z" fill="#B4E0F7" stroke="#1a1a1a" stroke-width="0.8" stroke-linejoin="round"/>
<line x1="925.3" y1="864.4" x2="930.4" y2="867.5" stroke="#1a1a1a" stroke-width="0.8"/>
<path d="M823.3 803L917.13 876.19A119 119 0 0 1 916.71 876.72Z" fill="#F3C6D8" stroke="#1a1a1a" stroke-width="0.8" stroke-linejoin="round"/>
<line x1="916.9" y1="876.5" x2="921.6" y2="880.2" stroke="#1a1a1a" stroke-width="0.8"/>
<path d="M823.3 803L916.71 876.72A119 119 0 0 1 707.10 777.34Z" fill="#FAE9A0" stroke="#1a1a1a" stroke-width="0.8" stroke-linejoin="round"/>
<line x1="772.3" y1="910.5" x2="769.7" y2="915.9" stroke="#1a1a1a" stroke-width="0.8"/>
<path d="M823.3 803L707.10 777.34A119 119 0 0 1 707.84 774.21Z" fill="#B48ADB" stroke="#1a1a1a" stroke-width="0.8" stroke-linejoin="round"/>
<line x1="707.5" y1="775.8" x2="701.6" y2="774.4" stroke="#1a1a1a" stroke-width="0.8"/>
<path d="M823.3 803L707.84 774.21A119 119 0 0 1 711.67 761.78Z" fill="#EAF3FA" stroke="#1a1a1a" stroke-width="0.8" stroke-linejoin="round"/>
<line x1="709.6" y1="767.9" x2="703.8" y2="766.2" stroke="#1a1a1a" stroke-width="0.8"/>
<path d="M823.3 803L711.67 761.78A119 119 0 0 1 776.23 693.70Z" fill="#DDECD6" stroke="#1a1a1a" stroke-width="0.8" stroke-linejoin="round"/>
<line x1="737" y1="721.1" x2="732.6" y2="717" stroke="#1a1a1a" stroke-width="0.8"/>
<text x="571.2" y="718.7" font-size="18.75" font-weight="bold" fill="#FF0000">Promoter  (12.9%)</text>
<text x="914" y="719.4" font-size="18.75" font-weight="bold">Intron  (38.18%)</text>
<text x="570.5" y="760.6" font-size="18.75" font-weight="bold">3' UTR (1.74%)</text>
<text x="570.5" y="785" font-size="18.75" font-weight="bold">5' UTR (0.43%)</text>
<text x="932.8" y="872.9" font-size="18.75" font-weight="bold">Exon  (3.84%)</text>
<text x="924.5" y="893.1" font-size="18.75" font-weight="bold">Downstream  (0.09%)</text>
<text x="597.3" y="938.5" font-size="18.75" font-weight="bold">Distal Intergenic (42.83%)</text>
<rect x="266.9" y="978.5" width="21.2" height="32" fill="#F8766D" stroke="#2b2b2b" stroke-width="1.4"/>
<text x="312.6" y="1008" font-size="35.8">Hypermethylation</text>
<rect x="617.4" y="978.5" width="21.2" height="32" fill="#00BFC4" stroke="#2b2b2b" stroke-width="1.4"/>
<text x="662.3" y="1008" font-size="35.8">Hypomethylation</text>
<rect x="185.2" y="1037.9" width="143.3" height="32.4" fill="#00BFC4" stroke="#2b2b2b" stroke-width="0.8"/>
<rect x="328.5" y="1037.9" width="145" height="32.4" fill="#F8766D" stroke="#2b2b2b" stroke-width="0.8"/>
<line x1="164.6" y1="1054.1" x2="171.1" y2="1054.1" stroke="#000" stroke-width="2.0"/>
<text x="162.9" y="1059.6" font-size="20.7" text-anchor="end" font-weight="bold" fill="#FF0000">Promoter</text>
<rect x="185.2" y="1074.5" width="134.9" height="32.4" fill="#00BFC4" stroke="#2b2b2b" stroke-width="0.8"/>
<rect x="320.1" y="1074.5" width="153.4" height="32.4" fill="#F8766D" stroke="#2b2b2b" stroke-width="0.8"/>
<line x1="164.6" y1="1090.7" x2="171.1" y2="1090.7" stroke="#000" stroke-width="2.0"/>
<text x="156.3" y="1096.2" font-size="20.7" text-anchor="end" font-weight="bold">Intron</text>
<rect x="185.2" y="1111.2" width="154" height="32.4" fill="#00BFC4" stroke="#2b2b2b" stroke-width="0.8"/>
<rect x="339.2" y="1111.2" width="134.3" height="32.4" fill="#F8766D" stroke="#2b2b2b" stroke-width="0.8"/>
<line x1="164.6" y1="1127.4" x2="171.1" y2="1127.4" stroke="#000" stroke-width="2.0"/>
<text x="156.3" y="1132.9" font-size="20.7" text-anchor="end" font-weight="bold">Exon</text>
<rect x="185.2" y="1147.8" width="150.8" height="32.4" fill="#00BFC4" stroke="#2b2b2b" stroke-width="0.8"/>
<rect x="336" y="1147.8" width="137.5" height="32.4" fill="#F8766D" stroke="#2b2b2b" stroke-width="0.8"/>
<line x1="164.6" y1="1164" x2="171.1" y2="1164" stroke="#000" stroke-width="2.0"/>
<text x="156.3" y="1169.5" font-size="20.7" text-anchor="end" font-weight="bold">Downstream</text>
<rect x="185.2" y="1184.4" width="122.2" height="32.4" fill="#00BFC4" stroke="#2b2b2b" stroke-width="0.8"/>
<rect x="307.4" y="1184.4" width="166.1" height="32.4" fill="#F8766D" stroke="#2b2b2b" stroke-width="0.8"/>
<line x1="164.6" y1="1200.6" x2="171.1" y2="1200.6" stroke="#000" stroke-width="2.0"/>
<text x="162.9" y="1206.1" font-size="20.7" text-anchor="end" font-weight="bold">Distal Intergenic</text>
<rect x="185.2" y="1221" width="143.3" height="32.4" fill="#00BFC4" stroke="#2b2b2b" stroke-width="0.8"/>
<rect x="328.5" y="1221" width="145" height="32.4" fill="#F8766D" stroke="#2b2b2b" stroke-width="0.8"/>
<line x1="164.6" y1="1237.2" x2="171.1" y2="1237.2" stroke="#000" stroke-width="2.0"/>
<text x="162.9" y="1242.8" font-size="20.7" text-anchor="end" font-weight="bold">5' UTR</text>
<rect x="185.2" y="1257.7" width="150.8" height="32.4" fill="#00BFC4" stroke="#2b2b2b" stroke-width="0.8"/>
<rect x="336" y="1257.7" width="137.5" height="32.4" fill="#F8766D" stroke="#2b2b2b" stroke-width="0.8"/>
<line x1="164.6" y1="1273.9" x2="171.1" y2="1273.9" stroke="#000" stroke-width="2.0"/>
<text x="162.9" y="1279.4" font-size="20.7" text-anchor="end" font-weight="bold">3' UTR</text>
<path d="M171.1 1032.3V1295.4H487.7" fill="none" stroke="#000" stroke-width="2.1" stroke-linecap="square"/>
<line x1="185.2" y1="1295.4" x2="185.2" y2="1301.9" stroke="#000" stroke-width="2.0"/>
<text x="185.2" y="1322.6" font-size="20" text-anchor="middle">0</text>
<line x1="257.3" y1="1295.4" x2="257.3" y2="1301.9" stroke="#000" stroke-width="2.0"/>
<text x="257.3" y="1322.6" font-size="20" text-anchor="middle">25</text>
<line x1="329.4" y1="1295.4" x2="329.4" y2="1301.9" stroke="#000" stroke-width="2.0"/>
<text x="329.4" y="1322.6" font-size="20" text-anchor="middle">50</text>
<line x1="401.4" y1="1295.4" x2="401.4" y2="1301.9" stroke="#000" stroke-width="2.0"/>
<text x="401.4" y="1322.6" font-size="20" text-anchor="middle">75</text>
<line x1="473.5" y1="1295.4" x2="473.5" y2="1301.9" stroke="#000" stroke-width="2.0"/>
<text x="473.5" y="1322.6" font-size="20" text-anchor="middle">100</text>
<rect x="735.7" y="1037.9" width="215.3" height="32.4" fill="#00BFC4" stroke="#2b2b2b" stroke-width="0.8"/>
<rect x="951" y="1037.9" width="72.6" height="32.4" fill="#F8766D" stroke="#2b2b2b" stroke-width="0.8"/>
<line x1="714.8" y1="1054.1" x2="721.3" y2="1054.1" stroke="#000" stroke-width="2.0"/>
<text x="714.6" y="1059.6" font-size="20.7" text-anchor="end" font-weight="bold">Distal Intergenic</text>
<rect x="735.7" y="1074.5" width="283.6" height="32.4" fill="#00BFC4" stroke="#2b2b2b" stroke-width="0.8"/>
<rect x="1019.3" y="1074.5" width="4.3" height="32.4" fill="#F8766D" stroke="#2b2b2b" stroke-width="0.8"/>
<line x1="714.8" y1="1090.7" x2="721.3" y2="1090.7" stroke="#000" stroke-width="2.0"/>
<text x="704.9" y="1096.2" font-size="20.7" text-anchor="end" font-weight="bold">Exon</text>
<rect x="735.7" y="1111.2" width="233.5" height="32.4" fill="#00BFC4" stroke="#2b2b2b" stroke-width="0.8"/>
<rect x="969.2" y="1111.2" width="54.4" height="32.4" fill="#F8766D" stroke="#2b2b2b" stroke-width="0.8"/>
<line x1="714.8" y1="1127.4" x2="721.3" y2="1127.4" stroke="#000" stroke-width="2.0"/>
<text x="707.1" y="1132.9" font-size="20.7" text-anchor="end" font-weight="bold">Intron</text>
<rect x="735.7" y="1147.8" width="276.1" height="32.4" fill="#00BFC4" stroke="#2b2b2b" stroke-width="0.8"/>
<rect x="1011.8" y="1147.8" width="11.8" height="32.4" fill="#F8766D" stroke="#2b2b2b" stroke-width="0.8"/>
<line x1="714.8" y1="1164" x2="721.3" y2="1164" stroke="#000" stroke-width="2.0"/>
<text x="709" y="1169.5" font-size="20.7" text-anchor="end" font-weight="bold" fill="#FF0000">Promoter</text>
<rect x="735.7" y="1184.4" width="252.8" height="32.4" fill="#00BFC4" stroke="#2b2b2b" stroke-width="0.8"/>
<rect x="988.5" y="1184.4" width="35.1" height="32.4" fill="#F8766D" stroke="#2b2b2b" stroke-width="0.8"/>
<line x1="714.8" y1="1200.6" x2="721.3" y2="1200.6" stroke="#000" stroke-width="2.0"/>
<text x="709.3" y="1206.1" font-size="20.7" text-anchor="end" font-weight="bold">Downstream</text>
<rect x="735.7" y="1221" width="283" height="32.4" fill="#00BFC4" stroke="#2b2b2b" stroke-width="0.8"/>
<rect x="1018.7" y="1221" width="4.9" height="32.4" fill="#F8766D" stroke="#2b2b2b" stroke-width="0.8"/>
<line x1="714.8" y1="1237.2" x2="721.3" y2="1237.2" stroke="#000" stroke-width="2.0"/>
<text x="702.7" y="1242.8" font-size="20.7" text-anchor="end" font-weight="bold">5' UTR</text>
<rect x="735.7" y="1257.7" width="280.4" height="32.4" fill="#00BFC4" stroke="#2b2b2b" stroke-width="0.8"/>
<rect x="1016.1" y="1257.7" width="7.5" height="32.4" fill="#F8766D" stroke="#2b2b2b" stroke-width="0.8"/>
<line x1="714.8" y1="1273.9" x2="721.3" y2="1273.9" stroke="#000" stroke-width="2.0"/>
<text x="702.7" y="1279.4" font-size="20.7" text-anchor="end" font-weight="bold">3' UTR</text>
<path d="M721.3 1032.3V1295.4H1037.8" fill="none" stroke="#000" stroke-width="2.1" stroke-linecap="square"/>
<line x1="735.7" y1="1295.4" x2="735.7" y2="1301.9" stroke="#000" stroke-width="2.0"/>
<text x="735.7" y="1322.6" font-size="20" text-anchor="middle">0</text>
<line x1="807.7" y1="1295.4" x2="807.7" y2="1301.9" stroke="#000" stroke-width="2.0"/>
<text x="807.7" y="1322.6" font-size="20" text-anchor="middle">25</text>
<line x1="879.7" y1="1295.4" x2="879.7" y2="1301.9" stroke="#000" stroke-width="2.0"/>
<text x="879.7" y="1322.6" font-size="20" text-anchor="middle">50</text>
<line x1="951.6" y1="1295.4" x2="951.6" y2="1301.9" stroke="#000" stroke-width="2.0"/>
<text x="951.6" y="1322.6" font-size="20" text-anchor="middle">75</text>
<line x1="1023.6" y1="1295.4" x2="1023.6" y2="1301.9" stroke="#000" stroke-width="2.0"/>
<text x="1023.6" y="1322.6" font-size="20" text-anchor="middle">100</text>
<rect x="873.5" y="1403.5" width="30.8" height="152.9" fill="#D9D9D9" stroke="#6a6a6a" stroke-width="0.9"/>
<rect x="612.6" y="1403.5" width="260.9" height="152.9" fill="#fff" stroke="#6a6a6a" stroke-width="0.9"/>
<line x1="873.5" y1="1403.5" x2="873.5" y2="1556.4" stroke="#333" stroke-width="1.0"/>
<text transform="translate(880.7 1480) rotate(90)" font-size="21.7" text-anchor="middle">BP</text>
<line x1="609" y1="1420.7" x2="612.6" y2="1420.7" stroke="#333" stroke-width="1.1"/>
<text x="606" y="1428.4" font-size="21.7" text-anchor="end">Actin filament organization</text>
<circle cx="820.1" cy="1420.7" r="9.2" fill="#4B5CC6"/>
<line x1="609" y1="1450.2" x2="612.6" y2="1450.2" stroke="#333" stroke-width="1.1"/>
<text x="606" y="1457.9" font-size="21.7" text-anchor="end">Regulation of actin filament-based process</text>
<circle cx="776.4" cy="1450.2" r="8.6" fill="#FA8B5F"/>
<line x1="609" y1="1479.7" x2="612.6" y2="1479.7" stroke="#333" stroke-width="1.1"/>
<text x="606" y="1487.4" font-size="21.7" text-anchor="end">Regulation of GTPase activity</text>
<circle cx="759.3" cy="1479.7" r="8.4" fill="#6D60BB"/>
<line x1="609" y1="1509.2" x2="612.6" y2="1509.2" stroke="#333" stroke-width="1.1"/>
<text x="606" y="1516.9" font-size="21.7" text-anchor="end">Ras protein signal transduction</text>
<circle cx="742.3" cy="1509.2" r="8.2" fill="#7B63B6"/>
<line x1="609" y1="1538.7" x2="612.6" y2="1538.7" stroke="#333" stroke-width="1.1"/>
<text x="606" y="1546.4" font-size="21.7" text-anchor="end">Positive regulation of cell projection organization</text>
<circle cx="738.8" cy="1538.7" r="8.1" fill="#F18767"/>
<rect x="873.5" y="1562.7" width="30.8" height="153.8" fill="#D9D9D9" stroke="#6a6a6a" stroke-width="0.9"/>
<rect x="612.6" y="1562.7" width="260.9" height="153.8" fill="#fff" stroke="#6a6a6a" stroke-width="0.9"/>
<line x1="873.5" y1="1562.7" x2="873.5" y2="1716.5" stroke="#333" stroke-width="1.0"/>
<text transform="translate(880.7 1639.6) rotate(90)" font-size="21.7" text-anchor="middle">CC</text>
<line x1="609" y1="1580.2" x2="612.6" y2="1580.2" stroke="#333" stroke-width="1.1"/>
<text x="606" y="1587.9" font-size="21.7" text-anchor="end">Nuclear envelope</text>
<circle cx="819.3" cy="1580.2" r="9.4" fill="#7461B8"/>
<line x1="609" y1="1609.9" x2="612.6" y2="1609.9" stroke="#333" stroke-width="1.1"/>
<text x="606" y="1617.6" font-size="21.7" text-anchor="end">Cell-substrate junction</text>
<circle cx="797.5" cy="1609.9" r="9.3" fill="#4B5CC6"/>
<line x1="609" y1="1639.5" x2="612.6" y2="1639.5" stroke="#333" stroke-width="1.1"/>
<text x="606" y="1647.2" font-size="21.7" text-anchor="end">Focal adhesion</text>
<circle cx="791.4" cy="1639.5" r="9.1" fill="#4B5CC6"/>
<line x1="609" y1="1669.2" x2="612.6" y2="1669.2" stroke="#333" stroke-width="1.1"/>
<text x="606" y="1676.9" font-size="21.7" text-anchor="end">Nuclear speck</text>
<circle cx="774" cy="1669.2" r="8.8" fill="#6A60BC"/>
<line x1="609" y1="1698.8" x2="612.6" y2="1698.8" stroke="#333" stroke-width="1.1"/>
<text x="606" y="1706.5" font-size="21.7" text-anchor="end">Lamellipodium</text>
<circle cx="624.1" cy="1698.8" r="4.1" fill="#C5768B"/>
<rect x="873.5" y="1723.3" width="30.8" height="153" fill="#D9D9D9" stroke="#6a6a6a" stroke-width="0.9"/>
<rect x="612.6" y="1723.3" width="260.9" height="153" fill="#fff" stroke="#6a6a6a" stroke-width="0.9"/>
<line x1="873.5" y1="1723.3" x2="873.5" y2="1876.3" stroke="#333" stroke-width="1.0"/>
<text transform="translate(880.7 1799.8) rotate(90)" font-size="21.7" text-anchor="middle">MF</text>
<line x1="609" y1="1740.3" x2="612.6" y2="1740.3" stroke="#333" stroke-width="1.1"/>
<text x="606" y="1748" font-size="21.7" text-anchor="end">GTPase regulator activity</text>
<circle cx="861.6" cy="1740.3" r="10.1" fill="#4B5CC6"/>
<line x1="609" y1="1769.8" x2="612.6" y2="1769.8" stroke="#333" stroke-width="1.1"/>
<text x="606" y="1777.6" font-size="21.7" text-anchor="end">Nucleoside-triphosphatase regulator activity</text>
<circle cx="861.6" cy="1769.8" r="10.1" fill="#4B5CC6"/>
<line x1="609" y1="1799.4" x2="612.6" y2="1799.4" stroke="#333" stroke-width="1.1"/>
<text x="606" y="1807.1" font-size="21.7" text-anchor="end">DNA-binding transcription factor binding</text>
<circle cx="833.8" cy="1799.4" r="9.8" fill="#7E63B5"/>
<line x1="609" y1="1829" x2="612.6" y2="1829" stroke="#333" stroke-width="1.1"/>
<text x="606" y="1836.7" font-size="21.7" text-anchor="end">Protein serine/threonine kinase activity</text>
<circle cx="800.4" cy="1829" r="9" fill="#9969A7"/>
<line x1="609" y1="1858.5" x2="612.6" y2="1858.5" stroke="#333" stroke-width="1.1"/>
<text x="606" y="1866.2" font-size="21.7" text-anchor="end">GTPase binding</text>
<circle cx="708.3" cy="1858.5" r="7.5" fill="#C2758D"/>
<line x1="627.4" y1="1876.3" x2="627.4" y2="1880.5" stroke="#333" stroke-width="1.1"/>
<text x="627.4" y="1894.8" font-size="16.3" text-anchor="middle">0.015</text>
<line x1="684" y1="1876.3" x2="684" y2="1880.5" stroke="#333" stroke-width="1.1"/>
<text x="684" y="1894.8" font-size="16.3" text-anchor="middle">0.020</text>
<line x1="741.3" y1="1876.3" x2="741.3" y2="1880.5" stroke="#333" stroke-width="1.1"/>
<text x="741.3" y="1894.8" font-size="16.3" text-anchor="middle">0.025</text>
<line x1="798" y1="1876.3" x2="798" y2="1880.5" stroke="#333" stroke-width="1.1"/>
<text x="798" y="1894.8" font-size="16.3" text-anchor="middle">0.030</text>
<line x1="855.1" y1="1876.3" x2="855.1" y2="1880.5" stroke="#333" stroke-width="1.1"/>
<text x="855.1" y="1894.8" font-size="16.3" text-anchor="middle">0.035</text>
<text x="742.6" y="1915" font-size="19.2" text-anchor="middle">GeneRatio</text>
<text x="922.6" y="1528.3" font-size="19.2">Count</text>
<circle cx="933.6" cy="1549.8" r="5.4" fill="#000"/>
<text x="954.9" y="1553.3" font-size="9.6">150</text>
<circle cx="933.6" cy="1568.6" r="7.4" fill="#000"/>
<text x="954.9" y="1572.1" font-size="9.6">200</text>
<circle cx="933.6" cy="1588.1" r="8.5" fill="#000"/>
<text x="954.9" y="1591.6" font-size="9.6">250</text>
<circle cx="933.6" cy="1610" r="9.4" fill="#000"/>
<text x="954.9" y="1613.5" font-size="9.6">300</text>
<text x="922.6" y="1661.4" font-size="19.2">p.adjust</text>
<defs><linearGradient id="cb1" x1="0" y1="0" x2="0" y2="1"><stop offset="0.000" stop-color="#FA8B5F"/><stop offset="0.167" stop-color="#E58272"/><stop offset="0.333" stop-color="#CF7984"/><stop offset="0.500" stop-color="#B77195"/><stop offset="0.667" stop-color="#9B6AA6"/><stop offset="0.833" stop-color="#7B62B6"/><stop offset="1.000" stop-color="#4B5CC6"/></linearGradient></defs>
<rect x="921.9" y="1674.1" width="19" height="93.6" fill="url(#cb1)"/>
<line x1="921.9" y1="1691" x2="925.7" y2="1691" stroke="#fff" stroke-width="0.7" opacity="0.8"/>
<line x1="937.1" y1="1691" x2="940.9" y2="1691" stroke="#fff" stroke-width="0.7" opacity="0.8"/>
<text x="950" y="1694.5" font-size="9.6">2.0e-10</text>
<line x1="921.9" y1="1709.9" x2="925.7" y2="1709.9" stroke="#fff" stroke-width="0.7" opacity="0.8"/>
<line x1="937.1" y1="1709.9" x2="940.9" y2="1709.9" stroke="#fff" stroke-width="0.7" opacity="0.8"/>
<text x="950" y="1713.4" font-size="9.6">1.5e-10</text>
<line x1="921.9" y1="1729.1" x2="925.7" y2="1729.1" stroke="#fff" stroke-width="0.7" opacity="0.8"/>
<line x1="937.1" y1="1729.1" x2="940.9" y2="1729.1" stroke="#fff" stroke-width="0.7" opacity="0.8"/>
<text x="950" y="1732.6" font-size="9.6">1.0e-10</text>
<line x1="921.9" y1="1748.2" x2="925.7" y2="1748.2" stroke="#fff" stroke-width="0.7" opacity="0.8"/>
<line x1="937.1" y1="1748.2" x2="940.9" y2="1748.2" stroke="#fff" stroke-width="0.7" opacity="0.8"/>
<text x="950" y="1751.7" font-size="9.6">5.0e-11</text>
<rect x="872.4" y="1950.4" width="32" height="163.6" fill="#D9D9D9" stroke="#6a6a6a" stroke-width="0.9"/>
<rect x="607.9" y="1950.4" width="264.5" height="163.6" fill="#fff" stroke="#6a6a6a" stroke-width="0.9"/>
<line x1="872.4" y1="1950.4" x2="872.4" y2="2114" stroke="#333" stroke-width="1.0"/>
<text transform="translate(879.6 2032.2) rotate(90)" font-size="23.25" text-anchor="middle">BP</text>
<line x1="604.3" y1="1968.8" x2="607.9" y2="1968.8" stroke="#333" stroke-width="1.1"/>
<text x="600.6" y="1977.1" font-size="23.25" text-anchor="end">Pattern specification process</text>
<circle cx="859.9" cy="1968.8" r="11" fill="#4B5CC6"/>
<line x1="604.3" y1="2000.5" x2="607.9" y2="2000.5" stroke="#333" stroke-width="1.1"/>
<text x="600.6" y="2008.8" font-size="23.25" text-anchor="end">Axonogenesis</text>
<circle cx="852.2" cy="2000.5" r="10.5" fill="#4B5CC6"/>
<line x1="604.3" y1="2032.3" x2="607.9" y2="2032.3" stroke="#333" stroke-width="1.1"/>
<text x="600.6" y="2040.6" font-size="23.25" text-anchor="end">Embryonic organ development</text>
<circle cx="852.2" cy="2032.3" r="10.5" fill="#4B5CC6"/>
<line x1="604.3" y1="2064.1" x2="607.9" y2="2064.1" stroke="#333" stroke-width="1.1"/>
<text x="600.6" y="2072.3" font-size="23.25" text-anchor="end">Regionalization</text>
<circle cx="798.8" cy="2064.1" r="10" fill="#4B5CC6"/>
<line x1="604.3" y1="2095.8" x2="607.9" y2="2095.8" stroke="#333" stroke-width="1.1"/>
<text x="600.6" y="2104.1" font-size="23.25" text-anchor="end">Developmental growth involved in morphogenesis</text>
<circle cx="726.4" cy="2095.8" r="8.5" fill="#4B5CC6"/>
<rect x="872.4" y="2121.8" width="32" height="164.2" fill="#D9D9D9" stroke="#6a6a6a" stroke-width="0.9"/>
<rect x="607.9" y="2121.8" width="264.5" height="164.2" fill="#fff" stroke="#6a6a6a" stroke-width="0.9"/>
<line x1="872.4" y1="2121.8" x2="872.4" y2="2286" stroke="#333" stroke-width="1.0"/>
<text transform="translate(879.6 2203.9) rotate(90)" font-size="23.25" text-anchor="middle">CC</text>
<line x1="604.3" y1="2140.8" x2="607.9" y2="2140.8" stroke="#333" stroke-width="1.1"/>
<text x="600.6" y="2149.1" font-size="23.25" text-anchor="end">Cell leading edge</text>
<circle cx="794.6" cy="2140.8" r="10" fill="#7B63B6"/>
<line x1="604.3" y1="2172.6" x2="607.9" y2="2172.6" stroke="#333" stroke-width="1.1"/>
<text x="600.6" y="2180.8" font-size="23.25" text-anchor="end">Ion channel complex</text>
<circle cx="724.7" cy="2172.6" r="8.5" fill="#DA7E7B"/>
<line x1="604.3" y1="2204.3" x2="607.9" y2="2204.3" stroke="#333" stroke-width="1.1"/>
<text x="600.6" y="2212.6" font-size="23.25" text-anchor="end">Leading edge membrane</text>
<circle cx="677.2" cy="2204.3" r="7.5" fill="#4B5CC6"/>
<line x1="604.3" y1="2236.1" x2="607.9" y2="2236.1" stroke="#333" stroke-width="1.1"/>
<text x="600.6" y="2244.3" font-size="23.25" text-anchor="end">Ruffle</text>
<circle cx="666.5" cy="2236.1" r="7" fill="#B77195"/>
<line x1="604.3" y1="2267.8" x2="607.9" y2="2267.8" stroke="#333" stroke-width="1.1"/>
<text x="600.6" y="2276.1" font-size="23.25" text-anchor="end">Ruffle membrane</text>
<circle cx="619" cy="2267.8" r="4.5" fill="#FA8B5F"/>
<rect x="872.4" y="2293" width="32" height="164.4" fill="#D9D9D9" stroke="#6a6a6a" stroke-width="0.9"/>
<rect x="607.9" y="2293" width="264.5" height="164.4" fill="#fff" stroke="#6a6a6a" stroke-width="0.9"/>
<line x1="872.4" y1="2293" x2="872.4" y2="2457.4" stroke="#333" stroke-width="1.0"/>
<text transform="translate(879.6 2375.2) rotate(90)" font-size="23.25" text-anchor="middle">MF</text>
<line x1="604.3" y1="2312.2" x2="607.9" y2="2312.2" stroke="#333" stroke-width="1.1"/>
<text x="600.6" y="2320.5" font-size="23.25" text-anchor="end">Channel activity</text>
<circle cx="843.9" cy="2312.2" r="10.5" fill="#8C66AE"/>
<line x1="604.3" y1="2343.9" x2="607.9" y2="2343.9" stroke="#333" stroke-width="1.1"/>
<text x="600.6" y="2352.2" font-size="23.25" text-anchor="end">Passive transmembrane transporter activity</text>
<circle cx="843.9" cy="2343.9" r="10.5" fill="#8C66AE"/>
<line x1="604.3" y1="2375.7" x2="607.9" y2="2375.7" stroke="#333" stroke-width="1.1"/>
<text x="600.6" y="2384" font-size="23.25" text-anchor="end">Actin filament binding</text>
<circle cx="701" cy="2375.7" r="8" fill="#8C66AE"/>
<line x1="604.3" y1="2407.4" x2="607.9" y2="2407.4" stroke="#333" stroke-width="1.1"/>
<text x="600.6" y="2415.7" font-size="23.25" text-anchor="end">Ligand-gated ion channel activity</text>
<circle cx="655.3" cy="2407.4" r="7" fill="#CC7986"/>
<line x1="604.3" y1="2439.2" x2="607.9" y2="2439.2" stroke="#333" stroke-width="1.1"/>
<text x="600.6" y="2447.5" font-size="23.25" text-anchor="end">Ligand-gated channel activity</text>
<circle cx="655.3" cy="2439.2" r="7" fill="#CC7986"/>
<line x1="609" y1="2457.4" x2="609" y2="2461.6" stroke="#333" stroke-width="1.1"/>
<text x="609" y="2477" font-size="17.3" text-anchor="middle">0.01</text>
<line x1="683.2" y1="2457.4" x2="683.2" y2="2461.6" stroke="#333" stroke-width="1.1"/>
<text x="683.2" y="2477" font-size="17.3" text-anchor="middle">0.02</text>
<line x1="756.7" y1="2457.4" x2="756.7" y2="2461.6" stroke="#333" stroke-width="1.1"/>
<text x="756.7" y="2477" font-size="17.3" text-anchor="middle">0.03</text>
<line x1="830.2" y1="2457.4" x2="830.2" y2="2461.6" stroke="#333" stroke-width="1.1"/>
<text x="830.2" y="2477" font-size="17.3" text-anchor="middle">0.04</text>
<text x="740" y="2500.2" font-size="20.7" text-anchor="middle">GeneRatio</text>
<text x="924" y="2094" font-size="21">Count</text>
<circle cx="937" cy="2117" r="7.5" fill="#000"/>
<text x="960" y="2120.7" font-size="10.3">40</text>
<circle cx="937" cy="2138.4" r="9" fill="#000"/>
<text x="960" y="2142.1" font-size="10.3">60</text>
<circle cx="937" cy="2162" r="10.5" fill="#000"/>
<text x="960" y="2165.7" font-size="10.3">80</text>
<text x="924" y="2218" font-size="21">p.adjust</text>
<defs><linearGradient id="cb2" x1="0" y1="0" x2="0" y2="1"><stop offset="0.000" stop-color="#FA8B5F"/><stop offset="0.167" stop-color="#E58272"/><stop offset="0.333" stop-color="#CF7984"/><stop offset="0.500" stop-color="#B77195"/><stop offset="0.667" stop-color="#9B6AA6"/><stop offset="0.833" stop-color="#7B62B6"/><stop offset="1.000" stop-color="#4B5CC6"/></linearGradient></defs>
<rect x="924" y="2231" width="19.6" height="100.8" fill="url(#cb2)"/>
<line x1="924" y1="2238" x2="927.8" y2="2238" stroke="#fff" stroke-width="0.7" opacity="0.8"/>
<line x1="939.8" y1="2238" x2="943.6" y2="2238" stroke="#fff" stroke-width="0.7" opacity="0.8"/>
<text x="954" y="2241.7" font-size="10.3">8e-05</text>
<line x1="924" y1="2261.8" x2="927.8" y2="2261.8" stroke="#fff" stroke-width="0.7" opacity="0.8"/>
<line x1="939.8" y1="2261.8" x2="943.6" y2="2261.8" stroke="#fff" stroke-width="0.7" opacity="0.8"/>
<text x="954" y="2265.5" font-size="10.3">6e-05</text>
<line x1="924" y1="2285" x2="927.8" y2="2285" stroke="#fff" stroke-width="0.7" opacity="0.8"/>
<line x1="939.8" y1="2285" x2="943.6" y2="2285" stroke="#fff" stroke-width="0.7" opacity="0.8"/>
<text x="954" y="2288.7" font-size="10.3">4e-05</text>
<line x1="924" y1="2308.6" x2="927.8" y2="2308.6" stroke="#fff" stroke-width="0.7" opacity="0.8"/>
<line x1="939.8" y1="2308.6" x2="943.6" y2="2308.6" stroke="#fff" stroke-width="0.7" opacity="0.8"/>
<text x="954" y="2312.3" font-size="10.3">2e-05</text>
<rect x="1531.2" y="1217.7" width="346" height="653.8" fill="#fff" stroke="#707070" stroke-width="0.9"/>
<line x1="1527.6" y1="1237.2" x2="1531.2" y2="1237.2" stroke="#333" stroke-width="1.1"/>
<text x="1525" y="1245.2" font-size="22.5" text-anchor="end">MAPK signaling pathway</text>
<circle cx="1861.3" cy="1237.2" r="10.5" fill="#4B5CC6"/>
<line x1="1527.6" y1="1269.6" x2="1531.2" y2="1269.6" stroke="#333" stroke-width="1.1"/>
<text x="1525" y="1277.6" font-size="22.5" text-anchor="end">Endocytosis</text>
<circle cx="1820" cy="1269.6" r="10" fill="#4B5CC6"/>
<line x1="1527.6" y1="1302" x2="1531.2" y2="1302" stroke="#333" stroke-width="1.1"/>
<text x="1525" y="1310" font-size="22.5" text-anchor="end">Shigellosis</text>
<circle cx="1792.4" cy="1302" r="9.5" fill="#565DC3"/>
<line x1="1527.6" y1="1334.5" x2="1531.2" y2="1334.5" stroke="#333" stroke-width="1.1"/>
<text x="1525" y="1342.4" font-size="22.5" text-anchor="end">Salmonella infection</text>
<circle cx="1790" cy="1334.5" r="9.5" fill="#8C66AE"/>
<line x1="1527.6" y1="1366.9" x2="1531.2" y2="1366.9" stroke="#333" stroke-width="1.1"/>
<text x="1525" y="1374.9" font-size="22.5" text-anchor="end">Ras signaling pathway</text>
<circle cx="1767" cy="1366.9" r="9.5" fill="#CC7986"/>
<line x1="1527.6" y1="1399.3" x2="1531.2" y2="1399.3" stroke="#333" stroke-width="1.1"/>
<text x="1525" y="1407.3" font-size="22.5" text-anchor="end">Rap1 signaling pathway</text>
<circle cx="1731.6" cy="1399.3" r="9" fill="#DA7E7B"/>
<line x1="1527.6" y1="1431.7" x2="1531.2" y2="1431.7" stroke="#333" stroke-width="1.1"/>
<text x="1525" y="1439.7" font-size="22.5" text-anchor="end">Axon guidance</text>
<circle cx="1711" cy="1431.7" r="8.5" fill="#4B5CC6"/>
<line x1="1527.6" y1="1464.1" x2="1531.2" y2="1464.1" stroke="#333" stroke-width="1.1"/>
<text x="1525" y="1472.1" font-size="22.5" text-anchor="end">Autophagy - animal</text>
<circle cx="1688" cy="1464.1" r="8.5" fill="#4B5CC6"/>
<line x1="1527.6" y1="1496.6" x2="1531.2" y2="1496.6" stroke="#333" stroke-width="1.1"/>
<text x="1525" y="1504.5" font-size="22.5" text-anchor="end">Cellular senescence</text>
<circle cx="1669.2" cy="1496.6" r="8" fill="#4B5CC6"/>
<line x1="1527.6" y1="1529" x2="1531.2" y2="1529" stroke="#333" stroke-width="1.1"/>
<text x="1525" y="1537" font-size="22.5" text-anchor="end">Efferocytosis</text>
<circle cx="1659.7" cy="1529" r="8" fill="#9067AC"/>
<line x1="1527.6" y1="1561.4" x2="1531.2" y2="1561.4" stroke="#333" stroke-width="1.1"/>
<text x="1525" y="1569.4" font-size="22.5" text-anchor="end">Adrenergic signaling in cardiomyocytes</text>
<circle cx="1652.6" cy="1561.4" r="8" fill="#F68963"/>
<line x1="1527.6" y1="1593.8" x2="1531.2" y2="1593.8" stroke="#333" stroke-width="1.1"/>
<text x="1525" y="1601.8" font-size="22.5" text-anchor="end">Phospholipase D signaling pathway</text>
<circle cx="1645.6" cy="1593.8" r="8" fill="#FA8B5F"/>
<line x1="1527.6" y1="1626.2" x2="1531.2" y2="1626.2" stroke="#333" stroke-width="1.1"/>
<text x="1525" y="1634.2" font-size="22.5" text-anchor="end">Ubiquitin mediated proteolysis</text>
<circle cx="1636" cy="1626.2" r="7.5" fill="#FA8B5F"/>
<line x1="1527.6" y1="1658.7" x2="1531.2" y2="1658.7" stroke="#333" stroke-width="1.1"/>
<text x="1525" y="1666.6" font-size="22.5" text-anchor="end">Dopaminergic synapse</text>
<circle cx="1629" cy="1658.7" r="7.5" fill="#655FBE"/>
<line x1="1527.6" y1="1691.1" x2="1531.2" y2="1691.1" stroke="#333" stroke-width="1.1"/>
<text x="1525" y="1699.1" font-size="22.5" text-anchor="end">Apoptosis</text>
<circle cx="1629" cy="1691.1" r="7.5" fill="#CC7986"/>
<line x1="1527.6" y1="1723.5" x2="1531.2" y2="1723.5" stroke="#333" stroke-width="1.1"/>
<text x="1525" y="1731.5" font-size="22.5" text-anchor="end">Parathyroid hormone synthesis, secretion and action</text>
<circle cx="1604.3" cy="1723.5" r="7" fill="#7B63B6"/>
<line x1="1527.6" y1="1755.9" x2="1531.2" y2="1755.9" stroke="#333" stroke-width="1.1"/>
<text x="1525" y="1763.9" font-size="22.5" text-anchor="end">Insulin resistance</text>
<circle cx="1592.5" cy="1755.9" r="6.5" fill="#C5768B"/>
<line x1="1527.6" y1="1788.3" x2="1531.2" y2="1788.3" stroke="#333" stroke-width="1.1"/>
<text x="1525" y="1796.3" font-size="22.5" text-anchor="end">Circadian entrainment</text>
<circle cx="1576.6" cy="1788.3" r="6" fill="#B77195"/>
<line x1="1527.6" y1="1820.8" x2="1531.2" y2="1820.8" stroke="#333" stroke-width="1.1"/>
<text x="1525" y="1828.7" font-size="22.5" text-anchor="end">p53 signaling pathway</text>
<circle cx="1546.5" cy="1820.8" r="4.5" fill="#9067AC"/>
<line x1="1527.6" y1="1853.2" x2="1531.2" y2="1853.2" stroke="#333" stroke-width="1.1"/>
<text x="1525" y="1861.2" font-size="22.5" text-anchor="end">Pancreatic cancer</text>
<circle cx="1546.5" cy="1853.2" r="4.5" fill="#FA8B5F"/>
<line x1="1625.5" y1="1871.5" x2="1625.5" y2="1875.7" stroke="#333" stroke-width="1.1"/>
<text x="1625.5" y="1890.8" font-size="16.5" text-anchor="middle">0.02</text>
<line x1="1729.9" y1="1871.5" x2="1729.9" y2="1875.7" stroke="#333" stroke-width="1.1"/>
<text x="1729.9" y="1890.8" font-size="16.5" text-anchor="middle">0.03</text>
<line x1="1833.6" y1="1871.5" x2="1833.6" y2="1875.7" stroke="#333" stroke-width="1.1"/>
<text x="1833.6" y="1890.8" font-size="16.5" text-anchor="middle">0.04</text>
<text x="1704.3" y="1911.8" font-size="20.3" text-anchor="middle">GeneRatio</text>
<text x="1896" y="1450" font-size="20.3">Count</text>
<circle cx="1906.7" cy="1472.4" r="7.5" fill="#000"/>
<text x="1929" y="1475.9" font-size="9.8">100</text>
<circle cx="1906.7" cy="1493.6" r="9.5" fill="#000"/>
<text x="1929" y="1497.1" font-size="9.8">150</text>
<text x="1896" y="1546.7" font-size="20.3">pvalue</text>
<defs><linearGradient id="cb3" x1="0" y1="0" x2="0" y2="1"><stop offset="0.000" stop-color="#FA8B5F"/><stop offset="0.167" stop-color="#E58272"/><stop offset="0.333" stop-color="#CF7984"/><stop offset="0.500" stop-color="#B77195"/><stop offset="0.667" stop-color="#9B6AA6"/><stop offset="0.833" stop-color="#7B62B6"/><stop offset="1.000" stop-color="#4B5CC6"/></linearGradient></defs>
<rect x="1896" y="1559" width="19" height="97.3" fill="url(#cb3)"/>
<line x1="1896" y1="1583" x2="1899.8" y2="1583" stroke="#fff" stroke-width="0.7" opacity="0.8"/>
<line x1="1911.2" y1="1583" x2="1915" y2="1583" stroke="#fff" stroke-width="0.7" opacity="0.8"/>
<text x="1924.5" y="1586.5" font-size="9.6">6e-05</text>
<line x1="1896" y1="1607.4" x2="1899.8" y2="1607.4" stroke="#fff" stroke-width="0.7" opacity="0.8"/>
<line x1="1911.2" y1="1607.4" x2="1915" y2="1607.4" stroke="#fff" stroke-width="0.7" opacity="0.8"/>
<text x="1924.5" y="1610.9" font-size="9.6">4e-05</text>
<line x1="1896" y1="1632.7" x2="1899.8" y2="1632.7" stroke="#fff" stroke-width="0.7" opacity="0.8"/>
<line x1="1911.2" y1="1632.7" x2="1915" y2="1632.7" stroke="#fff" stroke-width="0.7" opacity="0.8"/>
<text x="1924.5" y="1636.2" font-size="9.6">2e-05</text>
<rect x="1523.6" y="2055.4" width="351.6" height="406.5" fill="#fff" stroke="#707070" stroke-width="0.9"/>
<line x1="1520" y1="2094.7" x2="1523.6" y2="2094.7" stroke="#333" stroke-width="1.1"/>
<text x="1517.4" y="2102.7" font-size="22.4" text-anchor="end">Axon guidance</text>
<circle cx="1859" cy="2094.7" r="10.5" fill="#4B5CC6"/>
<line x1="1520" y1="2160.4" x2="1523.6" y2="2160.4" stroke="#333" stroke-width="1.1"/>
<text x="1517.4" y="2168.4" font-size="22.4" text-anchor="end">Tight junction</text>
<circle cx="1748.4" cy="2160.4" r="9.5" fill="#FA8B5F"/>
<line x1="1520" y1="2225.7" x2="1523.6" y2="2225.7" stroke="#333" stroke-width="1.1"/>
<text x="1517.4" y="2233.7" font-size="22.4" text-anchor="end">Taste transduction</text>
<circle cx="1613" cy="2225.7" r="7.5" fill="#A76D9F"/>
<line x1="1520" y1="2291.5" x2="1523.6" y2="2291.5" stroke="#333" stroke-width="1.1"/>
<text x="1517.4" y="2299.5" font-size="22.4" text-anchor="end">Morphine addiction</text>
<circle cx="1613" cy="2291.5" r="7.5" fill="#E78370"/>
<line x1="1520" y1="2357.3" x2="1523.6" y2="2357.3" stroke="#333" stroke-width="1.1"/>
<text x="1517.4" y="2365.3" font-size="22.4" text-anchor="end">Lysine degradation</text>
<circle cx="1563.3" cy="2357.3" r="6.5" fill="#C5768B"/>
<line x1="1520" y1="2422.6" x2="1523.6" y2="2422.6" stroke="#333" stroke-width="1.1"/>
<text x="1517.4" y="2430.6" font-size="22.4" text-anchor="end">Nicotine addiction</text>
<circle cx="1539.2" cy="2422.6" r="4.5" fill="#5C5EC1"/>
<line x1="1607.4" y1="2461.9" x2="1607.4" y2="2466.1" stroke="#333" stroke-width="1.1"/>
<text x="1607.4" y="2479.5" font-size="16.8" text-anchor="middle">0.02</text>
<line x1="1722.4" y1="2461.9" x2="1722.4" y2="2466.1" stroke="#333" stroke-width="1.1"/>
<text x="1722.4" y="2479.5" font-size="16.8" text-anchor="middle">0.03</text>
<line x1="1836.9" y1="2461.9" x2="1836.9" y2="2466.1" stroke="#333" stroke-width="1.1"/>
<text x="1836.9" y="2479.5" font-size="16.8" text-anchor="middle">0.04</text>
<text x="1699.5" y="2500.6" font-size="20.3" text-anchor="middle">GeneRatio</text>
<text x="1893.7" y="2133.6" font-size="20.3">Count</text>
<circle cx="1905" cy="2155.2" r="6.5" fill="#000"/>
<text x="1927.7" y="2158.7" font-size="9.8">15</text>
<circle cx="1905" cy="2174.6" r="7.5" fill="#000"/>
<text x="1927.7" y="2178.1" font-size="9.8">20</text>
<circle cx="1905" cy="2194.5" r="8.5" fill="#000"/>
<text x="1927.7" y="2198" font-size="9.8">25</text>
<circle cx="1905" cy="2215.3" r="9.5" fill="#000"/>
<text x="1927.7" y="2218.8" font-size="9.8">30</text>
<circle cx="1905" cy="2238" r="10.5" fill="#000"/>
<text x="1927.7" y="2241.5" font-size="9.8">35</text>
<text x="1893.7" y="2292" font-size="20.3">pvalue</text>
<defs><linearGradient id="cb4" x1="0" y1="0" x2="0" y2="1"><stop offset="0.000" stop-color="#FA8B5F"/><stop offset="0.167" stop-color="#E58272"/><stop offset="0.333" stop-color="#CF7984"/><stop offset="0.500" stop-color="#B77195"/><stop offset="0.667" stop-color="#9B6AA6"/><stop offset="0.833" stop-color="#7B62B6"/><stop offset="1.000" stop-color="#4B5CC6"/></linearGradient></defs>
<rect x="1893.7" y="2304.8" width="19" height="95.6" fill="url(#cb4)"/>
<line x1="1893.7" y1="2336.5" x2="1897.5" y2="2336.5" stroke="#fff" stroke-width="0.7" opacity="0.8"/>
<line x1="1908.9" y1="2336.5" x2="1912.7" y2="2336.5" stroke="#fff" stroke-width="0.7" opacity="0.8"/>
<text x="1922" y="2340" font-size="9.6">0.002</text>
<line x1="1893.7" y1="2368.7" x2="1897.5" y2="2368.7" stroke="#fff" stroke-width="0.7" opacity="0.8"/>
<line x1="1908.9" y1="2368.7" x2="1912.7" y2="2368.7" stroke="#fff" stroke-width="0.7" opacity="0.8"/>
<text x="1922" y="2372.2" font-size="9.6">0.001</text>
</svg>
</body></html>
